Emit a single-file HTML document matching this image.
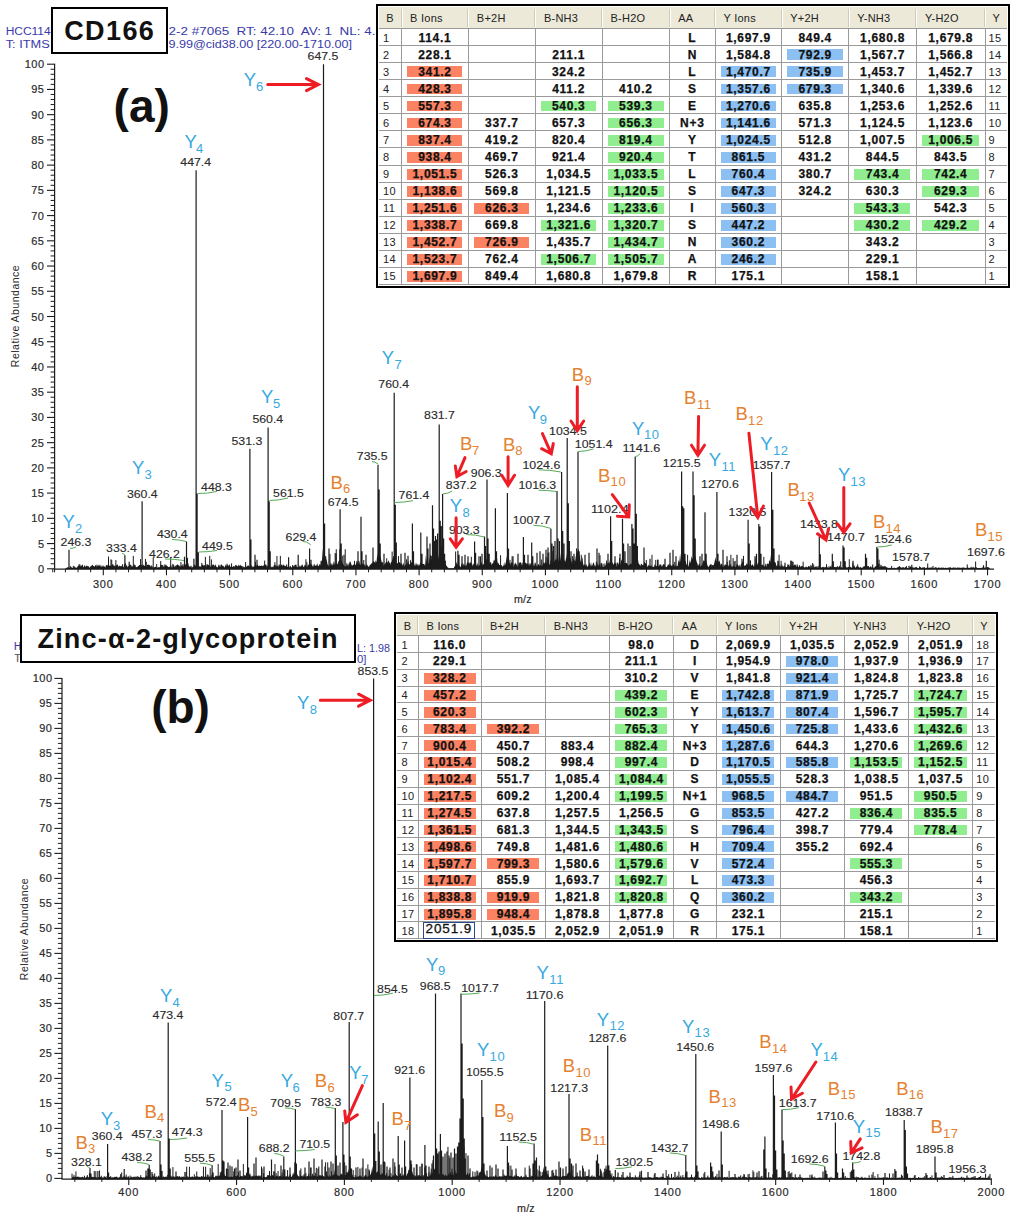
<!DOCTYPE html>
<html><head><meta charset="utf-8"><title>MS/MS spectra</title><style>
html,body{margin:0;padding:0;background:#fff}
body{width:1024px;height:1221px;position:relative;overflow:hidden;font-family:"Liberation Sans",sans-serif}
svg{position:absolute;left:0;top:0;opacity:0.999}
#w{position:absolute;left:0;top:0;width:1024px;height:1221px;opacity:0.999}
svg text{font-family:"Liberation Sans",sans-serif}
.box{position:absolute;box-sizing:border-box;border:2.6px solid #000;background:#fff;text-align:center;font-weight:bold;color:#111;white-space:nowrap;letter-spacing:0.2px}
.big{position:absolute;text-align:center;font-weight:bold;font-size:46px;line-height:56px;color:#111;white-space:nowrap}
.tbl{position:absolute;box-sizing:border-box;border:2.8px solid #000;background:#fff}
.hdr{position:absolute;background:#ece9d8;border-bottom:1px solid #c9c5b2;box-sizing:border-box}
.hc{position:absolute;font-size:11px;color:#222;line-height:22.5px;white-space:nowrap;letter-spacing:0.25px}
.hs{position:absolute;width:1px;background:#cfcbb8;border-right:1px solid #fff}
.gl{position:absolute;background:#9a9a9a}
.hl{position:absolute}
.dc{position:absolute;text-align:center;font-weight:bold;font-size:12px;color:#111;white-space:nowrap;letter-spacing:0.7px;-webkit-text-stroke:0.25px #111}
.ic{position:absolute;font-size:11px;color:#222;white-space:nowrap;letter-spacing:0.4px}
.eb{position:absolute;box-sizing:border-box;border:1.5px solid #2b4a8c;background:#fff;font-size:13.5px;line-height:12.5px;color:#111;text-align:left;padding-left:2px;white-space:nowrap;letter-spacing:0.9px;overflow:hidden;-webkit-text-stroke:0.3px #111}
</style></head>
<body>
<svg width="1024" height="1221" viewBox="0 0 1024 1221">
<line x1="54.60" y1="63.70" x2="54.60" y2="569.30" stroke="#1c1c1c" stroke-width="1.2" />
<line x1="54.10" y1="569.10" x2="994.00" y2="569.10" stroke="#1c1c1c" stroke-width="1.4" />
<line x1="47.00" y1="568.80" x2="54.60" y2="568.80" stroke="#1c1c1c" stroke-width="1.1" />
<text xml:space="preserve" x="44.50" y="572.80" font-size="11" fill="#2a2a2a" stroke="#2a2a2a" stroke-width="0.18" text-anchor="end" letter-spacing="0.5" font-weight="normal" >0</text>
<line x1="50.60" y1="563.75" x2="54.60" y2="563.75" stroke="#1c1c1c" stroke-width="1.0" />
<line x1="50.60" y1="558.71" x2="54.60" y2="558.71" stroke="#1c1c1c" stroke-width="1.0" />
<line x1="50.60" y1="553.66" x2="54.60" y2="553.66" stroke="#1c1c1c" stroke-width="1.0" />
<line x1="50.60" y1="548.62" x2="54.60" y2="548.62" stroke="#1c1c1c" stroke-width="1.0" />
<line x1="47.00" y1="543.57" x2="54.60" y2="543.57" stroke="#1c1c1c" stroke-width="1.1" />
<text xml:space="preserve" x="44.50" y="547.57" font-size="11" fill="#2a2a2a" stroke="#2a2a2a" stroke-width="0.18" text-anchor="end" letter-spacing="0.5" font-weight="normal" >5</text>
<line x1="50.60" y1="538.52" x2="54.60" y2="538.52" stroke="#1c1c1c" stroke-width="1.0" />
<line x1="50.60" y1="533.48" x2="54.60" y2="533.48" stroke="#1c1c1c" stroke-width="1.0" />
<line x1="50.60" y1="528.43" x2="54.60" y2="528.43" stroke="#1c1c1c" stroke-width="1.0" />
<line x1="50.60" y1="523.39" x2="54.60" y2="523.39" stroke="#1c1c1c" stroke-width="1.0" />
<line x1="47.00" y1="518.34" x2="54.60" y2="518.34" stroke="#1c1c1c" stroke-width="1.1" />
<text xml:space="preserve" x="44.50" y="522.34" font-size="11" fill="#2a2a2a" stroke="#2a2a2a" stroke-width="0.18" text-anchor="end" letter-spacing="0.5" font-weight="normal" >10</text>
<line x1="50.60" y1="513.29" x2="54.60" y2="513.29" stroke="#1c1c1c" stroke-width="1.0" />
<line x1="50.60" y1="508.25" x2="54.60" y2="508.25" stroke="#1c1c1c" stroke-width="1.0" />
<line x1="50.60" y1="503.20" x2="54.60" y2="503.20" stroke="#1c1c1c" stroke-width="1.0" />
<line x1="50.60" y1="498.16" x2="54.60" y2="498.16" stroke="#1c1c1c" stroke-width="1.0" />
<line x1="47.00" y1="493.11" x2="54.60" y2="493.11" stroke="#1c1c1c" stroke-width="1.1" />
<text xml:space="preserve" x="44.50" y="497.11" font-size="11" fill="#2a2a2a" stroke="#2a2a2a" stroke-width="0.18" text-anchor="end" letter-spacing="0.5" font-weight="normal" >15</text>
<line x1="50.60" y1="488.06" x2="54.60" y2="488.06" stroke="#1c1c1c" stroke-width="1.0" />
<line x1="50.60" y1="483.02" x2="54.60" y2="483.02" stroke="#1c1c1c" stroke-width="1.0" />
<line x1="50.60" y1="477.97" x2="54.60" y2="477.97" stroke="#1c1c1c" stroke-width="1.0" />
<line x1="50.60" y1="472.93" x2="54.60" y2="472.93" stroke="#1c1c1c" stroke-width="1.0" />
<line x1="47.00" y1="467.88" x2="54.60" y2="467.88" stroke="#1c1c1c" stroke-width="1.1" />
<text xml:space="preserve" x="44.50" y="471.88" font-size="11" fill="#2a2a2a" stroke="#2a2a2a" stroke-width="0.18" text-anchor="end" letter-spacing="0.5" font-weight="normal" >20</text>
<line x1="50.60" y1="462.83" x2="54.60" y2="462.83" stroke="#1c1c1c" stroke-width="1.0" />
<line x1="50.60" y1="457.79" x2="54.60" y2="457.79" stroke="#1c1c1c" stroke-width="1.0" />
<line x1="50.60" y1="452.74" x2="54.60" y2="452.74" stroke="#1c1c1c" stroke-width="1.0" />
<line x1="50.60" y1="447.70" x2="54.60" y2="447.70" stroke="#1c1c1c" stroke-width="1.0" />
<line x1="47.00" y1="442.65" x2="54.60" y2="442.65" stroke="#1c1c1c" stroke-width="1.1" />
<text xml:space="preserve" x="44.50" y="446.65" font-size="11" fill="#2a2a2a" stroke="#2a2a2a" stroke-width="0.18" text-anchor="end" letter-spacing="0.5" font-weight="normal" >25</text>
<line x1="50.60" y1="437.60" x2="54.60" y2="437.60" stroke="#1c1c1c" stroke-width="1.0" />
<line x1="50.60" y1="432.56" x2="54.60" y2="432.56" stroke="#1c1c1c" stroke-width="1.0" />
<line x1="50.60" y1="427.51" x2="54.60" y2="427.51" stroke="#1c1c1c" stroke-width="1.0" />
<line x1="50.60" y1="422.47" x2="54.60" y2="422.47" stroke="#1c1c1c" stroke-width="1.0" />
<line x1="47.00" y1="417.42" x2="54.60" y2="417.42" stroke="#1c1c1c" stroke-width="1.1" />
<text xml:space="preserve" x="44.50" y="421.42" font-size="11" fill="#2a2a2a" stroke="#2a2a2a" stroke-width="0.18" text-anchor="end" letter-spacing="0.5" font-weight="normal" >30</text>
<line x1="50.60" y1="412.37" x2="54.60" y2="412.37" stroke="#1c1c1c" stroke-width="1.0" />
<line x1="50.60" y1="407.33" x2="54.60" y2="407.33" stroke="#1c1c1c" stroke-width="1.0" />
<line x1="50.60" y1="402.28" x2="54.60" y2="402.28" stroke="#1c1c1c" stroke-width="1.0" />
<line x1="50.60" y1="397.24" x2="54.60" y2="397.24" stroke="#1c1c1c" stroke-width="1.0" />
<line x1="47.00" y1="392.19" x2="54.60" y2="392.19" stroke="#1c1c1c" stroke-width="1.1" />
<text xml:space="preserve" x="44.50" y="396.19" font-size="11" fill="#2a2a2a" stroke="#2a2a2a" stroke-width="0.18" text-anchor="end" letter-spacing="0.5" font-weight="normal" >35</text>
<line x1="50.60" y1="387.14" x2="54.60" y2="387.14" stroke="#1c1c1c" stroke-width="1.0" />
<line x1="50.60" y1="382.10" x2="54.60" y2="382.10" stroke="#1c1c1c" stroke-width="1.0" />
<line x1="50.60" y1="377.05" x2="54.60" y2="377.05" stroke="#1c1c1c" stroke-width="1.0" />
<line x1="50.60" y1="372.01" x2="54.60" y2="372.01" stroke="#1c1c1c" stroke-width="1.0" />
<line x1="47.00" y1="366.96" x2="54.60" y2="366.96" stroke="#1c1c1c" stroke-width="1.1" />
<text xml:space="preserve" x="44.50" y="370.96" font-size="11" fill="#2a2a2a" stroke="#2a2a2a" stroke-width="0.18" text-anchor="end" letter-spacing="0.5" font-weight="normal" >40</text>
<line x1="50.60" y1="361.91" x2="54.60" y2="361.91" stroke="#1c1c1c" stroke-width="1.0" />
<line x1="50.60" y1="356.87" x2="54.60" y2="356.87" stroke="#1c1c1c" stroke-width="1.0" />
<line x1="50.60" y1="351.82" x2="54.60" y2="351.82" stroke="#1c1c1c" stroke-width="1.0" />
<line x1="50.60" y1="346.78" x2="54.60" y2="346.78" stroke="#1c1c1c" stroke-width="1.0" />
<line x1="47.00" y1="341.73" x2="54.60" y2="341.73" stroke="#1c1c1c" stroke-width="1.1" />
<text xml:space="preserve" x="44.50" y="345.73" font-size="11" fill="#2a2a2a" stroke="#2a2a2a" stroke-width="0.18" text-anchor="end" letter-spacing="0.5" font-weight="normal" >45</text>
<line x1="50.60" y1="336.68" x2="54.60" y2="336.68" stroke="#1c1c1c" stroke-width="1.0" />
<line x1="50.60" y1="331.64" x2="54.60" y2="331.64" stroke="#1c1c1c" stroke-width="1.0" />
<line x1="50.60" y1="326.59" x2="54.60" y2="326.59" stroke="#1c1c1c" stroke-width="1.0" />
<line x1="50.60" y1="321.55" x2="54.60" y2="321.55" stroke="#1c1c1c" stroke-width="1.0" />
<line x1="47.00" y1="316.50" x2="54.60" y2="316.50" stroke="#1c1c1c" stroke-width="1.1" />
<text xml:space="preserve" x="44.50" y="320.50" font-size="11" fill="#2a2a2a" stroke="#2a2a2a" stroke-width="0.18" text-anchor="end" letter-spacing="0.5" font-weight="normal" >50</text>
<line x1="50.60" y1="311.45" x2="54.60" y2="311.45" stroke="#1c1c1c" stroke-width="1.0" />
<line x1="50.60" y1="306.41" x2="54.60" y2="306.41" stroke="#1c1c1c" stroke-width="1.0" />
<line x1="50.60" y1="301.36" x2="54.60" y2="301.36" stroke="#1c1c1c" stroke-width="1.0" />
<line x1="50.60" y1="296.32" x2="54.60" y2="296.32" stroke="#1c1c1c" stroke-width="1.0" />
<line x1="47.00" y1="291.27" x2="54.60" y2="291.27" stroke="#1c1c1c" stroke-width="1.1" />
<text xml:space="preserve" x="44.50" y="295.27" font-size="11" fill="#2a2a2a" stroke="#2a2a2a" stroke-width="0.18" text-anchor="end" letter-spacing="0.5" font-weight="normal" >55</text>
<line x1="50.60" y1="286.22" x2="54.60" y2="286.22" stroke="#1c1c1c" stroke-width="1.0" />
<line x1="50.60" y1="281.18" x2="54.60" y2="281.18" stroke="#1c1c1c" stroke-width="1.0" />
<line x1="50.60" y1="276.13" x2="54.60" y2="276.13" stroke="#1c1c1c" stroke-width="1.0" />
<line x1="50.60" y1="271.09" x2="54.60" y2="271.09" stroke="#1c1c1c" stroke-width="1.0" />
<line x1="47.00" y1="266.04" x2="54.60" y2="266.04" stroke="#1c1c1c" stroke-width="1.1" />
<text xml:space="preserve" x="44.50" y="270.04" font-size="11" fill="#2a2a2a" stroke="#2a2a2a" stroke-width="0.18" text-anchor="end" letter-spacing="0.5" font-weight="normal" >60</text>
<line x1="50.60" y1="260.99" x2="54.60" y2="260.99" stroke="#1c1c1c" stroke-width="1.0" />
<line x1="50.60" y1="255.95" x2="54.60" y2="255.95" stroke="#1c1c1c" stroke-width="1.0" />
<line x1="50.60" y1="250.90" x2="54.60" y2="250.90" stroke="#1c1c1c" stroke-width="1.0" />
<line x1="50.60" y1="245.86" x2="54.60" y2="245.86" stroke="#1c1c1c" stroke-width="1.0" />
<line x1="47.00" y1="240.81" x2="54.60" y2="240.81" stroke="#1c1c1c" stroke-width="1.1" />
<text xml:space="preserve" x="44.50" y="244.81" font-size="11" fill="#2a2a2a" stroke="#2a2a2a" stroke-width="0.18" text-anchor="end" letter-spacing="0.5" font-weight="normal" >65</text>
<line x1="50.60" y1="235.76" x2="54.60" y2="235.76" stroke="#1c1c1c" stroke-width="1.0" />
<line x1="50.60" y1="230.72" x2="54.60" y2="230.72" stroke="#1c1c1c" stroke-width="1.0" />
<line x1="50.60" y1="225.67" x2="54.60" y2="225.67" stroke="#1c1c1c" stroke-width="1.0" />
<line x1="50.60" y1="220.63" x2="54.60" y2="220.63" stroke="#1c1c1c" stroke-width="1.0" />
<line x1="47.00" y1="215.58" x2="54.60" y2="215.58" stroke="#1c1c1c" stroke-width="1.1" />
<text xml:space="preserve" x="44.50" y="219.58" font-size="11" fill="#2a2a2a" stroke="#2a2a2a" stroke-width="0.18" text-anchor="end" letter-spacing="0.5" font-weight="normal" >70</text>
<line x1="50.60" y1="210.53" x2="54.60" y2="210.53" stroke="#1c1c1c" stroke-width="1.0" />
<line x1="50.60" y1="205.49" x2="54.60" y2="205.49" stroke="#1c1c1c" stroke-width="1.0" />
<line x1="50.60" y1="200.44" x2="54.60" y2="200.44" stroke="#1c1c1c" stroke-width="1.0" />
<line x1="50.60" y1="195.40" x2="54.60" y2="195.40" stroke="#1c1c1c" stroke-width="1.0" />
<line x1="47.00" y1="190.35" x2="54.60" y2="190.35" stroke="#1c1c1c" stroke-width="1.1" />
<text xml:space="preserve" x="44.50" y="194.35" font-size="11" fill="#2a2a2a" stroke="#2a2a2a" stroke-width="0.18" text-anchor="end" letter-spacing="0.5" font-weight="normal" >75</text>
<line x1="50.60" y1="185.30" x2="54.60" y2="185.30" stroke="#1c1c1c" stroke-width="1.0" />
<line x1="50.60" y1="180.26" x2="54.60" y2="180.26" stroke="#1c1c1c" stroke-width="1.0" />
<line x1="50.60" y1="175.21" x2="54.60" y2="175.21" stroke="#1c1c1c" stroke-width="1.0" />
<line x1="50.60" y1="170.17" x2="54.60" y2="170.17" stroke="#1c1c1c" stroke-width="1.0" />
<line x1="47.00" y1="165.12" x2="54.60" y2="165.12" stroke="#1c1c1c" stroke-width="1.1" />
<text xml:space="preserve" x="44.50" y="169.12" font-size="11" fill="#2a2a2a" stroke="#2a2a2a" stroke-width="0.18" text-anchor="end" letter-spacing="0.5" font-weight="normal" >80</text>
<line x1="50.60" y1="160.07" x2="54.60" y2="160.07" stroke="#1c1c1c" stroke-width="1.0" />
<line x1="50.60" y1="155.03" x2="54.60" y2="155.03" stroke="#1c1c1c" stroke-width="1.0" />
<line x1="50.60" y1="149.98" x2="54.60" y2="149.98" stroke="#1c1c1c" stroke-width="1.0" />
<line x1="50.60" y1="144.94" x2="54.60" y2="144.94" stroke="#1c1c1c" stroke-width="1.0" />
<line x1="47.00" y1="139.89" x2="54.60" y2="139.89" stroke="#1c1c1c" stroke-width="1.1" />
<text xml:space="preserve" x="44.50" y="143.89" font-size="11" fill="#2a2a2a" stroke="#2a2a2a" stroke-width="0.18" text-anchor="end" letter-spacing="0.5" font-weight="normal" >85</text>
<line x1="50.60" y1="134.84" x2="54.60" y2="134.84" stroke="#1c1c1c" stroke-width="1.0" />
<line x1="50.60" y1="129.80" x2="54.60" y2="129.80" stroke="#1c1c1c" stroke-width="1.0" />
<line x1="50.60" y1="124.75" x2="54.60" y2="124.75" stroke="#1c1c1c" stroke-width="1.0" />
<line x1="50.60" y1="119.71" x2="54.60" y2="119.71" stroke="#1c1c1c" stroke-width="1.0" />
<line x1="47.00" y1="114.66" x2="54.60" y2="114.66" stroke="#1c1c1c" stroke-width="1.1" />
<text xml:space="preserve" x="44.50" y="118.66" font-size="11" fill="#2a2a2a" stroke="#2a2a2a" stroke-width="0.18" text-anchor="end" letter-spacing="0.5" font-weight="normal" >90</text>
<line x1="50.60" y1="109.61" x2="54.60" y2="109.61" stroke="#1c1c1c" stroke-width="1.0" />
<line x1="50.60" y1="104.57" x2="54.60" y2="104.57" stroke="#1c1c1c" stroke-width="1.0" />
<line x1="50.60" y1="99.52" x2="54.60" y2="99.52" stroke="#1c1c1c" stroke-width="1.0" />
<line x1="50.60" y1="94.48" x2="54.60" y2="94.48" stroke="#1c1c1c" stroke-width="1.0" />
<line x1="47.00" y1="89.43" x2="54.60" y2="89.43" stroke="#1c1c1c" stroke-width="1.1" />
<text xml:space="preserve" x="44.50" y="93.43" font-size="11" fill="#2a2a2a" stroke="#2a2a2a" stroke-width="0.18" text-anchor="end" letter-spacing="0.5" font-weight="normal" >95</text>
<line x1="50.60" y1="84.38" x2="54.60" y2="84.38" stroke="#1c1c1c" stroke-width="1.0" />
<line x1="50.60" y1="79.34" x2="54.60" y2="79.34" stroke="#1c1c1c" stroke-width="1.0" />
<line x1="50.60" y1="74.29" x2="54.60" y2="74.29" stroke="#1c1c1c" stroke-width="1.0" />
<line x1="50.60" y1="69.25" x2="54.60" y2="69.25" stroke="#1c1c1c" stroke-width="1.0" />
<line x1="47.00" y1="64.20" x2="54.60" y2="64.20" stroke="#1c1c1c" stroke-width="1.1" />
<text xml:space="preserve" x="44.50" y="68.20" font-size="11" fill="#2a2a2a" stroke="#2a2a2a" stroke-width="0.18" text-anchor="end" letter-spacing="0.5" font-weight="normal" >100</text>
<line x1="52.77" y1="568.80" x2="52.77" y2="572.30" stroke="#1c1c1c" stroke-width="1.0" />
<line x1="65.40" y1="568.80" x2="65.40" y2="572.30" stroke="#1c1c1c" stroke-width="1.0" />
<line x1="78.04" y1="568.80" x2="78.04" y2="572.30" stroke="#1c1c1c" stroke-width="1.0" />
<line x1="90.67" y1="568.80" x2="90.67" y2="572.30" stroke="#1c1c1c" stroke-width="1.0" />
<line x1="103.30" y1="568.80" x2="103.30" y2="575.30" stroke="#1c1c1c" stroke-width="1.1" />
<text xml:space="preserve" x="103.30" y="588.00" font-size="11" fill="#2a2a2a" stroke="#2a2a2a" stroke-width="0.18" text-anchor="middle" letter-spacing="0.8" font-weight="normal" >300</text>
<line x1="115.93" y1="568.80" x2="115.93" y2="572.30" stroke="#1c1c1c" stroke-width="1.0" />
<line x1="128.56" y1="568.80" x2="128.56" y2="572.30" stroke="#1c1c1c" stroke-width="1.0" />
<line x1="141.20" y1="568.80" x2="141.20" y2="572.30" stroke="#1c1c1c" stroke-width="1.0" />
<line x1="153.83" y1="568.80" x2="153.83" y2="572.30" stroke="#1c1c1c" stroke-width="1.0" />
<line x1="166.46" y1="568.80" x2="166.46" y2="575.30" stroke="#1c1c1c" stroke-width="1.1" />
<text xml:space="preserve" x="166.46" y="588.00" font-size="11" fill="#2a2a2a" stroke="#2a2a2a" stroke-width="0.18" text-anchor="middle" letter-spacing="0.8" font-weight="normal" >400</text>
<line x1="179.09" y1="568.80" x2="179.09" y2="572.30" stroke="#1c1c1c" stroke-width="1.0" />
<line x1="191.72" y1="568.80" x2="191.72" y2="572.30" stroke="#1c1c1c" stroke-width="1.0" />
<line x1="204.36" y1="568.80" x2="204.36" y2="572.30" stroke="#1c1c1c" stroke-width="1.0" />
<line x1="216.99" y1="568.80" x2="216.99" y2="572.30" stroke="#1c1c1c" stroke-width="1.0" />
<line x1="229.62" y1="568.80" x2="229.62" y2="575.30" stroke="#1c1c1c" stroke-width="1.1" />
<text xml:space="preserve" x="229.62" y="588.00" font-size="11" fill="#2a2a2a" stroke="#2a2a2a" stroke-width="0.18" text-anchor="middle" letter-spacing="0.8" font-weight="normal" >500</text>
<line x1="242.25" y1="568.80" x2="242.25" y2="572.30" stroke="#1c1c1c" stroke-width="1.0" />
<line x1="254.88" y1="568.80" x2="254.88" y2="572.30" stroke="#1c1c1c" stroke-width="1.0" />
<line x1="267.52" y1="568.80" x2="267.52" y2="572.30" stroke="#1c1c1c" stroke-width="1.0" />
<line x1="280.15" y1="568.80" x2="280.15" y2="572.30" stroke="#1c1c1c" stroke-width="1.0" />
<line x1="292.78" y1="568.80" x2="292.78" y2="575.30" stroke="#1c1c1c" stroke-width="1.1" />
<text xml:space="preserve" x="292.78" y="588.00" font-size="11" fill="#2a2a2a" stroke="#2a2a2a" stroke-width="0.18" text-anchor="middle" letter-spacing="0.8" font-weight="normal" >600</text>
<line x1="305.41" y1="568.80" x2="305.41" y2="572.30" stroke="#1c1c1c" stroke-width="1.0" />
<line x1="318.04" y1="568.80" x2="318.04" y2="572.30" stroke="#1c1c1c" stroke-width="1.0" />
<line x1="330.68" y1="568.80" x2="330.68" y2="572.30" stroke="#1c1c1c" stroke-width="1.0" />
<line x1="343.31" y1="568.80" x2="343.31" y2="572.30" stroke="#1c1c1c" stroke-width="1.0" />
<line x1="355.94" y1="568.80" x2="355.94" y2="575.30" stroke="#1c1c1c" stroke-width="1.1" />
<text xml:space="preserve" x="355.94" y="588.00" font-size="11" fill="#2a2a2a" stroke="#2a2a2a" stroke-width="0.18" text-anchor="middle" letter-spacing="0.8" font-weight="normal" >700</text>
<line x1="368.57" y1="568.80" x2="368.57" y2="572.30" stroke="#1c1c1c" stroke-width="1.0" />
<line x1="381.20" y1="568.80" x2="381.20" y2="572.30" stroke="#1c1c1c" stroke-width="1.0" />
<line x1="393.84" y1="568.80" x2="393.84" y2="572.30" stroke="#1c1c1c" stroke-width="1.0" />
<line x1="406.47" y1="568.80" x2="406.47" y2="572.30" stroke="#1c1c1c" stroke-width="1.0" />
<line x1="419.10" y1="568.80" x2="419.10" y2="575.30" stroke="#1c1c1c" stroke-width="1.1" />
<text xml:space="preserve" x="419.10" y="588.00" font-size="11" fill="#2a2a2a" stroke="#2a2a2a" stroke-width="0.18" text-anchor="middle" letter-spacing="0.8" font-weight="normal" >800</text>
<line x1="431.73" y1="568.80" x2="431.73" y2="572.30" stroke="#1c1c1c" stroke-width="1.0" />
<line x1="444.36" y1="568.80" x2="444.36" y2="572.30" stroke="#1c1c1c" stroke-width="1.0" />
<line x1="457.00" y1="568.80" x2="457.00" y2="572.30" stroke="#1c1c1c" stroke-width="1.0" />
<line x1="469.63" y1="568.80" x2="469.63" y2="572.30" stroke="#1c1c1c" stroke-width="1.0" />
<line x1="482.26" y1="568.80" x2="482.26" y2="575.30" stroke="#1c1c1c" stroke-width="1.1" />
<text xml:space="preserve" x="482.26" y="588.00" font-size="11" fill="#2a2a2a" stroke="#2a2a2a" stroke-width="0.18" text-anchor="middle" letter-spacing="0.8" font-weight="normal" >900</text>
<line x1="494.89" y1="568.80" x2="494.89" y2="572.30" stroke="#1c1c1c" stroke-width="1.0" />
<line x1="507.52" y1="568.80" x2="507.52" y2="572.30" stroke="#1c1c1c" stroke-width="1.0" />
<line x1="520.16" y1="568.80" x2="520.16" y2="572.30" stroke="#1c1c1c" stroke-width="1.0" />
<line x1="532.79" y1="568.80" x2="532.79" y2="572.30" stroke="#1c1c1c" stroke-width="1.0" />
<line x1="545.42" y1="568.80" x2="545.42" y2="575.30" stroke="#1c1c1c" stroke-width="1.1" />
<text xml:space="preserve" x="545.42" y="588.00" font-size="11" fill="#2a2a2a" stroke="#2a2a2a" stroke-width="0.18" text-anchor="middle" letter-spacing="0.8" font-weight="normal" >1000</text>
<line x1="558.05" y1="568.80" x2="558.05" y2="572.30" stroke="#1c1c1c" stroke-width="1.0" />
<line x1="570.68" y1="568.80" x2="570.68" y2="572.30" stroke="#1c1c1c" stroke-width="1.0" />
<line x1="583.32" y1="568.80" x2="583.32" y2="572.30" stroke="#1c1c1c" stroke-width="1.0" />
<line x1="595.95" y1="568.80" x2="595.95" y2="572.30" stroke="#1c1c1c" stroke-width="1.0" />
<line x1="608.58" y1="568.80" x2="608.58" y2="575.30" stroke="#1c1c1c" stroke-width="1.1" />
<text xml:space="preserve" x="608.58" y="588.00" font-size="11" fill="#2a2a2a" stroke="#2a2a2a" stroke-width="0.18" text-anchor="middle" letter-spacing="0.8" font-weight="normal" >1100</text>
<line x1="621.21" y1="568.80" x2="621.21" y2="572.30" stroke="#1c1c1c" stroke-width="1.0" />
<line x1="633.84" y1="568.80" x2="633.84" y2="572.30" stroke="#1c1c1c" stroke-width="1.0" />
<line x1="646.48" y1="568.80" x2="646.48" y2="572.30" stroke="#1c1c1c" stroke-width="1.0" />
<line x1="659.11" y1="568.80" x2="659.11" y2="572.30" stroke="#1c1c1c" stroke-width="1.0" />
<line x1="671.74" y1="568.80" x2="671.74" y2="575.30" stroke="#1c1c1c" stroke-width="1.1" />
<text xml:space="preserve" x="671.74" y="588.00" font-size="11" fill="#2a2a2a" stroke="#2a2a2a" stroke-width="0.18" text-anchor="middle" letter-spacing="0.8" font-weight="normal" >1200</text>
<line x1="684.37" y1="568.80" x2="684.37" y2="572.30" stroke="#1c1c1c" stroke-width="1.0" />
<line x1="697.00" y1="568.80" x2="697.00" y2="572.30" stroke="#1c1c1c" stroke-width="1.0" />
<line x1="709.64" y1="568.80" x2="709.64" y2="572.30" stroke="#1c1c1c" stroke-width="1.0" />
<line x1="722.27" y1="568.80" x2="722.27" y2="572.30" stroke="#1c1c1c" stroke-width="1.0" />
<line x1="734.90" y1="568.80" x2="734.90" y2="575.30" stroke="#1c1c1c" stroke-width="1.1" />
<text xml:space="preserve" x="734.90" y="588.00" font-size="11" fill="#2a2a2a" stroke="#2a2a2a" stroke-width="0.18" text-anchor="middle" letter-spacing="0.8" font-weight="normal" >1300</text>
<line x1="747.53" y1="568.80" x2="747.53" y2="572.30" stroke="#1c1c1c" stroke-width="1.0" />
<line x1="760.16" y1="568.80" x2="760.16" y2="572.30" stroke="#1c1c1c" stroke-width="1.0" />
<line x1="772.80" y1="568.80" x2="772.80" y2="572.30" stroke="#1c1c1c" stroke-width="1.0" />
<line x1="785.43" y1="568.80" x2="785.43" y2="572.30" stroke="#1c1c1c" stroke-width="1.0" />
<line x1="798.06" y1="568.80" x2="798.06" y2="575.30" stroke="#1c1c1c" stroke-width="1.1" />
<text xml:space="preserve" x="798.06" y="588.00" font-size="11" fill="#2a2a2a" stroke="#2a2a2a" stroke-width="0.18" text-anchor="middle" letter-spacing="0.8" font-weight="normal" >1400</text>
<line x1="810.69" y1="568.80" x2="810.69" y2="572.30" stroke="#1c1c1c" stroke-width="1.0" />
<line x1="823.32" y1="568.80" x2="823.32" y2="572.30" stroke="#1c1c1c" stroke-width="1.0" />
<line x1="835.96" y1="568.80" x2="835.96" y2="572.30" stroke="#1c1c1c" stroke-width="1.0" />
<line x1="848.59" y1="568.80" x2="848.59" y2="572.30" stroke="#1c1c1c" stroke-width="1.0" />
<line x1="861.22" y1="568.80" x2="861.22" y2="575.30" stroke="#1c1c1c" stroke-width="1.1" />
<text xml:space="preserve" x="861.22" y="588.00" font-size="11" fill="#2a2a2a" stroke="#2a2a2a" stroke-width="0.18" text-anchor="middle" letter-spacing="0.8" font-weight="normal" >1500</text>
<line x1="873.85" y1="568.80" x2="873.85" y2="572.30" stroke="#1c1c1c" stroke-width="1.0" />
<line x1="886.48" y1="568.80" x2="886.48" y2="572.30" stroke="#1c1c1c" stroke-width="1.0" />
<line x1="899.12" y1="568.80" x2="899.12" y2="572.30" stroke="#1c1c1c" stroke-width="1.0" />
<line x1="911.75" y1="568.80" x2="911.75" y2="572.30" stroke="#1c1c1c" stroke-width="1.0" />
<line x1="924.38" y1="568.80" x2="924.38" y2="575.30" stroke="#1c1c1c" stroke-width="1.1" />
<text xml:space="preserve" x="924.38" y="588.00" font-size="11" fill="#2a2a2a" stroke="#2a2a2a" stroke-width="0.18" text-anchor="middle" letter-spacing="0.8" font-weight="normal" >1600</text>
<line x1="937.01" y1="568.80" x2="937.01" y2="572.30" stroke="#1c1c1c" stroke-width="1.0" />
<line x1="949.64" y1="568.80" x2="949.64" y2="572.30" stroke="#1c1c1c" stroke-width="1.0" />
<line x1="962.28" y1="568.80" x2="962.28" y2="572.30" stroke="#1c1c1c" stroke-width="1.0" />
<line x1="974.91" y1="568.80" x2="974.91" y2="572.30" stroke="#1c1c1c" stroke-width="1.0" />
<line x1="987.54" y1="568.80" x2="987.54" y2="575.30" stroke="#1c1c1c" stroke-width="1.1" />
<text xml:space="preserve" x="987.54" y="588.00" font-size="11" fill="#2a2a2a" stroke="#2a2a2a" stroke-width="0.18" text-anchor="middle" letter-spacing="0.8" font-weight="normal" >1700</text>
<line x1="54.60" y1="568.80" x2="54.60" y2="572.30" stroke="#1c1c1c" stroke-width="1.0" />
<text xml:space="preserve" x="522.80" y="603.30" font-size="10.7" fill="#2a2a2a" stroke="#2a2a2a" stroke-width="0.18" text-anchor="middle" letter-spacing="0.2" font-weight="normal" >m/z</text>
<text transform="translate(19,316) rotate(-90)" font-size="10.5" fill="#2a2a2a" text-anchor="middle" letter-spacing="0.5">Relative Abundance</text>
<path d="M66.0,569.10L66.00,567.71L66.70,568.02L67.40,567.11L68.10,568.16L68.80,567.32L69.50,567.63L70.20,568.19L70.90,567.37L71.60,568.23L72.30,567.51L73.00,568.17L73.70,568.13L74.40,567.52L75.10,566.79L75.80,568.07L76.50,567.89L77.20,567.16L77.90,566.57L78.60,565.69L79.30,566.35L80.00,564.24L80.70,567.62L81.40,564.67L82.10,566.74L82.80,567.27L83.50,567.36L84.20,566.67L84.90,564.83L85.60,567.13L86.30,565.68L87.00,565.47L87.70,566.44L88.40,565.80L89.10,567.56L89.80,567.57L90.50,567.04L91.20,565.32L91.90,566.24L92.60,566.65L93.30,565.66L94.00,566.14L94.70,566.70L95.40,564.90L96.10,565.25L96.80,566.90L97.50,565.70L98.20,565.88L98.90,564.61L99.60,565.14L100.30,566.74L101.00,564.23L101.70,567.36L102.40,566.27L103.10,565.04L103.80,567.24L104.50,566.01L105.20,567.65L105.90,565.36L106.60,565.01L107.30,565.71L108.00,564.61L108.70,566.65L109.40,565.26L110.10,565.63L110.80,565.68L111.50,566.13L112.20,564.74L112.90,564.36L113.60,566.07L114.30,565.38L115.00,567.57L115.70,565.24L116.40,565.44L117.10,564.18L117.80,564.80L118.50,566.76L119.20,566.39L119.90,565.36L120.60,567.71L121.30,566.11L122.00,567.18L122.70,567.37L123.40,567.58L124.10,565.00L124.80,567.32L125.50,566.89L126.20,566.37L126.90,564.62L127.60,567.50L128.30,566.16L129.00,565.79L129.70,564.58L130.40,564.81L131.10,564.65L131.80,566.78L132.50,566.28L133.20,566.49L133.90,564.58L134.60,564.31L135.30,567.24L136.00,567.15L136.70,566.95L137.40,566.94L138.10,566.03L138.80,565.65L139.50,566.84L140.20,567.78L140.90,566.27L141.60,566.45L142.30,565.73L143.00,564.33L143.70,565.28L144.40,565.92L145.10,565.55L145.80,565.33L146.50,567.59L147.20,564.52L147.90,564.96L148.60,564.61L149.30,564.89L150.00,566.37L150.70,566.34L151.40,567.41L152.10,565.49L152.80,567.56L153.50,567.55L154.20,567.03L154.90,567.20L155.60,566.56L156.30,567.60L157.00,567.79L157.70,567.24L158.40,567.42L159.10,566.47L159.80,567.70L160.50,564.61L161.20,565.56L161.90,567.25L162.60,566.87L163.30,566.53L164.00,566.47L164.70,567.34L165.40,564.71L166.10,564.18L166.80,566.10L167.50,566.03L168.20,567.48L168.90,567.42L169.60,566.55L170.30,566.83L171.00,564.78L171.70,567.20L172.40,567.71L173.10,564.34L173.80,565.87L174.50,567.26L175.20,565.82L175.90,567.69L176.60,565.87L177.30,564.24L178.00,564.65L178.70,565.26L179.40,566.84L180.10,566.46L180.80,567.18L181.50,564.99L182.20,565.86L182.90,564.96L183.60,566.59L184.30,566.98L185.00,564.84L185.70,564.21L186.40,564.69L187.10,564.86L187.80,564.82L188.50,565.10L189.20,566.97L189.90,565.91L190.60,566.50L191.30,567.69L192.00,567.69L192.70,566.78L193.40,566.85L194.10,565.27L194.80,564.32L195.50,566.17L196.20,564.39L196.90,564.20L197.60,564.32L198.30,566.47L199.00,566.99L199.70,566.97L200.40,567.08L201.10,567.05L201.80,565.52L202.50,564.52L203.20,564.74L203.90,566.05L204.60,565.42L205.30,564.89L206.00,567.48L206.70,565.39L207.40,564.49L208.10,564.95L208.80,565.07L209.50,566.05L210.20,567.14L210.90,564.92L211.60,566.58L212.30,564.88L213.00,564.26L213.70,566.35L214.40,566.33L215.10,564.35L215.80,565.16L216.50,567.17L217.20,567.33L217.90,567.24L218.60,564.50L219.30,564.86L220.00,567.26L220.70,564.79L221.40,564.23L222.10,565.40L222.80,566.52L223.50,565.80L224.20,567.31L224.90,567.74L225.60,564.26L226.30,565.43L227.00,565.88L227.70,564.40L228.40,566.21L229.10,564.62L229.80,564.79L230.50,567.02L231.20,566.88L231.90,566.73L232.60,566.92L233.30,565.66L234.00,566.85L234.70,566.27L235.40,567.31L236.10,564.48L236.80,566.51L237.50,566.13L238.20,565.67L238.90,564.51L239.60,566.26L240.30,564.46L241.00,565.97L241.70,565.86L242.40,565.89L243.10,567.72L243.80,566.19L244.50,567.13L245.20,567.78L245.90,564.89L246.60,567.16L247.30,566.07L248.00,565.16L248.70,565.77L249.40,566.61L250.10,565.91L250.80,565.77L251.50,564.94L252.20,567.41L252.90,565.76L253.60,566.89L254.30,566.78L255.00,564.99L255.70,565.95L256.40,565.75L257.10,565.03L257.80,564.48L258.50,566.18L259.20,565.57L259.90,565.95L260.60,565.93L261.30,565.27L262.00,566.15L262.70,565.85L263.40,566.05L264.10,564.37L264.80,565.25L265.50,564.61L266.20,564.37L266.90,566.85L267.60,565.76L268.30,564.36L269.00,564.74L269.70,567.29L270.40,567.35L271.10,566.18L271.80,567.53L272.50,566.92L273.20,567.53L273.90,565.36L274.60,564.94L275.30,564.53L276.00,567.23L276.70,565.19L277.40,565.39L278.10,567.27L278.80,564.58L279.50,564.28L280.20,566.99L280.90,564.33L281.60,566.34L282.30,566.02L283.00,564.19L283.70,564.77L284.40,567.20L285.10,566.22L285.80,565.92L286.50,566.56L287.20,567.08L287.90,566.63L288.60,565.17L289.30,567.72L290.00,565.78L290.70,566.19L291.40,567.73L292.10,566.59L292.80,565.52L293.50,565.93L294.20,567.56L294.90,564.21L295.60,564.93L296.30,564.26L297.00,567.41L297.70,566.83L298.40,567.65L299.10,564.96L299.80,566.81L300.50,567.32L301.20,566.26L301.90,564.48L302.60,564.82L303.30,566.85L304.00,567.25L304.70,564.45L305.40,565.72L306.10,564.36L306.80,567.13L307.50,567.28L308.20,564.41L308.90,565.61L309.60,567.21L310.30,563.28L311.00,564.66L311.70,563.90L312.40,567.16L313.10,563.65L313.80,567.24L314.50,563.62L315.20,565.48L315.90,566.00L316.60,565.03L317.30,563.33L318.00,566.32L318.70,566.21L319.40,563.68L320.10,565.52L320.80,566.34L321.50,566.01L322.20,566.71L322.90,565.75L323.60,565.05L324.30,565.09L325.00,562.21L325.70,565.19L326.40,563.85L327.10,565.90L327.80,564.83L328.50,566.92L329.20,565.44L329.90,566.94L330.60,562.37L331.30,563.53L332.00,565.83L332.70,564.02L333.40,561.09L334.10,566.36L334.80,561.83L335.50,564.29L336.20,563.89L336.90,561.73L337.60,564.53L338.30,563.81L339.00,562.66L339.70,560.79L340.40,564.85L341.10,561.74L341.80,562.54L342.50,562.99L343.20,564.46L343.90,564.82L344.60,566.69L345.30,566.21L346.00,566.58L346.70,562.32L347.40,565.41L348.10,566.00L348.80,566.50L349.50,561.69L350.20,561.50L350.90,562.77L351.60,565.24L352.30,565.49L353.00,565.17L353.70,564.11L354.40,566.03L355.10,564.20L355.80,565.36L356.50,560.92L357.20,560.85L357.90,563.56L358.60,565.48L359.30,560.89L360.00,565.07L360.70,564.77L361.40,567.03L362.10,564.61L362.80,564.02L363.50,563.84L364.20,565.76L364.90,563.82L365.60,567.00L366.30,565.35L367.00,566.46L367.70,564.49L368.40,566.77L369.10,566.89L369.80,565.10L370.50,565.55L371.20,563.31L371.90,563.67L372.60,562.26L373.30,562.85L374.00,562.48L374.70,561.44L375.40,564.56L376.10,564.96L376.80,560.77L377.50,566.08L378.20,562.43L378.90,562.94L379.60,566.76L380.30,561.72L381.00,561.36L381.70,563.05L382.40,562.37L383.10,561.87L383.80,566.15L384.50,563.70L385.20,563.83L385.90,561.73L386.60,561.92L387.30,561.78L388.00,563.32L388.70,561.36L389.40,562.69L390.10,562.63L390.80,565.57L391.50,566.84L392.20,566.19L392.90,564.74L393.60,566.37L394.30,561.72L395.00,563.48L395.70,563.04L396.40,563.05L397.10,562.71L397.80,563.92L398.50,567.01L399.20,561.96L399.90,562.28L400.60,563.84L401.30,563.63L402.00,562.84L402.70,566.61L403.40,562.35L404.10,565.43L404.80,566.56L405.50,565.35L406.20,562.40L406.90,565.73L407.60,562.33L408.30,560.83L409.00,563.89L409.70,564.60L410.40,563.99L411.10,562.69L411.80,562.16L412.50,563.11L413.20,562.95L413.90,566.54L414.60,566.10L415.30,565.42L416.00,562.31L416.70,565.10L417.40,563.42L418.10,566.95L418.80,566.65L419.50,565.33L420.20,562.76L420.90,562.63L421.60,562.74L422.30,565.18L423.00,563.75L423.70,564.08L424.40,564.07L425.10,566.28L425.80,554.97L426.50,563.17L427.20,553.97L427.90,554.47L428.60,565.31L429.30,560.10L430.00,555.84L430.70,554.09L431.40,560.21L432.10,562.35L432.80,563.04L433.50,554.35L434.20,563.03L434.90,558.65L435.60,563.85L436.30,559.33L437.00,554.27L437.70,563.95L438.40,555.84L439.10,559.51L439.80,555.05L440.50,557.22L441.20,562.79L441.90,554.92L442.60,559.78L443.30,565.23L444.00,565.48L444.70,559.71L445.40,560.20L446.10,568.48L446.80,568.57L447.50,568.46L448.20,568.48L448.90,568.19L449.60,568.65L450.30,568.24L451.00,568.19L451.70,568.58L452.40,568.14L453.10,568.26L453.80,568.16L454.50,568.49L455.20,565.26L455.90,565.15L456.60,561.84L457.30,564.08L458.00,565.32L458.70,564.95L459.40,565.79L460.10,567.02L460.80,566.73L461.50,562.74L462.20,565.73L462.90,562.19L463.60,565.93L464.30,565.84L465.00,564.50L465.70,566.25L466.40,565.25L467.10,562.08L467.80,562.47L468.50,562.86L469.20,563.85L469.90,562.31L470.60,562.16L471.30,564.29L472.00,563.36L472.70,567.02L473.40,563.30L474.10,564.83L474.80,563.18L475.50,563.77L476.20,565.73L476.90,567.02L477.60,562.24L478.30,566.59L479.00,564.71L479.70,565.41L480.40,565.66L481.10,563.26L481.80,561.97L482.50,565.87L483.20,563.71L483.90,565.65L484.60,564.25L485.30,565.14L486.00,566.37L486.70,566.41L487.40,566.15L488.10,562.35L488.80,564.58L489.50,566.09L490.20,562.35L490.90,561.86L491.60,564.83L492.30,566.53L493.00,566.24L493.70,566.79L494.40,565.42L495.10,566.79L495.80,565.98L496.50,565.88L497.20,564.18L497.90,562.45L498.60,563.20L499.30,565.04L500.00,565.03L500.70,564.43L501.40,565.23L502.10,565.44L502.80,566.95L503.50,565.77L504.20,562.01L504.90,566.60L505.60,564.54L506.30,563.85L507.00,562.58L507.70,566.11L508.40,565.81L509.10,565.93L509.80,565.11L510.50,564.86L511.20,562.09L511.90,562.66L512.60,562.53L513.30,567.17L514.00,567.11L514.70,563.42L515.40,562.40L516.10,564.71L516.80,564.09L517.50,567.29L518.20,565.15L518.90,562.24L519.60,562.79L520.30,562.62L521.00,561.99L521.70,565.93L522.40,566.69L523.10,566.44L523.80,564.44L524.50,563.57L525.20,562.16L525.90,563.35L526.60,563.76L527.30,563.12L528.00,564.79L528.70,564.28L529.40,567.07L530.10,563.02L530.80,566.02L531.50,562.27L532.20,563.77L532.90,565.63L533.60,566.59L534.30,565.91L535.00,563.82L535.70,563.48L536.40,566.68L537.10,566.90L537.80,564.43L538.50,564.11L539.20,565.17L539.90,566.07L540.60,564.01L541.30,567.23L542.00,565.64L542.70,564.78L543.40,562.06L544.10,563.77L544.80,562.47L545.50,561.28L546.20,563.68L546.90,563.56L547.60,556.43L548.30,558.98L549.00,562.95L549.70,565.81L550.40,561.05L551.10,559.29L551.80,561.83L552.50,563.45L553.20,559.36L553.90,556.78L554.60,563.76L555.30,565.68L556.00,562.65L556.70,561.82L557.40,559.21L558.10,564.05L558.80,558.06L559.50,558.64L560.20,560.98L560.90,563.97L561.60,556.33L562.30,562.91L563.00,557.83L563.70,563.72L564.40,563.81L565.10,558.43L565.80,563.08L566.50,556.51L567.20,561.07L567.90,564.15L568.60,563.79L569.30,561.86L570.00,559.38L570.70,556.55L571.40,564.56L572.10,562.09L572.80,563.90L573.50,556.29L574.20,564.61L574.90,565.51L575.60,565.42L576.30,562.09L577.00,557.05L577.70,557.20L578.40,558.70L579.10,556.06L579.80,556.72L580.50,562.74L581.20,564.17L581.90,556.67L582.60,558.57L583.30,565.71L584.00,563.67L584.70,565.22L585.40,565.25L586.10,565.48L586.80,566.36L587.50,567.27L588.20,565.76L588.90,565.37L589.60,562.08L590.30,566.61L591.00,562.03L591.70,566.16L592.40,565.34L593.10,562.81L593.80,562.81L594.50,564.93L595.20,567.02L595.90,564.71L596.60,565.26L597.30,562.28L598.00,566.23L598.70,565.30L599.40,562.40L600.10,567.12L600.80,565.05L601.50,562.86L602.20,563.11L602.90,567.06L603.60,567.10L604.30,566.95L605.00,562.27L605.70,565.89L606.40,563.21L607.10,562.39L607.80,565.44L608.50,565.80L609.20,562.07L609.90,563.92L610.60,565.86L611.30,563.38L612.00,565.56L612.70,565.78L613.40,567.27L614.10,563.17L614.80,562.29L615.50,563.83L616.20,562.15L616.90,567.15L617.60,566.01L618.30,564.70L619.00,562.07L619.70,562.09L620.40,565.18L621.10,565.92L621.80,564.94L622.50,564.60L623.20,562.23L623.90,566.29L624.60,562.91L625.30,563.26L626.00,562.80L626.70,563.07L627.40,563.98L628.10,565.50L628.80,565.54L629.50,565.31L630.20,563.02L630.90,566.86L631.60,566.21L632.30,563.18L633.00,565.94L633.70,566.93L634.40,567.10L635.10,564.27L635.80,565.51L636.50,561.94L637.20,562.47L637.90,561.90L638.60,565.84L639.30,566.83L640.00,566.76L640.70,564.57L641.40,563.42L642.10,564.85L642.80,566.01L643.50,565.01L644.20,563.91L644.90,563.61L645.60,563.21L646.30,562.67L647.00,564.95L647.70,567.17L648.40,564.23L649.10,566.46L649.80,565.35L650.50,566.14L651.20,564.65L651.90,566.85L652.60,566.65L653.30,566.66L654.00,567.04L654.70,564.05L655.40,565.30L656.10,566.33L656.80,566.05L657.50,563.61L658.20,565.59L658.90,566.72L659.60,564.36L660.30,564.99L661.00,563.61L661.70,567.25L662.40,565.72L663.10,564.32L663.80,564.23L664.50,563.93L665.20,567.50L665.90,566.46L666.60,567.18L667.30,566.89L668.00,563.69L668.70,565.28L669.40,563.86L670.10,566.14L670.80,564.12L671.50,565.83L672.20,566.60L672.90,564.49L673.60,563.80L674.30,567.23L675.00,565.23L675.70,565.13L676.40,566.78L677.10,566.16L677.80,567.09L678.50,566.83L679.20,566.62L679.90,565.21L680.60,565.00L681.30,566.83L682.00,567.62L682.70,566.33L683.40,564.89L684.10,566.91L684.80,566.39L685.50,566.83L686.20,564.41L686.90,565.42L687.60,567.41L688.30,567.25L689.00,566.05L689.70,565.42L690.40,565.05L691.10,567.29L691.80,567.00L692.50,564.82L693.20,565.99L693.90,566.51L694.60,566.41L695.30,563.77L696.00,566.39L696.70,565.35L697.40,566.20L698.10,565.96L698.80,564.13L699.50,563.59L700.20,566.18L700.90,566.86L701.60,564.69L702.30,566.83L703.00,567.64L703.70,563.98L704.40,565.93L705.10,564.31L705.80,566.00L706.50,564.06L707.20,565.78L707.90,567.00L708.60,567.60L709.30,565.41L710.00,565.05L710.70,563.95L711.40,567.30L712.10,565.12L712.80,566.15L713.50,565.60L714.20,567.07L714.90,566.51L715.60,565.53L716.30,563.88L717.00,567.22L717.70,565.66L718.40,564.38L719.10,563.71L719.80,566.86L720.50,567.15L721.20,563.81L721.90,563.68L722.60,565.69L723.30,567.45L724.00,563.88L724.70,566.08L725.40,563.97L726.10,565.13L726.80,564.29L727.50,567.01L728.20,564.45L728.90,566.76L729.60,566.01L730.30,564.21L731.00,564.28L731.70,566.92L732.40,566.77L733.10,566.03L733.80,565.55L734.50,566.10L735.20,567.16L735.90,566.65L736.60,564.70L737.30,564.00L738.00,567.50L738.70,565.37L739.40,564.57L740.10,567.51L740.80,564.24L741.50,567.18L742.20,565.21L742.90,565.42L743.60,565.10L744.30,566.41L745.00,565.95L745.70,565.28L746.40,565.92L747.10,564.97L747.80,565.84L748.50,565.87L749.20,567.57L749.90,565.14L750.60,565.66L751.30,566.70L752.00,564.54L752.70,564.48L753.40,565.79L754.10,566.93L754.80,565.73L755.50,567.23L756.20,567.14L756.90,565.90L757.60,567.29L758.30,565.86L759.00,565.58L759.70,567.50L760.40,565.06L761.10,567.33L761.80,564.67L762.50,564.49L763.20,565.57L763.90,567.44L764.60,565.60L765.30,566.12L766.00,563.78L766.70,567.11L767.40,564.16L768.10,563.59L768.80,564.67L769.50,564.33L770.20,566.87L770.90,563.65L771.60,565.65L772.30,563.75L773.00,563.92L773.70,566.99L774.40,564.44L775.10,563.86L775.80,567.40L776.50,566.23L777.20,564.57L777.90,567.02L778.60,564.00L779.30,566.54L780.00,564.33L780.70,567.08L781.40,565.61L782.10,563.90L782.80,566.81L783.50,566.59L784.20,565.60L784.90,566.36L785.60,567.51L786.30,566.92L787.00,567.01L787.70,563.84L788.40,564.89L789.10,564.00L789.80,566.97L790.50,564.46L791.20,567.19L791.90,565.50L792.60,565.06L793.30,566.19L794.00,564.10L794.70,565.40L795.40,565.29L796.10,564.06L796.80,567.24L797.50,563.61L798.20,566.74L798.90,567.27L799.60,566.36L800.30,567.57L801.00,565.92L801.70,566.86L802.40,567.35L803.10,566.43L803.80,567.16L804.50,567.77L805.20,566.48L805.90,568.06L806.60,566.31L807.30,567.59L808.00,566.72L808.70,565.93L809.40,566.84L810.10,566.66L810.80,567.46L811.50,568.17L812.20,568.09L812.90,567.83L813.60,566.77L814.30,567.19L815.00,567.01L815.70,566.14L816.40,567.87L817.10,567.65L817.80,566.69L818.50,568.12L819.20,568.16L819.90,567.36L820.60,567.93L821.30,567.36L822.00,567.66L822.70,566.84L823.40,566.83L824.10,567.71L824.80,566.75L825.50,567.09L826.20,567.86L826.90,566.04L827.60,567.62L828.30,567.83L829.00,567.95L829.70,566.72L830.40,566.19L831.10,566.39L831.80,567.26L832.50,567.57L833.20,568.14L833.90,566.70L834.60,566.89L835.30,567.37L836.00,566.70L836.70,567.16L837.40,566.04L838.10,566.50L838.80,567.60L839.50,566.12L840.20,568.07L840.90,566.96L841.60,567.25L842.30,567.63L843.00,568.04L843.70,566.40L844.40,568.14L845.10,566.92L845.80,566.03L846.50,567.85L847.20,567.72L847.90,566.79L848.60,567.02L849.30,566.71L850.00,566.32L850.70,567.77L851.40,567.47L852.10,567.49L852.80,568.06L853.50,566.15L854.20,566.39L854.90,566.54L855.60,568.15L856.30,566.25L857.00,566.48L857.70,567.11L858.40,566.48L859.10,567.14L859.80,567.66L860.50,567.93L861.20,567.64L861.90,568.08L862.60,567.41L863.30,566.47L864.00,566.59L864.70,566.25L865.40,566.55L866.10,567.57L866.80,566.91L867.50,567.18L868.20,566.38L868.90,566.98L869.60,567.57L870.30,566.71L871.00,565.98L871.70,567.68L872.40,566.17L873.10,568.13L873.80,567.58L874.50,567.63L875.20,566.48L875.90,566.02L876.60,566.47L877.30,567.43L878.00,566.17L878.70,567.42L879.40,567.63L880.10,566.11L880.80,566.74L881.50,566.60L882.20,566.66L882.90,565.95L883.60,567.10L884.30,566.26L885.00,566.59L885.70,566.22L886.40,567.18L887.10,567.43L887.80,567.64L888.50,568.00L889.20,568.13L889.90,567.57L890.60,568.32L891.30,567.18L892.00,568.22L892.70,568.38L893.40,568.28L894.10,567.16L894.80,567.95L895.50,568.23L896.20,568.38L896.90,568.36L897.60,567.48L898.30,567.56L899.00,567.47L899.70,567.42L900.40,568.33L901.10,567.62L901.80,567.93L902.50,567.31L903.20,567.30L903.90,567.21L904.60,568.33L905.30,567.24L906.00,567.18L906.70,567.13L907.40,568.28L908.10,568.14L908.80,568.27L909.50,568.37L910.20,567.27L910.90,567.32L911.60,567.56L912.30,567.30L913.00,567.56L913.70,568.03L914.40,568.29L915.10,568.29L915.80,567.39L916.50,568.14L917.20,567.99L917.90,567.84L918.60,568.39L919.30,568.07L920.00,568.04L920.70,567.45L921.40,567.92L922.10,567.98L922.80,567.11L923.50,567.74L924.20,567.26L924.90,567.58L925.60,568.38L926.30,567.86L927.00,567.83L927.70,567.37L928.40,567.95L929.10,567.46L929.80,567.69L930.50,568.13L931.20,567.25L931.90,568.30L932.60,567.30L933.30,568.19L934.00,568.42L934.70,568.15L935.40,567.38L936.10,567.09L936.80,568.42L937.50,567.75L938.20,567.75L938.90,567.34L939.60,568.17L940.30,567.75L941.00,567.95L941.70,567.29L942.40,568.07L943.10,567.14L943.80,568.03L944.50,568.13L945.20,567.47L945.90,567.74L946.60,568.27L947.30,567.55L948.00,568.31L948.70,567.35L949.40,567.47L950.10,567.35L950.80,567.57L951.50,567.94L952.20,567.87L952.90,567.88L953.60,567.21L954.30,568.30L955.00,567.21L955.70,568.39L956.40,568.14L957.10,568.06L957.80,567.19L958.50,567.74L959.20,567.90L959.90,567.22L960.60,568.10L961.30,567.79L962.00,567.70L962.70,567.39L963.40,567.40L964.10,567.54L964.80,567.95L965.50,567.98L966.20,568.21L966.90,567.27L967.60,567.52L968.30,567.41L969.00,568.19L969.70,567.82L970.40,567.37L971.10,567.63L971.80,568.25L972.50,567.79L973.20,567.22L973.90,568.10L974.60,568.16L975.30,568.01L976.00,567.46L976.70,567.27L977.40,568.21L978.10,568.21L978.80,568.08L979.50,567.98L980.20,567.71L980.90,568.20L981.60,567.97L982.30,568.16L983.00,567.09L983.70,567.43L984.40,568.28L985.10,567.11L985.80,568.28L986.50,567.90L987.20,567.08L987.90,567.34L988.60,567.42L989.30,567.83L990.0,569.10Z" fill="#1c1c1c" stroke="none"/>
<path d="M66.00,569.10V568.36M66.76,569.10V568.64M67.49,569.10V567.77M68.53,569.10V567.40M69.47,569.10V568.49M70.37,569.10V566.07M71.29,569.10V567.08M72.20,569.10V568.28M73.33,569.10V565.80M74.45,569.10V566.50M75.38,569.10V568.04M76.14,569.10V567.70M77.19,569.10V568.10M78.10,569.10V566.35M79.01,569.10V564.26M79.81,569.10V564.51M80.70,569.10V566.08M81.43,569.10V567.69M82.52,569.10V564.81M83.28,569.10V567.59M84.33,569.10V565.90M85.44,569.10V567.76M86.60,569.10V567.85M87.50,569.10V566.77M88.68,569.10V568.18M89.52,569.10V568.08M90.43,569.10V566.60M91.31,569.10V568.36M92.38,569.10V564.83M93.20,569.10V566.52M94.01,569.10V568.24M95.11,569.10V567.38M96.09,569.10V567.77M96.97,569.10V564.69M98.07,569.10V567.91M99.04,569.10V568.26M99.92,569.10V566.11M100.81,569.10V568.39M101.61,569.10V568.79M102.46,569.10V568.40M103.40,569.10V566.54M104.42,569.10V566.98M105.54,569.10V568.56M106.68,569.10V566.63M107.79,569.10V567.38M108.51,569.10V556.56M109.34,569.10V568.65M110.16,569.10V566.68M110.95,569.10V559.34M111.74,569.10V559.85M112.83,569.10V564.34M113.91,569.10V566.22M114.95,569.10V565.75M115.87,569.10V560.15M116.71,569.10V568.42M117.66,569.10V568.71M118.44,569.10V567.84M119.41,569.10V565.99M120.52,569.10V566.25M121.55,569.10V566.21M122.46,569.10V564.23M123.48,569.10V567.37M124.48,569.10V564.17M125.35,569.10V563.15M126.29,569.10V565.58M127.34,569.10V567.41M128.47,569.10V568.16M129.43,569.10V566.72M130.35,569.10V566.58M131.45,569.10V567.40M132.36,569.10V567.81M133.31,569.10V555.88M134.40,569.10V568.23M135.25,569.10V565.24M136.34,569.10V568.63M137.47,569.10V567.69M138.33,569.10V568.79M139.48,569.10V565.01M140.56,569.10V559.09M141.57,569.10V564.82M142.57,569.10V567.19M143.59,569.10V566.33M144.36,569.10V568.52M145.44,569.10V558.89M146.32,569.10V561.82M147.30,569.10V568.38M148.22,569.10V568.26M149.23,569.10V564.96M150.22,569.10V568.74M151.31,569.10V565.34M152.24,569.10V568.78M153.23,569.10V557.59M154.17,569.10V568.05M155.19,569.10V568.46M155.91,569.10V568.78M156.68,569.10V564.01M157.80,569.10V568.60M158.86,569.10V567.68M159.66,569.10V568.59M160.71,569.10V560.99M161.46,569.10V564.80M162.39,569.10V564.99M163.56,569.10V567.02M164.28,569.10V564.55M165.03,569.10V567.30M165.83,569.10V566.01M166.57,569.10V566.95M167.49,569.10V567.20M168.58,569.10V566.98M169.59,569.10V568.04M170.68,569.10V557.10M171.66,569.10V568.31M172.83,569.10V563.90M173.70,569.10V565.04M174.81,569.10V567.50M175.73,569.10V565.71M176.77,569.10V565.08M177.86,569.10V568.33M178.70,569.10V566.58M179.80,569.10V565.71M180.91,569.10V562.06M181.89,569.10V567.51M182.99,569.10V564.14M183.86,569.10V568.44M184.96,569.10V567.90M186.11,569.10V567.72M187.14,569.10V567.92M187.98,569.10V563.19M188.91,569.10V568.43M189.99,569.10V567.73M191.13,569.10V565.74M192.07,569.10V567.54M192.87,569.10V568.00M193.75,569.10V567.63M194.71,569.10V568.57M195.90,569.10V568.14M196.91,569.10V566.61M197.91,569.10V568.20M198.63,569.10V568.66M199.75,569.10V566.11M200.59,569.10V566.67M201.75,569.10V562.92M202.92,569.10V568.39M203.73,569.10V568.52M204.47,569.10V565.51M205.40,569.10V556.93M206.14,569.10V567.51M206.91,569.10V564.28M207.89,569.10V564.67M208.92,569.10V568.09M209.71,569.10V555.88M210.53,569.10V568.74M211.41,569.10V559.39M212.52,569.10V568.61M213.57,569.10V564.60M214.31,569.10V568.17M215.47,569.10V567.20M216.46,569.10V566.80M217.33,569.10V568.38M218.27,569.10V568.54M219.05,569.10V567.20M220.10,569.10V568.49M221.25,569.10V567.79M222.38,569.10V565.70M223.30,569.10V568.39M224.41,569.10V567.40M225.29,569.10V566.35M226.30,569.10V568.58M227.04,569.10V563.75M227.82,569.10V565.91M228.73,569.10V568.56M229.84,569.10V568.22M230.79,569.10V567.25M231.55,569.10V563.37M232.69,569.10V567.24M233.63,569.10V568.32M234.44,569.10V566.97M235.62,569.10V565.14M236.47,569.10V565.60M237.53,569.10V567.40M238.25,569.10V566.48M239.03,569.10V568.79M239.99,569.10V568.51M241.14,569.10V567.81M241.92,569.10V568.00M242.97,569.10V568.49M243.72,569.10V567.47M244.56,569.10V567.87M245.61,569.10V562.06M246.42,569.10V568.53M247.33,569.10V566.99M248.43,569.10V567.15M249.55,569.10V567.84M250.69,569.10V566.19M251.53,569.10V567.97M252.42,569.10V568.55M253.41,569.10V568.79M254.34,569.10V567.78M255.39,569.10V561.95M256.26,569.10V567.05M257.32,569.10V568.55M258.49,569.10V567.84M259.45,569.10V567.71M260.63,569.10V568.44M261.39,569.10V567.64M262.11,569.10V568.39M262.92,569.10V568.73M263.91,569.10V565.81M264.67,569.10V560.58M265.40,569.10V568.61M266.35,569.10V568.34M267.26,569.10V568.21M268.38,569.10V568.16M269.45,569.10V568.08M270.60,569.10V568.10M271.72,569.10V567.75M272.87,569.10V566.68M273.70,569.10V568.22M274.88,569.10V562.21M275.98,569.10V566.14M276.94,569.10V556.02M277.77,569.10V566.59M278.65,569.10V567.73M279.57,569.10V567.81M280.35,569.10V555.88M281.51,569.10V564.75M282.64,569.10V565.75M283.66,569.10V567.55M284.50,569.10V565.65M285.51,569.10V568.39M286.43,569.10V564.54M287.28,569.10V567.33M288.28,569.10V564.38M289.12,569.10V567.91M289.90,569.10V568.61M290.75,569.10V568.06M291.58,569.10V568.67M292.69,569.10V565.00M293.72,569.10V567.89M294.65,569.10V565.59M295.58,569.10V568.27M296.40,569.10V567.79M297.39,569.10V568.78M298.51,569.10V567.70M299.46,569.10V567.45M300.31,569.10V566.71M301.06,569.10V565.90M301.80,569.10V568.11M302.86,569.10V568.64M304.03,569.10V566.90M304.90,569.10V567.05M305.91,569.10V559.23M306.86,569.10V562.03M307.94,569.10V565.55M308.99,569.10V564.45M310.11,569.10V568.78M311.10,569.10V565.32M312.09,569.10V566.07M313.21,569.10V567.15M314.14,569.10V565.71M314.99,569.10V566.30M315.89,569.10V566.84M317.00,569.10V567.58M317.80,569.10V568.16M318.79,569.10V566.65M319.94,569.10V566.04M321.05,569.10V560.92M321.97,569.10V562.83M322.70,569.10V566.74M323.85,569.10V565.13M325.04,569.10V567.00M326.07,569.10V567.58M327.07,569.10V565.74M328.10,569.10V566.96M328.99,569.10V565.18M329.98,569.10V553.83M330.92,569.10V564.70M332.11,569.10V567.76M333.21,569.10V568.34M334.39,569.10V564.48M335.15,569.10V552.91M336.25,569.10V549.22M337.17,569.10V568.38M338.12,569.10V567.06M338.92,569.10V561.77M339.80,569.10V549.22M340.53,569.10V565.06M341.39,569.10V565.90M342.25,569.10V555.76M343.28,569.10V568.26M344.25,569.10V566.62M345.22,569.10V549.22M346.13,569.10V568.48M347.20,569.10V568.52M347.99,569.10V563.58M349.00,569.10V564.74M349.72,569.10V565.16M350.77,569.10V567.72M351.61,569.10V568.06M352.60,569.10V567.74M353.49,569.10V568.40M354.48,569.10V560.87M355.49,569.10V568.09M356.64,569.10V564.03M357.78,569.10V564.62M358.78,569.10V560.84M359.94,569.10V568.11M361.00,569.10V568.18M362.13,569.10V564.12M362.95,569.10V568.33M363.76,569.10V560.00M364.73,569.10V568.50M365.63,569.10V567.52M366.40,569.10V564.48M367.23,569.10V568.28M368.06,569.10V568.55M368.93,569.10V567.60M369.69,569.10V566.58M370.46,569.10V564.66M371.55,569.10V568.37M372.61,569.10V565.46M373.42,569.10V561.35M374.24,569.10V567.31M375.29,569.10V566.67M376.28,569.10V567.67M377.28,569.10V567.11M378.05,569.10V567.02M378.89,569.10V565.15M379.92,569.10V566.73M380.82,569.10V568.58M381.93,569.10V566.06M382.70,569.10V566.76M383.65,569.10V567.93M384.51,569.10V568.17M385.56,569.10V567.98M386.71,569.10V558.26M387.83,569.10V568.45M388.55,569.10V560.76M389.43,569.10V565.04M390.48,569.10V566.78M391.36,569.10V566.35M392.13,569.10V551.58M393.18,569.10V568.70M393.97,569.10V568.25M394.86,569.10V568.70M395.87,569.10V567.40M396.86,569.10V565.68M397.78,569.10V565.95M398.49,569.10V556.10M399.34,569.10V568.49M400.34,569.10V568.68M401.11,569.10V564.92M402.25,569.10V565.38M403.29,569.10V565.27M404.40,569.10V567.98M405.56,569.10V564.90M406.60,569.10V559.32M407.61,569.10V567.31M408.66,569.10V567.42M409.81,569.10V567.84M410.55,569.10V560.23M411.38,569.10V563.22M412.40,569.10V566.86M413.14,569.10V567.70M413.95,569.10V567.88M414.99,569.10V566.06M415.82,569.10V567.01M416.98,569.10V567.73M418.11,569.10V567.72M418.98,569.10V564.62M420.06,569.10V567.49M421.05,569.10V564.43M422.16,569.10V568.50M423.04,569.10V568.23M423.89,569.10V567.25M424.82,569.10V568.50M425.75,569.10V566.73M426.50,569.10V568.66M427.57,569.10V567.65M428.74,569.10V564.99M429.69,569.10V566.18M430.66,569.10V568.69M431.68,569.10V555.84M432.70,569.10V567.47M433.48,569.10V568.43M434.59,569.10V567.19M435.61,569.10V544.28M436.40,569.10V548.66M437.46,569.10V566.98M438.57,569.10V567.03M439.54,569.10V562.75M440.37,569.10V568.25M441.38,569.10V546.32M442.52,569.10V555.49M443.47,569.10V568.01M444.46,569.10V567.70M445.25,569.10V561.12M446.01,569.10V568.79M446.81,569.10V568.53M447.92,569.10V567.63M448.83,569.10V568.60M449.79,569.10V568.68M450.71,569.10V568.14M451.85,569.10V568.76M452.78,569.10V568.62M453.58,569.10V568.78M454.51,569.10V566.65M455.64,569.10V551.44M456.64,569.10V565.27M457.68,569.10V566.81M458.66,569.10V562.33M459.68,569.10V568.05M460.82,569.10V568.74M461.85,569.10V567.54M462.88,569.10V565.98M463.79,569.10V564.23M464.69,569.10V568.54M465.82,569.10V567.12M466.94,569.10V568.18M467.91,569.10V568.19M468.88,569.10V567.24M469.65,569.10V564.44M470.40,569.10V567.69M471.32,569.10V556.74M472.37,569.10V565.80M473.56,569.10V566.09M474.66,569.10V567.75M475.83,569.10V563.79M476.61,569.10V565.63M477.44,569.10V567.81M478.43,569.10V568.29M479.48,569.10V565.44M480.49,569.10V556.35M481.63,569.10V564.46M482.70,569.10V566.27M483.74,569.10V565.10M484.63,569.10V560.71M485.68,569.10V568.53M486.44,569.10V563.98M487.21,569.10V553.09M488.04,569.10V568.35M489.15,569.10V566.95M489.87,569.10V568.09M490.68,569.10V567.09M491.71,569.10V567.78M492.84,569.10V564.12M493.94,569.10V562.50M494.81,569.10V568.45M495.94,569.10V565.38M496.74,569.10V558.47M497.64,569.10V567.43M498.75,569.10V565.77M499.76,569.10V568.63M500.57,569.10V555.21M501.30,569.10V568.41M502.24,569.10V566.98M503.12,569.10V568.76M503.99,569.10V568.76M505.17,569.10V568.70M506.20,569.10V568.13M507.15,569.10V566.96M508.12,569.10V551.44M508.84,569.10V563.82M509.97,569.10V559.79M510.99,569.10V567.84M512.08,569.10V556.31M513.11,569.10V566.61M514.18,569.10V564.49M515.05,569.10V567.10M515.80,569.10V567.93M516.98,569.10V567.41M517.81,569.10V568.23M518.58,569.10V568.76M519.51,569.10V565.23M520.37,569.10V568.41M521.22,569.10V566.57M522.20,569.10V562.93M523.35,569.10V566.94M524.14,569.10V563.54M525.03,569.10V565.64M526.15,569.10V568.65M527.29,569.10V568.12M528.01,569.10V568.42M529.06,569.10V568.28M529.87,569.10V563.21M530.89,569.10V567.47M532.06,569.10V566.85M533.16,569.10V564.38M533.93,569.10V568.36M535.06,569.10V562.62M535.88,569.10V566.40M536.90,569.10V565.65M537.77,569.10V568.67M538.50,569.10V566.71M539.45,569.10V566.87M540.38,569.10V568.72M541.36,569.10V559.51M542.37,569.10V566.07M543.12,569.10V568.44M544.20,569.10V568.23M545.12,569.10V564.12M546.09,569.10V556.91M546.96,569.10V563.55M548.01,569.10V552.80M548.87,569.10V552.36M549.80,569.10V567.53M550.96,569.10V568.25M551.90,569.10V556.97M552.78,569.10V551.09M553.85,569.10V568.43M554.63,569.10V568.56M555.61,569.10V566.57M556.49,569.10V568.17M557.55,569.10V558.92M558.28,569.10V562.95M559.46,569.10V561.13M560.34,569.10V562.54M561.20,569.10V559.72M562.26,569.10V568.05M563.17,569.10V561.05M564.15,569.10V562.94M565.31,569.10V564.97M566.14,569.10V567.62M566.96,569.10V566.28M567.98,569.10V564.86M568.80,569.10V565.53M569.92,569.10V560.89M570.99,569.10V562.08M571.86,569.10V561.42M572.65,569.10V556.05M573.58,569.10V559.19M574.39,569.10V560.44M575.47,569.10V561.07M576.59,569.10V548.35M577.32,569.10V567.49M578.03,569.10V559.37M579.10,569.10V568.40M580.13,569.10V568.43M581.28,569.10V554.81M582.46,569.10V568.67M583.55,569.10V566.32M584.50,569.10V568.24M585.26,569.10V568.68M586.13,569.10V564.33M587.07,569.10V568.49M587.87,569.10V566.35M588.93,569.10V567.33M589.81,569.10V564.65M590.69,569.10V567.33M591.82,569.10V566.01M592.62,569.10V568.15M593.35,569.10V567.29M594.33,569.10V567.85M595.37,569.10V566.56M596.34,569.10V561.70M597.47,569.10V566.12M598.33,569.10V565.51M599.23,569.10V567.77M600.01,569.10V555.22M601.01,569.10V563.27M602.01,569.10V567.80M602.82,569.10V568.05M603.90,569.10V563.73M604.95,569.10V566.43M605.92,569.10V566.50M606.63,569.10V560.50M607.59,569.10V563.37M608.41,569.10V562.79M609.30,569.10V566.16M610.27,569.10V563.05M611.13,569.10V566.70M611.95,569.10V566.79M613.09,569.10V564.92M614.06,569.10V567.43M614.84,569.10V563.24M615.80,569.10V564.26M616.62,569.10V567.65M617.55,569.10V562.60M618.69,569.10V564.51M619.58,569.10V557.99M620.36,569.10V568.45M621.12,569.10V566.13M622.08,569.10V567.52M622.98,569.10V551.44M623.90,569.10V564.86M624.98,569.10V567.82M625.86,569.10V567.24M626.75,569.10V567.92M627.47,569.10V567.44M628.21,569.10V567.61M629.06,569.10V567.97M630.16,569.10V568.22M631.28,569.10V568.32M632.37,569.10V566.76M633.11,569.10V567.56M634.16,569.10V568.06M635.18,569.10V565.27M636.07,569.10V563.57M636.88,569.10V551.44M637.77,569.10V566.48M638.51,569.10V565.81M639.47,569.10V564.64M640.55,569.10V568.64M641.48,569.10V565.04M642.39,569.10V564.91M643.31,569.10V567.37M644.41,569.10V562.08M645.32,569.10V568.55M646.29,569.10V559.92M647.06,569.10V568.40M648.16,569.10V568.63M649.23,569.10V567.48M650.27,569.10V566.83M651.01,569.10V566.93M652.00,569.10V554.77M653.12,569.10V568.55M654.08,569.10V568.77M654.93,569.10V568.32M655.76,569.10V559.91M656.71,569.10V567.93M657.57,569.10V559.65M658.69,569.10V568.33M659.43,569.10V567.58M660.36,569.10V565.75M661.25,569.10V566.23M662.40,569.10V567.51M663.26,569.10V567.59M664.24,569.10V568.18M665.33,569.10V567.23M666.42,569.10V567.37M667.58,569.10V566.13M668.32,569.10V566.22M669.06,569.10V565.64M670.05,569.10V567.90M671.03,569.10V566.24M672.06,569.10V567.01M672.88,569.10V565.90M674.02,569.10V568.43M674.78,569.10V561.84M675.69,569.10V567.09M676.83,569.10V566.96M677.57,569.10V566.91M678.68,569.10V568.25M679.67,569.10V567.06M680.46,569.10V564.94M681.57,569.10V568.05M682.75,569.10V568.01M683.64,569.10V567.17M684.61,569.10V568.64M685.67,569.10V566.25M686.44,569.10V566.00M687.59,569.10V554.77M688.55,569.10V568.25M689.62,569.10V565.68M690.38,569.10V565.79M691.37,569.10V567.56M692.15,569.10V567.36M693.27,569.10V567.63M693.99,569.10V564.65M694.87,569.10V555.68M695.61,569.10V568.16M696.44,569.10V566.64M697.52,569.10V568.24M698.50,569.10V568.34M699.59,569.10V567.36M700.32,569.10V567.66M701.34,569.10V568.16M702.22,569.10V566.67M703.01,569.10V567.96M703.88,569.10V560.41M704.82,569.10V568.54M705.95,569.10V568.60M706.91,569.10V568.60M707.71,569.10V567.58M708.59,569.10V568.45M709.40,569.10V568.58M710.53,569.10V565.64M711.25,569.10V564.24M712.34,569.10V564.96M713.16,569.10V566.60M713.99,569.10V568.75M714.95,569.10V567.23M715.71,569.10V567.43M716.70,569.10V561.84M717.44,569.10V567.52M718.62,569.10V568.61M719.66,569.10V566.12M720.76,569.10V565.99M721.48,569.10V564.32M722.38,569.10V568.65M723.45,569.10V566.99M724.32,569.10V568.56M725.14,569.10V566.97M726.33,569.10V566.31M727.27,569.10V561.94M728.34,569.10V567.19M729.35,569.10V560.31M730.11,569.10V566.79M730.90,569.10V554.77M731.97,569.10V568.14M733.12,569.10V558.12M734.23,569.10V561.44M735.15,569.10V560.88M736.28,569.10V567.19M737.24,569.10V564.16M738.41,569.10V566.34M739.52,569.10V568.38M740.45,569.10V568.37M741.60,569.10V563.55M742.50,569.10V561.84M743.53,569.10V555.89M744.44,569.10V568.39M745.55,569.10V566.92M746.66,569.10V566.30M747.60,569.10V568.77M748.70,569.10V566.34M749.63,569.10V568.15M750.51,569.10V560.35M751.36,569.10V568.65M752.41,569.10V566.15M753.51,569.10V568.22M754.24,569.10V566.05M755.08,569.10V563.77M755.90,569.10V558.78M757.03,569.10V568.00M758.20,569.10V565.59M759.00,569.10V565.98M759.97,569.10V568.80M761.13,569.10V566.05M761.96,569.10V568.11M762.93,569.10V565.65M763.83,569.10V556.81M764.86,569.10V568.44M765.78,569.10V563.77M766.81,569.10V567.21M767.77,569.10V563.67M768.71,569.10V566.75M769.45,569.10V560.62M770.43,569.10V566.10M771.57,569.10V562.87M772.30,569.10V568.17M773.46,569.10V565.27M774.45,569.10V567.43M775.35,569.10V562.55M776.20,569.10V566.52M777.17,569.10V566.32M778.19,569.10V561.38M779.08,569.10V554.77M780.12,569.10V568.28M781.11,569.10V560.86M781.99,569.10V568.56M783.12,569.10V568.00M783.91,569.10V568.21M784.76,569.10V566.61M785.93,569.10V568.47M787.09,569.10V568.45M788.01,569.10V568.62M788.91,569.10V566.59M789.75,569.10V567.76M790.68,569.10V560.56M791.76,569.10V568.20M792.83,569.10V565.91M793.87,569.10V566.58M794.75,569.10V564.83M795.60,569.10V567.22M796.68,569.10V568.61M797.66,569.10V566.82M798.50,569.10V568.55M799.47,569.10V565.26M800.38,569.10V567.34M801.24,569.10V566.19M802.25,569.10V565.83M803.15,569.10V561.69M804.03,569.10V567.54M804.91,569.10V568.28M805.87,569.10V566.94M807.01,569.10V568.67M807.76,569.10V568.33M808.87,569.10V566.02M809.78,569.10V568.05M810.89,569.10V564.88M811.67,569.10V565.99M812.62,569.10V563.03M813.69,569.10V564.46M814.82,569.10V568.44M815.87,569.10V567.96M816.61,569.10V566.47M817.45,569.10V568.59M818.21,569.10V565.96M819.30,569.10V567.68M820.05,569.10V567.19M820.77,569.10V567.92M821.61,569.10V568.75M822.58,569.10V567.35M823.69,569.10V568.70M824.70,569.10V568.43M825.68,569.10V568.18M826.50,569.10V564.19M827.46,569.10V568.72M828.19,569.10V568.18M828.93,569.10V566.29M829.92,569.10V568.35M830.91,569.10V568.15M832.10,569.10V564.69M832.97,569.10V565.01M833.91,569.10V568.67M834.94,569.10V567.71M835.82,569.10V568.61M836.67,569.10V568.26M837.62,569.10V568.29M838.67,569.10V568.61M839.65,569.10V565.75M840.72,569.10V561.33M841.77,569.10V567.68M842.58,569.10V568.77M843.64,569.10V567.92M844.52,569.10V568.35M845.70,569.10V568.48M846.50,569.10V567.69M847.59,569.10V568.26M848.36,569.10V568.38M849.29,569.10V559.21M850.38,569.10V567.17M851.16,569.10V568.51M852.11,569.10V568.59M852.83,569.10V562.76M853.99,569.10V565.32M855.05,569.10V567.58M856.17,569.10V568.67M856.98,569.10V568.02M857.70,569.10V564.32M858.63,569.10V568.69M859.60,569.10V568.73M860.61,569.10V566.89M861.62,569.10V568.60M862.77,569.10V568.37M863.76,569.10V568.68M864.69,569.10V566.58M865.74,569.10V568.29M866.79,569.10V568.75M867.70,569.10V565.98M868.52,569.10V566.15M869.46,569.10V568.41M870.46,569.10V568.74M871.64,569.10V568.57M872.72,569.10V564.42M873.79,569.10V568.77M874.96,569.10V567.37M875.70,569.10V568.11M876.52,569.10V565.99M877.53,569.10V566.58M878.32,569.10V568.75M879.08,569.10V559.67M879.88,569.10V567.35M880.84,569.10V568.52M881.97,569.10V566.61M883.09,569.10V566.75M884.04,569.10V566.36M885.13,569.10V568.73M886.10,569.10V568.50M886.82,569.10V568.08M887.93,569.10V567.92M888.70,569.10V568.24M889.61,569.10V568.62M890.59,569.10V568.57M891.64,569.10V565.93M892.41,569.10V568.56M893.48,569.10V568.56M894.66,569.10V568.02M895.41,569.10V568.62M896.40,569.10V568.41M897.31,569.10V567.37M898.46,569.10V566.80M899.60,569.10V566.05M900.33,569.10V567.07M901.25,569.10V567.68M902.41,569.10V567.92M903.24,569.10V568.61M904.11,569.10V568.75M905.28,569.10V567.19M906.36,569.10V566.06M907.43,569.10V568.63M908.34,569.10V568.79M909.47,569.10V567.46M910.55,569.10V566.54M911.64,569.10V568.40M912.74,569.10V568.23M913.63,569.10V567.63M914.42,569.10V567.65M915.39,569.10V567.33M916.53,569.10V567.03M917.29,569.10V568.67M918.43,569.10V568.79M919.49,569.10V566.38M920.41,569.10V567.04M921.47,569.10V568.06M922.31,569.10V568.76M923.12,569.10V568.35M924.14,569.10V567.45M925.13,569.10V568.17M925.88,569.10V568.76M926.76,569.10V568.72M927.71,569.10V563.51M928.55,569.10V568.02M929.31,569.10V568.61M930.35,569.10V567.91M931.11,569.10V567.37M932.22,569.10V568.75M933.04,569.10V565.88M934.07,569.10V568.63M934.87,569.10V567.55M935.90,569.10V567.46M936.69,569.10V568.72M937.87,569.10V568.07M938.86,569.10V568.67M939.58,569.10V567.79M940.75,569.10V568.12M941.52,569.10V567.98M942.41,569.10V568.41M943.24,569.10V567.96M944.13,569.10V568.03M944.94,569.10V568.67M945.82,569.10V568.26M946.95,569.10V568.72M948.06,569.10V568.66M948.98,569.10V568.73M950.03,569.10V568.75M950.97,569.10V568.70M951.89,569.10V568.73M952.78,569.10V567.84M953.75,569.10V568.76M954.82,569.10V567.55M955.99,569.10V567.77M957.15,569.10V568.41M957.94,569.10V567.74M958.69,569.10V568.33M959.63,569.10V568.10M960.55,569.10V568.60M961.58,569.10V568.56M962.76,569.10V568.45M963.48,569.10V568.24M964.20,569.10V567.84M965.17,569.10V568.66M966.17,569.10V568.24M967.26,569.10V564.39M968.38,569.10V568.11M969.18,569.10V568.41M970.32,569.10V568.75M971.05,569.10V568.49M971.86,569.10V566.71M973.02,569.10V568.02M973.73,569.10V567.23M974.67,569.10V567.72M975.62,569.10V561.52M976.44,569.10V567.85M977.62,569.10V568.48M978.79,569.10V568.59M979.67,569.10V568.21M980.56,569.10V568.53M981.27,569.10V568.30M982.20,569.10V567.55M982.98,569.10V568.65M984.14,569.10V568.71M985.10,569.10V567.48M985.84,569.10V568.66M986.84,569.10V568.48M987.97,569.10V567.16M989.14,569.10V568.33" stroke="#1c1c1c" stroke-width="1.0" fill="none"/>
<path d="M318.00,569.10L318.00,568.80L318.80,565.68L319.60,566.04L320.40,565.22L321.20,561.69L322.00,559.92L322.80,549.41L323.60,548.38L324.40,556.97L325.20,557.91L326.00,557.63L326.80,560.86L327.60,564.32L328.40,567.11L329.00,569.10ZM319.10,569.10L319.10,568.80L319.90,568.06L320.70,566.54L321.50,565.61L322.30,563.74L323.10,562.01L323.90,560.29L324.70,564.14L325.50,565.46L326.30,562.36L327.10,564.87L327.90,566.93L328.70,566.77L329.50,568.24L330.10,569.10ZM334.60,569.10L334.60,568.80L335.40,567.68L336.20,566.17L337.00,564.28L337.80,565.77L338.60,560.88L339.40,560.16L340.20,560.36L341.00,560.18L341.80,560.93L342.60,566.25L343.40,565.35L344.20,566.16L345.00,567.64L345.60,569.10ZM335.70,569.10L335.70,568.80L336.50,568.42L337.30,567.23L338.10,566.72L338.90,567.18L339.70,566.26L340.50,564.09L341.30,566.16L342.10,565.94L342.90,565.06L343.70,565.97L344.50,567.69L345.30,567.63L346.10,568.45L346.70,569.10ZM355.50,569.10L355.50,568.80L356.30,567.39L357.10,567.36L357.90,566.33L358.70,565.54L359.50,564.45L360.30,565.08L361.10,563.88L361.90,562.93L362.70,563.87L363.50,566.30L364.30,565.47L365.10,566.00L365.90,567.90L366.50,569.10ZM372.50,569.10L372.50,568.80L373.30,566.13L374.10,564.61L374.90,564.20L375.70,560.04L376.50,562.83L377.30,553.16L378.10,558.66L378.90,557.59L379.70,553.49L380.50,558.29L381.30,560.69L382.10,564.36L382.90,566.91L383.50,569.10ZM373.60,569.10L373.60,568.80L374.40,566.32L375.20,566.38L376.00,562.35L376.80,563.27L377.60,562.26L378.40,555.35L379.20,556.12L380.00,555.65L380.80,557.74L381.60,561.83L382.40,565.46L383.20,567.20L384.00,567.47L384.60,569.10ZM374.70,569.10L374.70,568.80L375.50,568.37L376.30,568.16L377.10,567.94L377.90,567.31L378.70,565.56L379.50,567.09L380.30,566.08L381.10,566.38L381.90,565.69L382.70,565.80L383.50,568.00L384.30,568.20L385.10,568.22L385.70,569.10ZM388.70,569.10L388.70,568.80L389.50,567.32L390.30,565.05L391.10,561.97L391.90,561.43L392.70,558.54L393.50,555.70L394.30,557.25L395.10,561.47L395.90,562.45L396.70,563.16L397.50,565.08L398.30,564.43L399.10,566.81L399.70,569.10ZM389.80,569.10L389.80,568.80L390.60,567.03L391.40,565.42L392.20,565.28L393.00,563.31L393.80,563.96L394.60,557.06L395.40,558.91L396.20,564.28L397.00,564.42L397.80,562.65L398.60,565.41L399.40,565.87L400.20,568.03L400.80,569.10ZM390.80,569.10L390.80,568.80L391.60,568.07L392.40,568.11L393.20,566.96L394.00,567.21L394.80,565.40L395.60,564.40L396.40,563.90L397.20,566.38L398.00,567.16L398.80,566.34L399.60,567.14L400.40,568.15L401.20,568.50L401.80,569.10ZM406.90,569.10L406.90,568.80L407.70,568.19L408.50,566.59L409.30,566.59L410.10,565.79L410.90,564.26L411.70,562.73L412.50,560.75L413.30,565.71L414.10,563.13L414.90,566.11L415.70,566.65L416.50,566.85L417.30,567.93L417.90,569.10ZM415.30,569.10L415.30,568.80L416.10,567.71L416.90,567.68L417.70,566.87L418.50,565.17L419.30,565.78L420.10,565.65L420.90,564.90L421.70,563.11L422.50,563.90L423.30,565.24L424.10,565.69L424.90,567.04L425.70,568.32L426.30,569.10ZM421.50,569.10L421.50,568.80L422.30,567.95L423.10,568.00L423.90,566.49L424.70,567.11L425.50,566.83L426.30,564.56L427.10,565.67L427.90,563.12L428.70,564.28L429.50,566.28L430.30,567.44L431.10,568.03L431.90,568.27L432.50,569.10ZM424.50,569.10L424.50,568.80L425.30,568.33L426.10,567.48L426.90,567.12L427.70,566.04L428.50,567.11L429.30,566.88L430.10,565.52L430.90,565.72L431.70,566.83L432.50,566.42L433.30,567.70L434.10,568.01L434.90,568.40L435.50,569.10ZM427.00,569.10L427.00,568.80L427.80,567.07L428.60,566.39L429.40,564.89L430.20,561.04L431.00,559.06L431.80,559.62L432.60,563.06L433.40,561.24L434.20,561.42L435.00,564.75L435.80,566.71L436.60,565.28L437.40,567.36L438.00,569.10ZM428.00,569.10L428.00,568.80L428.80,567.96L429.60,566.86L430.40,566.69L431.20,566.76L432.00,563.39L432.80,562.20L433.60,563.27L434.40,565.79L435.20,565.08L436.00,566.81L436.80,565.33L437.60,567.93L438.40,568.28L439.00,569.10ZM429.00,569.10L429.00,568.80L429.80,568.41L430.60,568.06L431.40,567.75L432.20,567.18L433.00,565.71L433.80,564.05L434.60,566.04L435.40,566.44L436.20,565.23L437.00,566.71L437.80,567.41L438.60,568.13L439.40,568.46L440.00,569.10ZM430.00,569.10L430.00,568.80L430.80,568.35L431.60,567.71L432.40,566.18L433.20,564.90L434.00,563.88L434.80,564.66L435.60,561.92L436.40,564.32L437.20,566.12L438.00,566.23L438.80,566.45L439.60,567.28L440.40,568.46L441.00,569.10ZM431.00,569.10L431.00,568.80L431.80,567.89L432.60,568.01L433.40,566.33L434.20,566.66L435.00,566.41L435.80,565.90L436.60,564.66L437.40,563.45L438.20,566.81L439.00,565.62L439.80,567.36L440.60,568.04L441.40,568.21L442.00,569.10ZM432.10,569.10L432.10,568.80L432.90,568.27L433.70,567.39L434.50,565.80L435.30,564.68L436.10,564.71L436.90,566.38L437.70,562.34L438.50,563.96L439.30,563.78L440.10,564.69L440.90,567.05L441.70,567.02L442.50,568.05L443.10,569.10ZM433.70,569.10L433.70,568.80L434.50,566.86L435.30,564.88L436.10,563.06L436.90,560.93L437.70,561.84L438.50,558.94L439.30,547.82L440.10,557.08L440.90,556.83L441.70,557.32L442.50,561.16L443.30,565.86L444.10,566.45L444.70,569.10ZM434.70,569.10L434.70,568.80L435.50,567.28L436.30,566.27L437.10,564.93L437.90,563.41L438.70,564.85L439.50,561.65L440.30,562.61L441.10,560.90L441.90,565.62L442.70,564.77L443.50,566.40L444.30,566.43L445.10,568.14L445.70,569.10ZM435.80,569.10L435.80,568.80L436.60,567.56L437.40,566.27L438.20,566.99L439.00,563.53L439.80,563.08L440.60,562.29L441.40,561.63L442.20,565.79L443.00,562.83L443.80,565.17L444.60,566.36L445.40,567.43L446.20,567.92L446.80,569.10ZM437.10,569.10L437.10,568.80L437.90,566.61L438.70,566.46L439.50,564.70L440.30,563.91L441.10,563.84L441.90,560.73L442.70,562.88L443.50,556.88L444.30,563.15L445.10,565.25L445.90,566.21L446.70,565.32L447.50,567.94L448.10,569.10ZM438.10,569.10L438.10,568.80L438.90,568.21L439.70,567.11L440.50,565.98L441.30,566.66L442.10,565.11L442.90,563.38L443.70,564.51L444.50,563.59L445.30,564.99L446.10,566.79L446.90,566.35L447.70,567.57L448.50,568.50L449.10,569.10ZM469.10,569.10L469.10,568.80L469.90,568.02L470.70,567.60L471.50,567.06L472.30,566.64L473.10,564.78L473.90,564.71L474.70,565.94L475.50,565.86L476.30,566.37L477.10,565.62L477.90,566.88L478.70,568.14L479.50,568.18L480.10,569.10ZM479.00,569.10L479.00,568.80L479.80,568.04L480.60,567.50L481.40,566.27L482.20,566.20L483.00,566.68L483.80,564.52L484.60,562.64L485.40,563.67L486.20,565.94L487.00,566.88L487.80,566.43L488.60,567.22L489.40,568.42L490.00,569.10ZM481.50,569.10L481.50,568.80L482.30,565.96L483.10,565.19L483.90,563.68L484.70,559.52L485.50,555.16L486.30,560.55L487.10,558.26L487.90,559.53L488.70,557.59L489.50,563.75L490.30,563.26L491.10,565.42L491.90,567.12L492.50,569.10ZM482.50,569.10L482.50,568.80L483.30,567.86L484.10,566.86L484.90,566.72L485.70,565.44L486.50,566.53L487.30,563.33L488.10,564.17L488.90,564.10L489.70,564.59L490.50,566.67L491.30,566.27L492.10,567.98L492.90,568.53L493.50,569.10ZM489.90,569.10L489.90,568.80L490.70,566.99L491.50,565.18L492.30,563.16L493.10,563.51L493.90,559.54L494.70,560.50L495.50,563.00L496.30,560.33L497.10,560.77L497.90,564.25L498.70,564.85L499.50,567.04L500.30,568.03L500.90,569.10ZM501.90,569.10L501.90,568.80L502.70,567.14L503.50,565.63L504.30,565.82L505.10,565.37L505.90,561.88L506.70,556.94L507.50,555.13L508.30,561.78L509.10,562.86L509.90,562.57L510.70,565.71L511.50,565.66L512.30,567.10L512.90,569.10ZM517.90,569.10L517.90,568.80L518.70,568.06L519.50,567.13L520.30,566.25L521.10,565.49L521.90,564.67L522.70,565.58L523.50,562.65L524.30,563.24L525.10,566.94L525.90,565.12L526.70,567.02L527.50,568.08L528.30,568.50L528.90,569.10ZM526.20,569.10L526.20,568.80L527.00,568.14L527.80,568.06L528.60,567.17L529.40,566.23L530.20,564.61L531.00,565.94L531.80,563.99L532.60,566.34L533.40,566.89L534.20,567.37L535.00,567.38L535.80,567.70L536.60,568.46L537.20,569.10ZM545.40,569.10L545.40,568.80L546.20,568.17L547.00,567.77L547.80,566.98L548.60,565.97L549.40,564.48L550.20,565.21L551.00,563.10L551.80,564.14L552.60,562.85L553.40,565.61L554.20,565.42L555.00,567.33L555.80,568.34L556.40,569.10ZM546.50,569.10L546.50,568.80L547.30,568.44L548.10,568.06L548.90,567.84L549.70,566.20L550.50,564.85L551.30,565.83L552.10,565.64L552.90,565.89L553.70,566.58L554.50,566.38L555.30,567.46L556.10,568.17L556.90,568.25L557.50,569.10ZM549.50,569.10L549.50,568.80L550.30,568.49L551.10,567.20L551.90,566.61L552.70,566.74L553.50,565.43L554.30,563.75L555.10,565.14L555.90,565.58L556.70,566.51L557.50,566.43L558.30,566.89L559.10,567.51L559.90,568.16L560.50,569.10ZM551.50,569.10L551.50,568.80L552.30,567.34L553.10,564.31L553.90,562.35L554.70,561.50L555.50,558.98L556.30,560.28L557.10,552.62L557.90,558.69L558.70,561.58L559.50,564.43L560.30,565.89L561.10,564.74L561.90,567.18L562.50,569.10ZM552.50,569.10L552.50,568.80L553.30,568.26L554.10,567.52L554.90,566.85L555.70,566.53L556.50,564.29L557.30,565.44L558.10,564.25L558.90,563.48L559.70,565.28L560.50,566.40L561.30,567.29L562.10,567.78L562.90,568.26L563.50,569.10ZM554.00,569.10L554.00,568.80L554.80,568.34L555.60,567.75L556.40,567.20L557.20,566.72L558.00,564.61L558.80,565.07L559.60,565.63L560.40,565.91L561.20,565.07L562.00,567.29L562.80,566.85L563.60,568.23L564.40,568.48L565.00,569.10ZM556.10,569.10L556.10,568.80L556.90,566.09L557.70,566.04L558.50,564.17L559.30,564.00L560.10,560.72L560.90,553.42L561.70,551.68L562.50,552.01L563.30,554.58L564.10,560.57L564.90,560.71L565.70,566.59L566.50,566.59L567.10,569.10ZM557.20,569.10L557.20,568.80L558.00,568.22L558.80,566.77L559.60,565.50L560.40,565.89L561.20,566.31L562.00,562.13L562.80,561.94L563.60,563.66L564.40,563.13L565.20,567.10L566.00,567.51L566.80,567.89L567.60,568.47L568.20,569.10ZM558.50,569.10L558.50,568.80L559.30,568.19L560.10,568.12L560.90,567.70L561.70,567.29L562.50,565.79L563.30,564.99L564.10,563.46L564.90,566.09L565.70,565.02L566.50,566.89L567.30,567.46L568.10,568.07L568.90,568.50L569.50,569.10ZM561.70,569.10L561.70,568.80L562.50,565.51L563.30,563.46L564.10,564.20L564.90,562.63L565.70,561.39L566.50,557.34L567.30,550.31L568.10,561.43L568.90,557.90L569.70,558.98L570.50,565.42L571.30,565.13L572.10,566.66L572.70,569.10ZM562.80,569.10L562.80,568.80L563.60,567.45L564.40,564.93L565.20,564.14L566.00,564.02L566.80,562.43L567.60,556.67L568.40,555.93L569.20,557.40L570.00,561.68L570.80,565.32L571.60,566.12L572.40,566.60L573.20,567.54L573.80,569.10ZM563.90,569.10L563.90,568.80L564.70,568.03L565.50,567.27L566.30,566.98L567.10,567.54L567.90,564.94L568.70,565.50L569.50,564.09L570.30,565.12L571.10,565.33L571.90,566.75L572.70,566.42L573.50,567.29L574.30,568.16L574.90,569.10ZM572.50,569.10L572.50,568.80L573.30,566.96L574.10,564.87L574.90,563.60L575.70,556.41L576.50,554.52L577.30,551.71L578.10,549.10L578.90,549.92L579.70,556.29L580.50,561.90L581.30,561.15L582.10,565.79L582.90,566.95L583.50,569.10ZM605.10,569.10L605.10,568.80L605.90,567.28L606.70,566.56L607.50,566.14L608.30,562.42L609.10,565.41L609.90,559.18L610.70,559.26L611.50,564.48L612.30,562.06L613.10,564.25L613.90,564.46L614.70,566.65L615.50,568.01L616.10,569.10ZM606.20,569.10L606.20,568.80L607.00,568.44L607.80,567.28L608.60,567.69L609.40,566.92L610.20,566.92L611.00,563.92L611.80,564.98L612.60,564.60L613.40,566.62L614.20,566.05L615.00,566.92L615.80,568.16L616.60,568.35L617.20,569.10ZM617.00,569.10L617.00,568.80L617.80,568.02L618.60,566.32L619.40,566.26L620.20,565.02L621.00,561.22L621.80,559.56L622.60,558.02L623.40,563.03L624.20,563.32L625.00,563.55L625.80,565.09L626.60,566.99L627.40,567.71L628.00,569.10ZM618.10,569.10L618.10,568.80L618.90,568.02L619.70,567.74L620.50,567.77L621.30,566.10L622.10,567.01L622.90,564.96L623.70,566.70L624.50,564.19L625.30,566.11L626.10,566.28L626.90,567.83L627.70,567.72L628.50,568.44L629.10,569.10ZM622.50,569.10L622.50,568.80L623.30,568.09L624.10,568.20L624.90,567.20L625.70,567.49L626.50,565.15L627.30,564.29L628.10,566.77L628.90,565.77L629.70,566.29L630.50,566.33L631.30,566.97L632.10,567.99L632.90,568.22L633.50,569.10ZM626.40,569.10L626.40,568.80L627.20,568.17L628.00,566.27L628.80,566.95L629.60,566.09L630.40,563.95L631.20,563.90L632.00,564.37L632.80,560.91L633.60,564.31L634.40,564.16L635.20,566.77L636.00,566.43L636.80,568.27L637.40,569.10ZM627.50,569.10L627.50,568.80L628.30,567.83L629.10,566.27L629.90,565.50L630.70,564.87L631.50,564.30L632.30,561.78L633.10,563.23L633.90,565.73L634.70,563.01L635.50,564.57L636.30,565.98L637.10,566.91L637.90,568.31L638.50,569.10ZM628.50,569.10L628.50,568.80L629.30,568.09L630.10,567.23L630.90,566.50L631.70,567.33L632.50,565.59L633.30,565.36L634.10,565.46L634.90,566.67L635.70,567.12L636.50,566.81L637.30,567.31L638.10,568.06L638.90,568.44L639.50,569.10ZM629.70,569.10L629.70,568.80L630.50,566.01L631.30,563.96L632.10,564.29L632.90,556.57L633.70,559.07L634.50,549.50L635.30,546.77L636.10,560.42L636.90,557.37L637.70,556.68L638.50,563.35L639.30,564.72L640.10,567.43L640.70,569.10ZM630.80,569.10L630.80,568.80L631.60,567.95L632.40,567.28L633.20,565.98L634.00,563.46L634.80,562.50L635.60,558.60L636.40,559.35L637.20,562.87L638.00,560.71L638.80,563.77L639.60,565.40L640.40,566.00L641.20,567.76L641.80,569.10ZM676.10,569.10L676.10,568.80L676.90,566.48L677.70,565.40L678.50,559.64L679.30,562.46L680.10,553.49L680.90,561.47L681.70,561.30L682.50,556.09L683.30,561.64L684.10,560.85L684.90,565.14L685.70,563.92L686.50,566.97L687.10,569.10ZM677.20,569.10L677.20,568.80L678.00,566.89L678.80,564.82L679.60,564.05L680.40,562.28L681.20,565.28L682.00,564.21L682.80,560.32L683.60,557.52L684.40,563.54L685.20,563.40L686.00,566.84L686.80,566.63L687.60,567.39L688.20,569.10ZM678.30,569.10L678.30,568.80L679.10,567.08L679.90,567.41L680.70,566.00L681.50,565.18L682.30,560.17L683.10,563.96L683.90,556.30L684.70,562.96L685.50,560.31L686.30,563.82L687.10,565.81L687.90,565.48L688.70,567.91L689.30,569.10ZM687.50,569.10L687.50,568.80L688.30,567.57L689.10,563.25L689.90,559.56L690.70,563.54L691.50,555.79L692.30,558.97L693.10,559.41L693.90,558.29L694.70,557.25L695.50,557.47L696.30,560.26L697.10,563.37L697.90,567.04L698.50,569.10ZM688.60,569.10L688.60,568.80L689.40,567.73L690.20,564.92L691.00,563.79L691.80,563.30L692.60,557.78L693.40,561.50L694.20,561.77L695.00,562.66L695.80,563.79L696.60,562.32L697.40,563.16L698.20,566.93L699.00,567.60L699.60,569.10ZM689.70,569.10L689.70,568.80L690.50,568.11L691.30,567.60L692.10,566.76L692.90,567.41L693.70,566.92L694.50,565.17L695.30,565.50L696.10,564.11L696.90,566.47L697.70,565.58L698.50,567.45L699.30,568.10L700.10,568.32L700.70,569.10ZM699.50,569.10L699.50,568.80L700.30,567.77L701.10,565.74L701.90,566.12L702.70,563.12L703.50,560.73L704.30,561.81L705.10,560.54L705.90,558.92L706.70,562.42L707.50,565.63L708.30,566.83L709.10,567.52L709.90,568.03L710.50,569.10ZM711.40,569.10L711.40,568.80L712.20,566.91L713.00,565.73L713.80,564.75L714.60,562.10L715.40,557.03L716.20,561.31L717.00,561.34L717.80,561.06L718.60,562.26L719.40,560.14L720.20,563.34L721.00,566.10L721.80,567.96L722.40,569.10ZM742.60,569.10L742.60,568.80L743.40,568.13L744.20,565.98L745.00,565.18L745.80,565.97L746.60,562.88L747.40,565.15L748.20,561.62L749.00,563.68L749.80,565.70L750.60,563.91L751.40,565.29L752.20,566.93L753.00,568.26L753.60,569.10ZM743.70,569.10L743.70,568.80L744.50,568.29L745.30,567.54L746.10,567.81L746.90,565.78L747.70,567.38L748.50,566.40L749.30,565.48L750.10,566.58L750.90,567.24L751.70,566.39L752.50,566.59L753.30,568.00L754.10,568.48L754.70,569.10ZM753.30,569.10L753.30,568.80L754.10,568.09L754.90,567.05L755.70,565.36L756.50,565.18L757.30,565.56L758.10,565.39L758.90,561.98L759.70,560.59L760.50,562.33L761.30,566.56L762.10,566.13L762.90,567.12L763.70,568.29L764.30,569.10ZM754.40,569.10L754.40,568.80L755.20,567.89L756.00,566.42L756.80,566.60L757.60,563.61L758.40,562.84L759.20,563.45L760.00,564.75L760.80,563.62L761.60,566.01L762.40,564.75L763.20,565.80L764.00,567.08L764.80,567.80L765.40,569.10ZM766.10,569.10L766.10,568.80L766.90,566.27L767.70,563.40L768.50,564.86L769.30,561.86L770.10,562.83L770.90,555.24L771.70,551.64L772.50,558.53L773.30,556.99L774.10,561.96L774.90,561.87L775.70,565.92L776.50,566.51L777.10,569.10ZM767.30,569.10L767.30,568.80L768.10,568.13L768.90,567.25L769.70,564.14L770.50,561.91L771.30,561.58L772.10,563.69L772.90,557.11L773.70,559.94L774.50,564.99L775.30,564.57L776.10,564.71L776.90,567.64L777.70,568.27L778.30,569.10Z" fill="#1c1c1c" stroke="none"/>
<path d="M69.00,569.10V549.63M124.90,569.10V555.18M129.20,569.10V561.74M142.10,569.10V501.18M184.50,569.10V556.69M186.50,569.10V541.55M187.40,569.10V557.70M193.90,569.10V558.71M196.10,569.10V170.17M197.10,569.10V493.61M198.30,569.10V552.15M249.90,569.10V448.71M250.90,569.10V539.53M255.00,569.10V554.67M257.00,569.10V559.72M268.10,569.10V427.51M269.20,569.10V501.18M270.20,569.10V551.14M288.60,569.10V557.19M298.20,569.10V554.67M309.60,569.10V548.62M311.00,569.10V559.72M323.50,569.10V64.20M324.60,569.10V523.39M325.60,569.10V556.18M329.00,569.10V548.62M340.10,569.10V509.26M341.20,569.10V543.57M336.00,569.10V553.66M344.00,569.10V554.67M361.00,569.10V516.83M362.00,569.10V551.14M358.00,569.10V551.14M366.00,569.10V554.67M373.00,569.10V547.61M378.00,569.10V464.85M379.10,569.10V489.58M380.20,569.10V543.57M384.00,569.10V553.66M394.20,569.10V392.69M395.30,569.10V504.72M396.30,569.10V542.56M401.00,569.10V553.66M405.00,569.10V552.65M408.00,569.10V555.68M412.40,569.10V523.39M413.50,569.10V551.14M420.80,569.10V532.47M422.00,569.10V553.66M427.00,569.10V536.51M428.00,569.10V548.62M430.00,569.10V543.57M432.50,569.10V505.22M433.50,569.10V528.43M434.50,569.10V541.05M435.50,569.10V536.00M436.50,569.10V539.53M437.60,569.10V533.48M439.20,569.10V424.48M440.20,569.10V520.86M441.30,569.10V525.91M442.60,569.10V494.12M443.60,569.10V538.52M444.60,569.10V553.66M457.90,569.10V550.63M459.00,569.10V554.67M462.00,569.10V556.18M465.00,569.10V554.67M468.00,569.10V556.18M474.60,569.10V541.55M475.60,569.10V552.65M479.00,569.10V556.18M482.00,569.10V553.66M484.50,569.10V536.51M485.50,569.10V546.09M487.00,569.10V479.49M488.00,569.10V538.52M489.20,569.10V553.66M495.40,569.10V508.25M496.50,569.10V551.14M507.40,569.10V493.11M508.50,569.10V548.62M513.00,569.10V556.18M518.00,569.10V553.66M523.40,569.10V537.01M524.50,569.10V554.67M528.00,569.10V554.67M531.70,569.10V542.56M532.80,569.10V556.18M537.00,569.10V552.65M540.00,569.10V551.14M543.00,569.10V553.66M546.00,569.10V549.63M548.00,569.10V547.61M550.90,569.10V528.94M552.00,569.10V543.57M553.50,569.10V546.09M555.00,569.10V541.05M557.00,569.10V491.09M558.00,569.10V538.52M559.50,569.10V541.05M561.60,569.10V471.92M562.70,569.10V530.95M564.00,569.10V543.57M567.20,569.10V438.11M568.30,569.10V503.20M569.40,569.10V541.05M571.00,569.10V551.14M574.00,569.10V553.66M578.00,569.10V451.73M579.10,569.10V551.14M585.00,569.10V554.67M589.00,569.10V552.65M597.00,569.10V548.62M599.00,569.10V552.65M610.60,569.10V516.32M611.70,569.10V541.05M608.00,569.10V553.66M615.00,569.10V556.18M620.00,569.10V553.66M622.50,569.10V518.84M623.60,569.10V543.57M625.00,569.10V551.14M628.00,569.10V543.57M630.00,569.10V546.09M631.90,569.10V523.89M633.00,569.10V528.43M634.00,569.10V543.57M635.20,569.10V456.78M636.30,569.10V513.80M637.40,569.10V546.09M644.00,569.10V547.61M650.00,569.10V558.71M658.00,569.10V559.72M665.00,569.10V558.71M670.00,569.10V552.65M673.00,569.10V549.63M676.00,569.10V556.18M681.60,569.10V471.41M682.70,569.10V506.23M683.80,569.10V508.25M685.00,569.10V553.66M693.00,569.10V471.41M694.10,569.10V495.13M695.20,569.10V538.52M700.00,569.10V556.18M705.00,569.10V512.28M706.10,569.10V553.66M702.00,569.10V553.66M716.90,569.10V492.10M718.00,569.10V553.66M723.00,569.10V549.63M727.00,569.10V556.18M737.00,569.10V554.67M742.00,569.10V558.71M748.10,569.10V519.85M749.20,569.10V543.57M755.00,569.10V556.18M756.50,569.10V553.66M758.80,569.10V523.89M759.90,569.10V526.41M761.00,569.10V553.66M771.60,569.10V471.92M772.80,569.10V509.76M774.00,569.10V548.62M778.00,569.10V560.73M785.00,569.10V562.74M791.70,569.10V560.73M793.00,569.10V561.74M819.30,569.10V536.51M820.30,569.10V554.17M832.30,569.10V553.66M833.30,569.10V561.23M843.00,569.10V545.59M844.10,569.10V547.61M845.20,569.10V561.23M853.00,569.10V560.73M865.50,569.10V553.66M866.60,569.10V557.70M876.80,569.10V547.10M877.90,569.10V548.62M879.00,569.10V563.75M881.00,569.10V564.76M911.80,569.10V564.76M909.00,569.10V565.77M986.30,569.10V560.73M983.50,569.10V565.27" stroke="#1c1c1c" stroke-width="1.2" fill="none"/>
<text xml:space="preserve" x="5.70" y="34.50" font-size="10" fill="#3a3aa8" stroke="#3a3aa8" stroke-width="0" text-anchor="start" letter-spacing="0" font-weight="normal"  textLength="45" lengthAdjust="spacingAndGlyphs">HCC114</text>
<text xml:space="preserve" x="168.50" y="34.50" font-size="10" fill="#3a3aa8" stroke="#3a3aa8" stroke-width="0" text-anchor="start" letter-spacing="0" font-weight="normal"  textLength="207" lengthAdjust="spacingAndGlyphs">2-2 #7065  RT: 42.10  AV: 1  NL: 4.</text>
<text xml:space="preserve" x="5.70" y="47.50" font-size="10" fill="#3a3aa8" stroke="#3a3aa8" stroke-width="0" text-anchor="start" letter-spacing="0" font-weight="normal"  textLength="44" lengthAdjust="spacingAndGlyphs">T: ITMS</text>
<text xml:space="preserve" x="168.50" y="47.50" font-size="10" fill="#3a3aa8" stroke="#3a3aa8" stroke-width="0" text-anchor="start" letter-spacing="0" font-weight="normal"  textLength="183.5" lengthAdjust="spacingAndGlyphs">9.99@cid38.00 [220.00-1710.00]</text>
<text xml:space="preserve" x="323.00" y="60.00" font-size="10.8" fill="#2a2a2a" stroke="#2a2a2a" stroke-width="0.12" text-anchor="middle" letter-spacing="0" font-weight="normal"  textLength="30.8" lengthAdjust="spacingAndGlyphs">647.5</text>
<text xml:space="preserve" x="195.70" y="166.00" font-size="10.8" fill="#2a2a2a" stroke="#2a2a2a" stroke-width="0.12" text-anchor="middle" letter-spacing="0" font-weight="normal"  textLength="30.8" lengthAdjust="spacingAndGlyphs">447.4</text>
<text xml:space="preserve" x="76.00" y="546.30" font-size="10.8" fill="#2a2a2a" stroke="#2a2a2a" stroke-width="0.12" text-anchor="middle" letter-spacing="0" font-weight="normal"  textLength="30.8" lengthAdjust="spacingAndGlyphs">246.3</text>
<text xml:space="preserve" x="121.50" y="552.00" font-size="10.8" fill="#2a2a2a" stroke="#2a2a2a" stroke-width="0.12" text-anchor="middle" letter-spacing="0" font-weight="normal"  textLength="30.8" lengthAdjust="spacingAndGlyphs">333.4</text>
<text xml:space="preserve" x="142.30" y="497.50" font-size="10.8" fill="#2a2a2a" stroke="#2a2a2a" stroke-width="0.12" text-anchor="middle" letter-spacing="0" font-weight="normal"  textLength="30.8" lengthAdjust="spacingAndGlyphs">360.4</text>
<text xml:space="preserve" x="172.30" y="538.00" font-size="10.8" fill="#2a2a2a" stroke="#2a2a2a" stroke-width="0.12" text-anchor="middle" letter-spacing="0" font-weight="normal"  textLength="30.8" lengthAdjust="spacingAndGlyphs">430.4</text>
<text xml:space="preserve" x="164.50" y="557.50" font-size="10.8" fill="#2a2a2a" stroke="#2a2a2a" stroke-width="0.12" text-anchor="middle" letter-spacing="0" font-weight="normal"  textLength="30.8" lengthAdjust="spacingAndGlyphs">426.2</text>
<text xml:space="preserve" x="216.50" y="490.50" font-size="10.8" fill="#2a2a2a" stroke="#2a2a2a" stroke-width="0.12" text-anchor="middle" letter-spacing="0" font-weight="normal"  textLength="30.8" lengthAdjust="spacingAndGlyphs">448.3</text>
<text xml:space="preserve" x="217.50" y="549.50" font-size="10.8" fill="#2a2a2a" stroke="#2a2a2a" stroke-width="0.12" text-anchor="middle" letter-spacing="0" font-weight="normal"  textLength="30.8" lengthAdjust="spacingAndGlyphs">449.5</text>
<text xml:space="preserve" x="246.90" y="445.00" font-size="10.8" fill="#2a2a2a" stroke="#2a2a2a" stroke-width="0.12" text-anchor="middle" letter-spacing="0" font-weight="normal"  textLength="30.8" lengthAdjust="spacingAndGlyphs">531.3</text>
<text xml:space="preserve" x="267.80" y="423.00" font-size="10.8" fill="#2a2a2a" stroke="#2a2a2a" stroke-width="0.12" text-anchor="middle" letter-spacing="0" font-weight="normal"  textLength="30.8" lengthAdjust="spacingAndGlyphs">560.4</text>
<text xml:space="preserve" x="288.50" y="496.50" font-size="10.8" fill="#2a2a2a" stroke="#2a2a2a" stroke-width="0.12" text-anchor="middle" letter-spacing="0" font-weight="normal"  textLength="30.8" lengthAdjust="spacingAndGlyphs">561.5</text>
<text xml:space="preserve" x="301.00" y="540.60" font-size="10.8" fill="#2a2a2a" stroke="#2a2a2a" stroke-width="0.12" text-anchor="middle" letter-spacing="0" font-weight="normal"  textLength="30.8" lengthAdjust="spacingAndGlyphs">629.4</text>
<text xml:space="preserve" x="343.10" y="505.80" font-size="10.8" fill="#2a2a2a" stroke="#2a2a2a" stroke-width="0.12" text-anchor="middle" letter-spacing="0" font-weight="normal"  textLength="30.8" lengthAdjust="spacingAndGlyphs">674.5</text>
<text xml:space="preserve" x="372.20" y="460.10" font-size="10.8" fill="#2a2a2a" stroke="#2a2a2a" stroke-width="0.12" text-anchor="middle" letter-spacing="0" font-weight="normal"  textLength="30.8" lengthAdjust="spacingAndGlyphs">735.5</text>
<text xml:space="preserve" x="393.70" y="387.60" font-size="10.8" fill="#2a2a2a" stroke="#2a2a2a" stroke-width="0.12" text-anchor="middle" letter-spacing="0" font-weight="normal"  textLength="30.8" lengthAdjust="spacingAndGlyphs">760.4</text>
<text xml:space="preserve" x="414.00" y="499.40" font-size="10.8" fill="#2a2a2a" stroke="#2a2a2a" stroke-width="0.12" text-anchor="middle" letter-spacing="0" font-weight="normal"  textLength="30.8" lengthAdjust="spacingAndGlyphs">761.4</text>
<text xml:space="preserve" x="439.50" y="419.40" font-size="10.8" fill="#2a2a2a" stroke="#2a2a2a" stroke-width="0.12" text-anchor="middle" letter-spacing="0" font-weight="normal"  textLength="30.8" lengthAdjust="spacingAndGlyphs">831.7</text>
<text xml:space="preserve" x="461.20" y="489.30" font-size="10.8" fill="#2a2a2a" stroke="#2a2a2a" stroke-width="0.12" text-anchor="middle" letter-spacing="0" font-weight="normal"  textLength="30.8" lengthAdjust="spacingAndGlyphs">837.2</text>
<text xml:space="preserve" x="486.20" y="476.60" font-size="10.8" fill="#2a2a2a" stroke="#2a2a2a" stroke-width="0.12" text-anchor="middle" letter-spacing="0" font-weight="normal"  textLength="30.8" lengthAdjust="spacingAndGlyphs">906.3</text>
<text xml:space="preserve" x="464.30" y="533.70" font-size="10.8" fill="#2a2a2a" stroke="#2a2a2a" stroke-width="0.12" text-anchor="middle" letter-spacing="0" font-weight="normal"  textLength="30.8" lengthAdjust="spacingAndGlyphs">903.3</text>
<text xml:space="preserve" x="541.40" y="469.00" font-size="10.8" fill="#2a2a2a" stroke="#2a2a2a" stroke-width="0.12" text-anchor="middle" letter-spacing="0" font-weight="normal"  textLength="37.8" lengthAdjust="spacingAndGlyphs">1024.6</text>
<text xml:space="preserve" x="537.30" y="488.80" font-size="10.8" fill="#2a2a2a" stroke="#2a2a2a" stroke-width="0.12" text-anchor="middle" letter-spacing="0" font-weight="normal"  textLength="37.8" lengthAdjust="spacingAndGlyphs">1016.3</text>
<text xml:space="preserve" x="531.60" y="524.00" font-size="10.8" fill="#2a2a2a" stroke="#2a2a2a" stroke-width="0.12" text-anchor="middle" letter-spacing="0" font-weight="normal"  textLength="37.8" lengthAdjust="spacingAndGlyphs">1007.7</text>
<text xml:space="preserve" x="568.00" y="435.00" font-size="10.8" fill="#2a2a2a" stroke="#2a2a2a" stroke-width="0.12" text-anchor="middle" letter-spacing="0" font-weight="normal"  textLength="37.8" lengthAdjust="spacingAndGlyphs">1034.5</text>
<text xml:space="preserve" x="593.70" y="447.70" font-size="10.8" fill="#2a2a2a" stroke="#2a2a2a" stroke-width="0.12" text-anchor="middle" letter-spacing="0" font-weight="normal"  textLength="37.8" lengthAdjust="spacingAndGlyphs">1051.4</text>
<text xml:space="preserve" x="641.50" y="452.30" font-size="10.8" fill="#2a2a2a" stroke="#2a2a2a" stroke-width="0.12" text-anchor="middle" letter-spacing="0" font-weight="normal"  textLength="37.8" lengthAdjust="spacingAndGlyphs">1141.6</text>
<text xml:space="preserve" x="609.80" y="513.00" font-size="10.8" fill="#2a2a2a" stroke="#2a2a2a" stroke-width="0.12" text-anchor="middle" letter-spacing="0" font-weight="normal"  textLength="37.8" lengthAdjust="spacingAndGlyphs">1102.4</text>
<text xml:space="preserve" x="681.70" y="467.30" font-size="10.8" fill="#2a2a2a" stroke="#2a2a2a" stroke-width="0.12" text-anchor="middle" letter-spacing="0" font-weight="normal"  textLength="37.8" lengthAdjust="spacingAndGlyphs">1215.5</text>
<text xml:space="preserve" x="720.00" y="488.30" font-size="10.8" fill="#2a2a2a" stroke="#2a2a2a" stroke-width="0.12" text-anchor="middle" letter-spacing="0" font-weight="normal"  textLength="37.8" lengthAdjust="spacingAndGlyphs">1270.6</text>
<text xml:space="preserve" x="771.60" y="468.80" font-size="10.8" fill="#2a2a2a" stroke="#2a2a2a" stroke-width="0.12" text-anchor="middle" letter-spacing="0" font-weight="normal"  textLength="37.8" lengthAdjust="spacingAndGlyphs">1357.7</text>
<text xml:space="preserve" x="747.50" y="516.20" font-size="10.8" fill="#2a2a2a" stroke="#2a2a2a" stroke-width="0.12" text-anchor="middle" letter-spacing="0" font-weight="normal"  textLength="37.8" lengthAdjust="spacingAndGlyphs">1320.5</text>
<text xml:space="preserve" x="819.00" y="527.50" font-size="10.8" fill="#2a2a2a" stroke="#2a2a2a" stroke-width="0.12" text-anchor="middle" letter-spacing="0" font-weight="normal"  textLength="37.8" lengthAdjust="spacingAndGlyphs">1433.8</text>
<text xml:space="preserve" x="846.00" y="541.25" font-size="10.8" fill="#2a2a2a" stroke="#2a2a2a" stroke-width="0.12" text-anchor="middle" letter-spacing="0" font-weight="normal"  textLength="37.8" lengthAdjust="spacingAndGlyphs">1470.7</text>
<text xml:space="preserve" x="893.00" y="543.00" font-size="10.8" fill="#2a2a2a" stroke="#2a2a2a" stroke-width="0.12" text-anchor="middle" letter-spacing="0" font-weight="normal"  textLength="37.8" lengthAdjust="spacingAndGlyphs">1524.6</text>
<text xml:space="preserve" x="911.00" y="560.50" font-size="10.8" fill="#2a2a2a" stroke="#2a2a2a" stroke-width="0.12" text-anchor="middle" letter-spacing="0" font-weight="normal"  textLength="37.8" lengthAdjust="spacingAndGlyphs">1578.7</text>
<text xml:space="preserve" x="986.00" y="555.75" font-size="10.8" fill="#2a2a2a" stroke="#2a2a2a" stroke-width="0.12" text-anchor="middle" letter-spacing="0" font-weight="normal"  textLength="37.8" lengthAdjust="spacingAndGlyphs">1697.6</text>
<path d="M70.0,548.5 Q73.0,548.5 76.0,547.0" stroke="#55aa55" stroke-width="1" fill="none"/>
<path d="M122.0,553.5 Q123.5,553.5 125.0,555.0" stroke="#55aa55" stroke-width="1" fill="none"/>
<path d="M172.0,539.5 Q179.0,539.5 186.0,541.5" stroke="#55aa55" stroke-width="1" fill="none"/>
<path d="M165.0,559.0 Q174.5,559.0 184.0,560.5" stroke="#55aa55" stroke-width="1" fill="none"/>
<path d="M198.0,493.5 Q207.5,493.5 217.0,491.5" stroke="#55aa55" stroke-width="1" fill="none"/>
<path d="M199.0,552.0 Q208.0,552.0 217.0,550.5" stroke="#55aa55" stroke-width="1" fill="none"/>
<path d="M302.5,541.3 Q306.6,541.3 310.7,544.6" stroke="#55aa55" stroke-width="1" fill="none"/>
<path d="M394.4,502.5 Q403.7,502.5 413.0,500.7" stroke="#55aa55" stroke-width="1" fill="none"/>
<path d="M372.0,461.5 Q375.0,461.5 378.0,464.0" stroke="#55aa55" stroke-width="1" fill="none"/>
<path d="M442.9,493.9 Q447.6,493.9 452.3,491.0" stroke="#55aa55" stroke-width="1" fill="none"/>
<path d="M466.2,534.5 Q475.4,534.5 484.5,537.0" stroke="#55aa55" stroke-width="1" fill="none"/>
<path d="M538.6,469.8 Q549.8,469.8 560.9,472.0" stroke="#55aa55" stroke-width="1" fill="none"/>
<path d="M538.6,490.2 Q547.5,490.2 556.3,491.5" stroke="#55aa55" stroke-width="1" fill="none"/>
<path d="M533.5,525.3 Q542.4,525.3 551.3,528.6" stroke="#55aa55" stroke-width="1" fill="none"/>
<path d="M578.0,451.5 Q585.6,451.5 593.3,449.0" stroke="#55aa55" stroke-width="1" fill="none"/>
<path d="M635.2,456.6 Q637.8,456.6 640.3,453.5" stroke="#55aa55" stroke-width="1" fill="none"/>
<path d="M877.2,547.0 Q884.5,547.0 891.8,545.0" stroke="#55aa55" stroke-width="1" fill="none"/>
<path d="M269.5,500.5 Q278.8,500.5 288.0,498.0" stroke="#55aa55" stroke-width="1" fill="none"/>
<text x="243.70" y="85.70" font-size="18.5" fill="#36a9e0" text-anchor="start">Y</text>
<text x="256.00" y="91.40" font-size="13" fill="#36a9e0" text-anchor="start" letter-spacing="0.6">6</text>
<text x="184.40" y="147.60" font-size="18.5" fill="#36a9e0" text-anchor="start">Y</text>
<text x="196.00" y="152.60" font-size="13" fill="#36a9e0" text-anchor="start" letter-spacing="0.6">4</text>
<text x="62.50" y="527.50" font-size="18.5" fill="#36a9e0" text-anchor="start">Y</text>
<text x="75.00" y="533.00" font-size="13" fill="#36a9e0" text-anchor="start" letter-spacing="0.6">2</text>
<text x="132.00" y="473.75" font-size="18.5" fill="#36a9e0" text-anchor="start">Y</text>
<text x="144.50" y="478.75" font-size="13" fill="#36a9e0" text-anchor="start" letter-spacing="0.6">3</text>
<text x="261.00" y="403.10" font-size="18.5" fill="#36a9e0" text-anchor="start">Y</text>
<text x="273.10" y="408.20" font-size="13" fill="#36a9e0" text-anchor="start" letter-spacing="0.6">5</text>
<text x="381.80" y="364.30" font-size="18.5" fill="#36a9e0" text-anchor="start">Y</text>
<text x="394.50" y="369.30" font-size="13" fill="#36a9e0" text-anchor="start" letter-spacing="0.6">7</text>
<text x="330.50" y="488.80" font-size="18.5" fill="#e5812f" text-anchor="start">B</text>
<text x="343.10" y="493.10" font-size="13" fill="#e5812f" text-anchor="start" letter-spacing="0.6">6</text>
<text x="459.90" y="450.00" font-size="18.5" fill="#e5812f" text-anchor="start">B</text>
<text x="472.00" y="455.00" font-size="13" fill="#e5812f" text-anchor="start" letter-spacing="0.6">7</text>
<text x="503.00" y="450.70" font-size="18.5" fill="#e5812f" text-anchor="start">B</text>
<text x="515.20" y="455.00" font-size="13" fill="#e5812f" text-anchor="start" letter-spacing="0.6">8</text>
<text x="449.70" y="511.60" font-size="18.5" fill="#36a9e0" text-anchor="start">Y</text>
<text x="462.40" y="516.70" font-size="13" fill="#36a9e0" text-anchor="start" letter-spacing="0.6">8</text>
<text x="527.90" y="419.00" font-size="18.5" fill="#36a9e0" text-anchor="start">Y</text>
<text x="539.80" y="424.00" font-size="13" fill="#36a9e0" text-anchor="start" letter-spacing="0.6">9</text>
<text x="571.70" y="381.00" font-size="18.5" fill="#e5812f" text-anchor="start">B</text>
<text x="584.40" y="385.00" font-size="13" fill="#e5812f" text-anchor="start" letter-spacing="0.6">9</text>
<text x="631.90" y="434.50" font-size="18.5" fill="#36a9e0" text-anchor="start">Y</text>
<text x="644.00" y="439.30" font-size="13" fill="#36a9e0" text-anchor="start" letter-spacing="0.6">10</text>
<text x="597.90" y="481.50" font-size="18.5" fill="#e5812f" text-anchor="start">B</text>
<text x="610.60" y="485.80" font-size="13" fill="#e5812f" text-anchor="start" letter-spacing="0.6">10</text>
<text x="683.90" y="404.00" font-size="18.5" fill="#e5812f" text-anchor="start">B</text>
<text x="696.90" y="408.90" font-size="13" fill="#e5812f" text-anchor="start" letter-spacing="0.6">11</text>
<text x="708.80" y="465.50" font-size="18.5" fill="#36a9e0" text-anchor="start">Y</text>
<text x="721.50" y="470.60" font-size="13" fill="#36a9e0" text-anchor="start" letter-spacing="0.6">11</text>
<text x="735.40" y="419.80" font-size="18.5" fill="#e5812f" text-anchor="start">B</text>
<text x="748.10" y="424.90" font-size="13" fill="#e5812f" text-anchor="start" letter-spacing="0.6">12</text>
<text x="760.30" y="449.70" font-size="18.5" fill="#36a9e0" text-anchor="start">Y</text>
<text x="773.00" y="455.00" font-size="13" fill="#36a9e0" text-anchor="start" letter-spacing="0.6">12</text>
<text x="787.50" y="496.25" font-size="18.5" fill="#e5812f" text-anchor="start">B</text>
<text x="799.25" y="501.25" font-size="13" fill="#e5812f" text-anchor="start" letter-spacing="0.6">13</text>
<text x="838.00" y="480.75" font-size="18.5" fill="#36a9e0" text-anchor="start">Y</text>
<text x="850.50" y="485.50" font-size="13" fill="#36a9e0" text-anchor="start" letter-spacing="0.6">13</text>
<text x="873.00" y="528.00" font-size="18.5" fill="#e5812f" text-anchor="start">B</text>
<text x="885.50" y="533.00" font-size="13" fill="#e5812f" text-anchor="start" letter-spacing="0.6">14</text>
<text x="975.00" y="535.75" font-size="18.5" fill="#e5812f" text-anchor="start">B</text>
<text x="987.50" y="540.50" font-size="13" fill="#e5812f" text-anchor="start" letter-spacing="0.6">15</text>
<path d="M267.7,84.6 L318.4,84.6 M306.5,78.6 L318.4,84.6 L306.5,90.6" stroke="#ee1c25" stroke-width="3.0" fill="none" stroke-linecap="round" stroke-linejoin="miter"/>
<path d="M465.0,457.6 L456.9,476.6 M455.3,465.9 L456.9,476.6 L466.2,471.5" stroke="#ee1c25" stroke-width="3.0" fill="none" stroke-linecap="round" stroke-linejoin="miter"/>
<path d="M508.1,456.8 L508.1,485.5 M501.8,475.3 L508.1,485.5 L514.5,475.3" stroke="#ee1c25" stroke-width="3.0" fill="none" stroke-linecap="round" stroke-linejoin="miter"/>
<path d="M456.1,517.7 L456.1,547.2 M450.3,538.8 L456.1,547.2 L462.4,538.8" stroke="#ee1c25" stroke-width="3.0" fill="none" stroke-linecap="round" stroke-linejoin="miter"/>
<path d="M542.4,433.5 L551.3,453.8 M541.6,448.7 L551.3,453.8 L553.3,443.6" stroke="#ee1c25" stroke-width="3.0" fill="none" stroke-linecap="round" stroke-linejoin="miter"/>
<path d="M577.3,386.8 L577.3,430.7 M571.0,421.0 L577.3,430.7 L583.7,421.0" stroke="#ee1c25" stroke-width="3.0" fill="none" stroke-linecap="round" stroke-linejoin="miter"/>
<path d="M612.3,494.7 L628.8,517.0 M617.4,516.2 L628.8,517.0 L629.3,504.8" stroke="#ee1c25" stroke-width="3.0" fill="none" stroke-linecap="round" stroke-linejoin="miter"/>
<path d="M698.6,416.5 L697.9,455.3 M691.5,445.2 L697.9,455.3 L704.5,445.2" stroke="#ee1c25" stroke-width="3.0" fill="none" stroke-linecap="round" stroke-linejoin="miter"/>
<path d="M748.9,433.2 L757.8,517.5 M750.7,507.4 L757.8,517.5 L763.4,506.1" stroke="#ee1c25" stroke-width="3.0" fill="none" stroke-linecap="round" stroke-linejoin="miter"/>
<path d="M809.2,503.0 L826.0,540.0 M817.5,533.8 L826.0,540.0 L828.5,528.8" stroke="#ee1c25" stroke-width="3.0" fill="none" stroke-linecap="round" stroke-linejoin="miter"/>
<path d="M843.8,487.5 L843.8,532.5 M837.5,523.8 L843.8,532.5 L850.0,523.8" stroke="#ee1c25" stroke-width="3.0" fill="none" stroke-linecap="round" stroke-linejoin="miter"/>
<line x1="62.00" y1="677.90" x2="62.00" y2="1178.90" stroke="#1c1c1c" stroke-width="1.2" />
<line x1="61.50" y1="1179.10" x2="991.80" y2="1179.10" stroke="#1c1c1c" stroke-width="1.4" />
<line x1="54.40" y1="1178.40" x2="62.00" y2="1178.40" stroke="#1c1c1c" stroke-width="1.1" />
<text xml:space="preserve" x="52.50" y="1182.40" font-size="11" fill="#2a2a2a" stroke="#2a2a2a" stroke-width="0.18" text-anchor="end" letter-spacing="0.5" font-weight="normal" >0</text>
<line x1="57.90" y1="1173.40" x2="62.00" y2="1173.40" stroke="#1c1c1c" stroke-width="1.0" />
<line x1="57.90" y1="1168.40" x2="62.00" y2="1168.40" stroke="#1c1c1c" stroke-width="1.0" />
<line x1="57.90" y1="1163.40" x2="62.00" y2="1163.40" stroke="#1c1c1c" stroke-width="1.0" />
<line x1="57.90" y1="1158.40" x2="62.00" y2="1158.40" stroke="#1c1c1c" stroke-width="1.0" />
<line x1="54.40" y1="1153.40" x2="62.00" y2="1153.40" stroke="#1c1c1c" stroke-width="1.1" />
<text xml:space="preserve" x="52.50" y="1157.40" font-size="11" fill="#2a2a2a" stroke="#2a2a2a" stroke-width="0.18" text-anchor="end" letter-spacing="0.5" font-weight="normal" >5</text>
<line x1="57.90" y1="1148.40" x2="62.00" y2="1148.40" stroke="#1c1c1c" stroke-width="1.0" />
<line x1="57.90" y1="1143.40" x2="62.00" y2="1143.40" stroke="#1c1c1c" stroke-width="1.0" />
<line x1="57.90" y1="1138.40" x2="62.00" y2="1138.40" stroke="#1c1c1c" stroke-width="1.0" />
<line x1="57.90" y1="1133.40" x2="62.00" y2="1133.40" stroke="#1c1c1c" stroke-width="1.0" />
<line x1="54.40" y1="1128.40" x2="62.00" y2="1128.40" stroke="#1c1c1c" stroke-width="1.1" />
<text xml:space="preserve" x="52.50" y="1132.40" font-size="11" fill="#2a2a2a" stroke="#2a2a2a" stroke-width="0.18" text-anchor="end" letter-spacing="0.5" font-weight="normal" >10</text>
<line x1="57.90" y1="1123.40" x2="62.00" y2="1123.40" stroke="#1c1c1c" stroke-width="1.0" />
<line x1="57.90" y1="1118.40" x2="62.00" y2="1118.40" stroke="#1c1c1c" stroke-width="1.0" />
<line x1="57.90" y1="1113.40" x2="62.00" y2="1113.40" stroke="#1c1c1c" stroke-width="1.0" />
<line x1="57.90" y1="1108.40" x2="62.00" y2="1108.40" stroke="#1c1c1c" stroke-width="1.0" />
<line x1="54.40" y1="1103.40" x2="62.00" y2="1103.40" stroke="#1c1c1c" stroke-width="1.1" />
<text xml:space="preserve" x="52.50" y="1107.40" font-size="11" fill="#2a2a2a" stroke="#2a2a2a" stroke-width="0.18" text-anchor="end" letter-spacing="0.5" font-weight="normal" >15</text>
<line x1="57.90" y1="1098.40" x2="62.00" y2="1098.40" stroke="#1c1c1c" stroke-width="1.0" />
<line x1="57.90" y1="1093.40" x2="62.00" y2="1093.40" stroke="#1c1c1c" stroke-width="1.0" />
<line x1="57.90" y1="1088.40" x2="62.00" y2="1088.40" stroke="#1c1c1c" stroke-width="1.0" />
<line x1="57.90" y1="1083.40" x2="62.00" y2="1083.40" stroke="#1c1c1c" stroke-width="1.0" />
<line x1="54.40" y1="1078.40" x2="62.00" y2="1078.40" stroke="#1c1c1c" stroke-width="1.1" />
<text xml:space="preserve" x="52.50" y="1082.40" font-size="11" fill="#2a2a2a" stroke="#2a2a2a" stroke-width="0.18" text-anchor="end" letter-spacing="0.5" font-weight="normal" >20</text>
<line x1="57.90" y1="1073.40" x2="62.00" y2="1073.40" stroke="#1c1c1c" stroke-width="1.0" />
<line x1="57.90" y1="1068.40" x2="62.00" y2="1068.40" stroke="#1c1c1c" stroke-width="1.0" />
<line x1="57.90" y1="1063.40" x2="62.00" y2="1063.40" stroke="#1c1c1c" stroke-width="1.0" />
<line x1="57.90" y1="1058.40" x2="62.00" y2="1058.40" stroke="#1c1c1c" stroke-width="1.0" />
<line x1="54.40" y1="1053.40" x2="62.00" y2="1053.40" stroke="#1c1c1c" stroke-width="1.1" />
<text xml:space="preserve" x="52.50" y="1057.40" font-size="11" fill="#2a2a2a" stroke="#2a2a2a" stroke-width="0.18" text-anchor="end" letter-spacing="0.5" font-weight="normal" >25</text>
<line x1="57.90" y1="1048.40" x2="62.00" y2="1048.40" stroke="#1c1c1c" stroke-width="1.0" />
<line x1="57.90" y1="1043.40" x2="62.00" y2="1043.40" stroke="#1c1c1c" stroke-width="1.0" />
<line x1="57.90" y1="1038.40" x2="62.00" y2="1038.40" stroke="#1c1c1c" stroke-width="1.0" />
<line x1="57.90" y1="1033.40" x2="62.00" y2="1033.40" stroke="#1c1c1c" stroke-width="1.0" />
<line x1="54.40" y1="1028.40" x2="62.00" y2="1028.40" stroke="#1c1c1c" stroke-width="1.1" />
<text xml:space="preserve" x="52.50" y="1032.40" font-size="11" fill="#2a2a2a" stroke="#2a2a2a" stroke-width="0.18" text-anchor="end" letter-spacing="0.5" font-weight="normal" >30</text>
<line x1="57.90" y1="1023.40" x2="62.00" y2="1023.40" stroke="#1c1c1c" stroke-width="1.0" />
<line x1="57.90" y1="1018.40" x2="62.00" y2="1018.40" stroke="#1c1c1c" stroke-width="1.0" />
<line x1="57.90" y1="1013.40" x2="62.00" y2="1013.40" stroke="#1c1c1c" stroke-width="1.0" />
<line x1="57.90" y1="1008.40" x2="62.00" y2="1008.40" stroke="#1c1c1c" stroke-width="1.0" />
<line x1="54.40" y1="1003.40" x2="62.00" y2="1003.40" stroke="#1c1c1c" stroke-width="1.1" />
<text xml:space="preserve" x="52.50" y="1007.40" font-size="11" fill="#2a2a2a" stroke="#2a2a2a" stroke-width="0.18" text-anchor="end" letter-spacing="0.5" font-weight="normal" >35</text>
<line x1="57.90" y1="998.40" x2="62.00" y2="998.40" stroke="#1c1c1c" stroke-width="1.0" />
<line x1="57.90" y1="993.40" x2="62.00" y2="993.40" stroke="#1c1c1c" stroke-width="1.0" />
<line x1="57.90" y1="988.40" x2="62.00" y2="988.40" stroke="#1c1c1c" stroke-width="1.0" />
<line x1="57.90" y1="983.40" x2="62.00" y2="983.40" stroke="#1c1c1c" stroke-width="1.0" />
<line x1="54.40" y1="978.40" x2="62.00" y2="978.40" stroke="#1c1c1c" stroke-width="1.1" />
<text xml:space="preserve" x="52.50" y="982.40" font-size="11" fill="#2a2a2a" stroke="#2a2a2a" stroke-width="0.18" text-anchor="end" letter-spacing="0.5" font-weight="normal" >40</text>
<line x1="57.90" y1="973.40" x2="62.00" y2="973.40" stroke="#1c1c1c" stroke-width="1.0" />
<line x1="57.90" y1="968.40" x2="62.00" y2="968.40" stroke="#1c1c1c" stroke-width="1.0" />
<line x1="57.90" y1="963.40" x2="62.00" y2="963.40" stroke="#1c1c1c" stroke-width="1.0" />
<line x1="57.90" y1="958.40" x2="62.00" y2="958.40" stroke="#1c1c1c" stroke-width="1.0" />
<line x1="54.40" y1="953.40" x2="62.00" y2="953.40" stroke="#1c1c1c" stroke-width="1.1" />
<text xml:space="preserve" x="52.50" y="957.40" font-size="11" fill="#2a2a2a" stroke="#2a2a2a" stroke-width="0.18" text-anchor="end" letter-spacing="0.5" font-weight="normal" >45</text>
<line x1="57.90" y1="948.40" x2="62.00" y2="948.40" stroke="#1c1c1c" stroke-width="1.0" />
<line x1="57.90" y1="943.40" x2="62.00" y2="943.40" stroke="#1c1c1c" stroke-width="1.0" />
<line x1="57.90" y1="938.40" x2="62.00" y2="938.40" stroke="#1c1c1c" stroke-width="1.0" />
<line x1="57.90" y1="933.40" x2="62.00" y2="933.40" stroke="#1c1c1c" stroke-width="1.0" />
<line x1="54.40" y1="928.40" x2="62.00" y2="928.40" stroke="#1c1c1c" stroke-width="1.1" />
<text xml:space="preserve" x="52.50" y="932.40" font-size="11" fill="#2a2a2a" stroke="#2a2a2a" stroke-width="0.18" text-anchor="end" letter-spacing="0.5" font-weight="normal" >50</text>
<line x1="57.90" y1="923.40" x2="62.00" y2="923.40" stroke="#1c1c1c" stroke-width="1.0" />
<line x1="57.90" y1="918.40" x2="62.00" y2="918.40" stroke="#1c1c1c" stroke-width="1.0" />
<line x1="57.90" y1="913.40" x2="62.00" y2="913.40" stroke="#1c1c1c" stroke-width="1.0" />
<line x1="57.90" y1="908.40" x2="62.00" y2="908.40" stroke="#1c1c1c" stroke-width="1.0" />
<line x1="54.40" y1="903.40" x2="62.00" y2="903.40" stroke="#1c1c1c" stroke-width="1.1" />
<text xml:space="preserve" x="52.50" y="907.40" font-size="11" fill="#2a2a2a" stroke="#2a2a2a" stroke-width="0.18" text-anchor="end" letter-spacing="0.5" font-weight="normal" >55</text>
<line x1="57.90" y1="898.40" x2="62.00" y2="898.40" stroke="#1c1c1c" stroke-width="1.0" />
<line x1="57.90" y1="893.40" x2="62.00" y2="893.40" stroke="#1c1c1c" stroke-width="1.0" />
<line x1="57.90" y1="888.40" x2="62.00" y2="888.40" stroke="#1c1c1c" stroke-width="1.0" />
<line x1="57.90" y1="883.40" x2="62.00" y2="883.40" stroke="#1c1c1c" stroke-width="1.0" />
<line x1="54.40" y1="878.40" x2="62.00" y2="878.40" stroke="#1c1c1c" stroke-width="1.1" />
<text xml:space="preserve" x="52.50" y="882.40" font-size="11" fill="#2a2a2a" stroke="#2a2a2a" stroke-width="0.18" text-anchor="end" letter-spacing="0.5" font-weight="normal" >60</text>
<line x1="57.90" y1="873.40" x2="62.00" y2="873.40" stroke="#1c1c1c" stroke-width="1.0" />
<line x1="57.90" y1="868.40" x2="62.00" y2="868.40" stroke="#1c1c1c" stroke-width="1.0" />
<line x1="57.90" y1="863.40" x2="62.00" y2="863.40" stroke="#1c1c1c" stroke-width="1.0" />
<line x1="57.90" y1="858.40" x2="62.00" y2="858.40" stroke="#1c1c1c" stroke-width="1.0" />
<line x1="54.40" y1="853.40" x2="62.00" y2="853.40" stroke="#1c1c1c" stroke-width="1.1" />
<text xml:space="preserve" x="52.50" y="857.40" font-size="11" fill="#2a2a2a" stroke="#2a2a2a" stroke-width="0.18" text-anchor="end" letter-spacing="0.5" font-weight="normal" >65</text>
<line x1="57.90" y1="848.40" x2="62.00" y2="848.40" stroke="#1c1c1c" stroke-width="1.0" />
<line x1="57.90" y1="843.40" x2="62.00" y2="843.40" stroke="#1c1c1c" stroke-width="1.0" />
<line x1="57.90" y1="838.40" x2="62.00" y2="838.40" stroke="#1c1c1c" stroke-width="1.0" />
<line x1="57.90" y1="833.40" x2="62.00" y2="833.40" stroke="#1c1c1c" stroke-width="1.0" />
<line x1="54.40" y1="828.40" x2="62.00" y2="828.40" stroke="#1c1c1c" stroke-width="1.1" />
<text xml:space="preserve" x="52.50" y="832.40" font-size="11" fill="#2a2a2a" stroke="#2a2a2a" stroke-width="0.18" text-anchor="end" letter-spacing="0.5" font-weight="normal" >70</text>
<line x1="57.90" y1="823.40" x2="62.00" y2="823.40" stroke="#1c1c1c" stroke-width="1.0" />
<line x1="57.90" y1="818.40" x2="62.00" y2="818.40" stroke="#1c1c1c" stroke-width="1.0" />
<line x1="57.90" y1="813.40" x2="62.00" y2="813.40" stroke="#1c1c1c" stroke-width="1.0" />
<line x1="57.90" y1="808.40" x2="62.00" y2="808.40" stroke="#1c1c1c" stroke-width="1.0" />
<line x1="54.40" y1="803.40" x2="62.00" y2="803.40" stroke="#1c1c1c" stroke-width="1.1" />
<text xml:space="preserve" x="52.50" y="807.40" font-size="11" fill="#2a2a2a" stroke="#2a2a2a" stroke-width="0.18" text-anchor="end" letter-spacing="0.5" font-weight="normal" >75</text>
<line x1="57.90" y1="798.40" x2="62.00" y2="798.40" stroke="#1c1c1c" stroke-width="1.0" />
<line x1="57.90" y1="793.40" x2="62.00" y2="793.40" stroke="#1c1c1c" stroke-width="1.0" />
<line x1="57.90" y1="788.40" x2="62.00" y2="788.40" stroke="#1c1c1c" stroke-width="1.0" />
<line x1="57.90" y1="783.40" x2="62.00" y2="783.40" stroke="#1c1c1c" stroke-width="1.0" />
<line x1="54.40" y1="778.40" x2="62.00" y2="778.40" stroke="#1c1c1c" stroke-width="1.1" />
<text xml:space="preserve" x="52.50" y="782.40" font-size="11" fill="#2a2a2a" stroke="#2a2a2a" stroke-width="0.18" text-anchor="end" letter-spacing="0.5" font-weight="normal" >80</text>
<line x1="57.90" y1="773.40" x2="62.00" y2="773.40" stroke="#1c1c1c" stroke-width="1.0" />
<line x1="57.90" y1="768.40" x2="62.00" y2="768.40" stroke="#1c1c1c" stroke-width="1.0" />
<line x1="57.90" y1="763.40" x2="62.00" y2="763.40" stroke="#1c1c1c" stroke-width="1.0" />
<line x1="57.90" y1="758.40" x2="62.00" y2="758.40" stroke="#1c1c1c" stroke-width="1.0" />
<line x1="54.40" y1="753.40" x2="62.00" y2="753.40" stroke="#1c1c1c" stroke-width="1.1" />
<text xml:space="preserve" x="52.50" y="757.40" font-size="11" fill="#2a2a2a" stroke="#2a2a2a" stroke-width="0.18" text-anchor="end" letter-spacing="0.5" font-weight="normal" >85</text>
<line x1="57.90" y1="748.40" x2="62.00" y2="748.40" stroke="#1c1c1c" stroke-width="1.0" />
<line x1="57.90" y1="743.40" x2="62.00" y2="743.40" stroke="#1c1c1c" stroke-width="1.0" />
<line x1="57.90" y1="738.40" x2="62.00" y2="738.40" stroke="#1c1c1c" stroke-width="1.0" />
<line x1="57.90" y1="733.40" x2="62.00" y2="733.40" stroke="#1c1c1c" stroke-width="1.0" />
<line x1="54.40" y1="728.40" x2="62.00" y2="728.40" stroke="#1c1c1c" stroke-width="1.1" />
<text xml:space="preserve" x="52.50" y="732.40" font-size="11" fill="#2a2a2a" stroke="#2a2a2a" stroke-width="0.18" text-anchor="end" letter-spacing="0.5" font-weight="normal" >90</text>
<line x1="57.90" y1="723.40" x2="62.00" y2="723.40" stroke="#1c1c1c" stroke-width="1.0" />
<line x1="57.90" y1="718.40" x2="62.00" y2="718.40" stroke="#1c1c1c" stroke-width="1.0" />
<line x1="57.90" y1="713.40" x2="62.00" y2="713.40" stroke="#1c1c1c" stroke-width="1.0" />
<line x1="57.90" y1="708.40" x2="62.00" y2="708.40" stroke="#1c1c1c" stroke-width="1.0" />
<line x1="54.40" y1="703.40" x2="62.00" y2="703.40" stroke="#1c1c1c" stroke-width="1.1" />
<text xml:space="preserve" x="52.50" y="707.40" font-size="11" fill="#2a2a2a" stroke="#2a2a2a" stroke-width="0.18" text-anchor="end" letter-spacing="0.5" font-weight="normal" >95</text>
<line x1="57.90" y1="698.40" x2="62.00" y2="698.40" stroke="#1c1c1c" stroke-width="1.0" />
<line x1="57.90" y1="693.40" x2="62.00" y2="693.40" stroke="#1c1c1c" stroke-width="1.0" />
<line x1="57.90" y1="688.40" x2="62.00" y2="688.40" stroke="#1c1c1c" stroke-width="1.0" />
<line x1="57.90" y1="683.40" x2="62.00" y2="683.40" stroke="#1c1c1c" stroke-width="1.0" />
<line x1="54.40" y1="678.40" x2="62.00" y2="678.40" stroke="#1c1c1c" stroke-width="1.1" />
<text xml:space="preserve" x="52.50" y="682.40" font-size="11" fill="#2a2a2a" stroke="#2a2a2a" stroke-width="0.18" text-anchor="end" letter-spacing="0.5" font-weight="normal" >100</text>
<line x1="74.84" y1="1178.40" x2="74.84" y2="1181.90" stroke="#1c1c1c" stroke-width="1.0" />
<line x1="101.80" y1="1178.40" x2="101.80" y2="1181.90" stroke="#1c1c1c" stroke-width="1.0" />
<line x1="128.75" y1="1178.40" x2="128.75" y2="1184.90" stroke="#1c1c1c" stroke-width="1.1" />
<text xml:space="preserve" x="128.75" y="1196.30" font-size="11" fill="#2a2a2a" stroke="#2a2a2a" stroke-width="0.18" text-anchor="middle" letter-spacing="0.8" font-weight="normal" >400</text>
<line x1="155.71" y1="1178.40" x2="155.71" y2="1181.90" stroke="#1c1c1c" stroke-width="1.0" />
<line x1="182.66" y1="1178.40" x2="182.66" y2="1181.90" stroke="#1c1c1c" stroke-width="1.0" />
<line x1="209.62" y1="1178.40" x2="209.62" y2="1181.90" stroke="#1c1c1c" stroke-width="1.0" />
<line x1="236.57" y1="1178.40" x2="236.57" y2="1184.90" stroke="#1c1c1c" stroke-width="1.1" />
<text xml:space="preserve" x="236.57" y="1196.30" font-size="11" fill="#2a2a2a" stroke="#2a2a2a" stroke-width="0.18" text-anchor="middle" letter-spacing="0.8" font-weight="normal" >600</text>
<line x1="263.52" y1="1178.40" x2="263.52" y2="1181.90" stroke="#1c1c1c" stroke-width="1.0" />
<line x1="290.48" y1="1178.40" x2="290.48" y2="1181.90" stroke="#1c1c1c" stroke-width="1.0" />
<line x1="317.44" y1="1178.40" x2="317.44" y2="1181.90" stroke="#1c1c1c" stroke-width="1.0" />
<line x1="344.39" y1="1178.40" x2="344.39" y2="1184.90" stroke="#1c1c1c" stroke-width="1.1" />
<text xml:space="preserve" x="344.39" y="1196.30" font-size="11" fill="#2a2a2a" stroke="#2a2a2a" stroke-width="0.18" text-anchor="middle" letter-spacing="0.8" font-weight="normal" >800</text>
<line x1="371.35" y1="1178.40" x2="371.35" y2="1181.90" stroke="#1c1c1c" stroke-width="1.0" />
<line x1="398.30" y1="1178.40" x2="398.30" y2="1181.90" stroke="#1c1c1c" stroke-width="1.0" />
<line x1="425.25" y1="1178.40" x2="425.25" y2="1181.90" stroke="#1c1c1c" stroke-width="1.0" />
<line x1="452.21" y1="1178.40" x2="452.21" y2="1184.90" stroke="#1c1c1c" stroke-width="1.1" />
<text xml:space="preserve" x="452.21" y="1196.30" font-size="11" fill="#2a2a2a" stroke="#2a2a2a" stroke-width="0.18" text-anchor="middle" letter-spacing="0.8" font-weight="normal" >1000</text>
<line x1="479.17" y1="1178.40" x2="479.17" y2="1181.90" stroke="#1c1c1c" stroke-width="1.0" />
<line x1="506.12" y1="1178.40" x2="506.12" y2="1181.90" stroke="#1c1c1c" stroke-width="1.0" />
<line x1="533.08" y1="1178.40" x2="533.08" y2="1181.90" stroke="#1c1c1c" stroke-width="1.0" />
<line x1="560.03" y1="1178.40" x2="560.03" y2="1184.90" stroke="#1c1c1c" stroke-width="1.1" />
<text xml:space="preserve" x="560.03" y="1196.30" font-size="11" fill="#2a2a2a" stroke="#2a2a2a" stroke-width="0.18" text-anchor="middle" letter-spacing="0.8" font-weight="normal" >1200</text>
<line x1="586.99" y1="1178.40" x2="586.99" y2="1181.90" stroke="#1c1c1c" stroke-width="1.0" />
<line x1="613.94" y1="1178.40" x2="613.94" y2="1181.90" stroke="#1c1c1c" stroke-width="1.0" />
<line x1="640.89" y1="1178.40" x2="640.89" y2="1181.90" stroke="#1c1c1c" stroke-width="1.0" />
<line x1="667.85" y1="1178.40" x2="667.85" y2="1184.90" stroke="#1c1c1c" stroke-width="1.1" />
<text xml:space="preserve" x="667.85" y="1196.30" font-size="11" fill="#2a2a2a" stroke="#2a2a2a" stroke-width="0.18" text-anchor="middle" letter-spacing="0.8" font-weight="normal" >1400</text>
<line x1="694.81" y1="1178.40" x2="694.81" y2="1181.90" stroke="#1c1c1c" stroke-width="1.0" />
<line x1="721.76" y1="1178.40" x2="721.76" y2="1181.90" stroke="#1c1c1c" stroke-width="1.0" />
<line x1="748.72" y1="1178.40" x2="748.72" y2="1181.90" stroke="#1c1c1c" stroke-width="1.0" />
<line x1="775.67" y1="1178.40" x2="775.67" y2="1184.90" stroke="#1c1c1c" stroke-width="1.1" />
<text xml:space="preserve" x="775.67" y="1196.30" font-size="11" fill="#2a2a2a" stroke="#2a2a2a" stroke-width="0.18" text-anchor="middle" letter-spacing="0.8" font-weight="normal" >1600</text>
<line x1="802.62" y1="1178.40" x2="802.62" y2="1181.90" stroke="#1c1c1c" stroke-width="1.0" />
<line x1="829.58" y1="1178.40" x2="829.58" y2="1181.90" stroke="#1c1c1c" stroke-width="1.0" />
<line x1="856.54" y1="1178.40" x2="856.54" y2="1181.90" stroke="#1c1c1c" stroke-width="1.0" />
<line x1="883.49" y1="1178.40" x2="883.49" y2="1184.90" stroke="#1c1c1c" stroke-width="1.1" />
<text xml:space="preserve" x="883.49" y="1196.30" font-size="11" fill="#2a2a2a" stroke="#2a2a2a" stroke-width="0.18" text-anchor="middle" letter-spacing="0.8" font-weight="normal" >1800</text>
<line x1="910.45" y1="1178.40" x2="910.45" y2="1181.90" stroke="#1c1c1c" stroke-width="1.0" />
<line x1="937.40" y1="1178.40" x2="937.40" y2="1181.90" stroke="#1c1c1c" stroke-width="1.0" />
<line x1="964.36" y1="1178.40" x2="964.36" y2="1181.90" stroke="#1c1c1c" stroke-width="1.0" />
<line x1="991.31" y1="1178.40" x2="991.31" y2="1184.90" stroke="#1c1c1c" stroke-width="1.1" />
<text xml:space="preserve" x="991.31" y="1196.30" font-size="11" fill="#2a2a2a" stroke="#2a2a2a" stroke-width="0.18" text-anchor="middle" letter-spacing="0.8" font-weight="normal" >2000</text>
<text xml:space="preserve" x="526.00" y="1212.30" font-size="10.7" fill="#2a2a2a" stroke="#2a2a2a" stroke-width="0.18" text-anchor="middle" letter-spacing="0.2" font-weight="normal" >m/z</text>
<text transform="translate(27.8,929) rotate(-90)" font-size="10.5" fill="#2a2a2a" text-anchor="middle" letter-spacing="0.5">Relative Abundance</text>
<path d="M72.0,1179.20L72.00,1177.49L72.70,1176.63L73.40,1176.43L74.10,1177.54L74.80,1176.57L75.50,1176.77L76.20,1176.64L76.90,1177.10L77.60,1176.47L78.30,1177.01L79.00,1176.51L79.70,1177.14L80.40,1177.75L81.10,1177.21L81.80,1177.27L82.50,1177.51L83.20,1177.45L83.90,1177.23L84.60,1177.10L85.30,1177.70L86.00,1177.61L86.70,1177.24L87.40,1177.24L88.10,1177.38L88.80,1176.97L89.50,1177.76L90.20,1177.19L90.90,1177.61L91.60,1176.80L92.30,1176.91L93.00,1176.78L93.70,1177.22L94.40,1177.66L95.10,1176.54L95.80,1177.23L96.50,1177.45L97.20,1177.59L97.90,1177.41L98.60,1176.90L99.30,1176.72L100.00,1177.27L100.70,1176.86L101.40,1177.72L102.10,1177.32L102.80,1177.48L103.50,1177.56L104.20,1177.48L104.90,1176.82L105.60,1176.86L106.30,1177.73L107.00,1177.68L107.70,1176.78L108.40,1176.99L109.10,1176.95L109.80,1177.02L110.50,1176.93L111.20,1177.62L111.90,1177.97L112.60,1177.47L113.30,1178.02L114.00,1176.48L114.70,1177.20L115.40,1176.96L116.10,1176.48L116.80,1176.74L117.50,1177.69L118.20,1177.51L118.90,1177.89L119.60,1176.76L120.30,1176.85L121.00,1177.27L121.70,1177.46L122.40,1177.62L123.10,1177.27L123.80,1176.90L124.50,1176.59L125.20,1176.67L125.90,1176.64L126.60,1177.35L127.30,1177.37L128.00,1177.55L128.70,1176.46L129.40,1177.77L130.10,1177.81L130.80,1177.61L131.50,1176.55L132.20,1176.66L132.90,1177.52L133.60,1176.66L134.30,1176.60L135.00,1177.37L135.70,1177.75L136.40,1176.79L137.10,1177.45L137.80,1177.87L138.50,1176.58L139.20,1177.34L139.90,1177.15L140.60,1176.73L141.30,1177.44L142.00,1177.94L142.70,1177.16L143.40,1177.18L144.10,1177.96L144.80,1177.20L145.50,1176.38L146.20,1177.28L146.90,1176.55L147.60,1176.67L148.30,1177.58L149.00,1177.94L149.70,1176.56L150.40,1176.70L151.10,1177.36L151.80,1177.56L152.50,1176.18L153.20,1176.07L153.90,1177.49L154.60,1176.75L155.30,1176.77L156.00,1177.30L156.70,1177.90L157.40,1177.30L158.10,1176.63L158.80,1176.72L159.50,1176.91L160.20,1177.72L160.90,1177.53L161.60,1177.33L162.30,1177.11L163.00,1177.22L163.70,1176.09L164.40,1177.74L165.10,1175.91L165.80,1177.48L166.50,1176.18L167.20,1177.47L167.90,1176.75L168.60,1177.19L169.30,1177.90L170.00,1176.31L170.70,1176.28L171.40,1177.41L172.10,1176.35L172.80,1176.97L173.50,1175.91L174.20,1177.87L174.90,1177.18L175.60,1177.50L176.30,1176.67L177.00,1176.35L177.70,1176.21L178.40,1176.83L179.10,1177.17L179.80,1176.30L180.50,1177.76L181.20,1177.43L181.90,1176.40L182.60,1177.06L183.30,1175.89L184.00,1177.79L184.70,1177.01L185.40,1177.53L186.10,1177.98L186.80,1177.78L187.50,1177.79L188.20,1177.21L188.90,1177.07L189.60,1176.91L190.30,1177.37L191.00,1176.51L191.70,1176.90L192.40,1175.92L193.10,1177.62L193.80,1176.91L194.50,1176.94L195.20,1177.20L195.90,1176.17L196.60,1177.54L197.30,1176.14L198.00,1177.23L198.70,1177.28L199.40,1176.69L200.10,1176.80L200.80,1177.38L201.50,1177.80L202.20,1175.97L202.90,1177.20L203.60,1177.74L204.30,1176.60L205.00,1176.86L205.70,1177.29L206.40,1177.29L207.10,1176.21L207.80,1177.27L208.50,1177.10L209.20,1175.97L209.90,1177.22L210.60,1177.14L211.30,1177.64L212.00,1176.59L212.70,1176.58L213.40,1177.04L214.10,1177.13L214.80,1177.49L215.50,1175.58L216.20,1176.53L216.90,1175.46L217.60,1176.76L218.30,1175.74L219.00,1177.75L219.70,1177.20L220.40,1175.09L221.10,1175.89L221.80,1175.90L222.50,1176.41L223.20,1176.48L223.90,1177.27L224.60,1177.34L225.30,1175.99L226.00,1175.85L226.70,1177.09L227.40,1175.99L228.10,1177.44L228.80,1176.08L229.50,1177.34L230.20,1176.38L230.90,1176.94L231.60,1176.26L232.30,1177.45L233.00,1176.45L233.70,1176.07L234.40,1177.45L235.10,1176.95L235.80,1175.90L236.50,1176.27L237.20,1176.07L237.90,1175.61L238.60,1176.20L239.30,1177.20L240.00,1176.57L240.70,1175.46L241.40,1176.21L242.10,1175.68L242.80,1176.79L243.50,1176.55L244.20,1175.07L244.90,1175.49L245.60,1175.97L246.30,1177.53L247.00,1176.09L247.70,1177.74L248.40,1175.17L249.10,1175.06L249.80,1175.75L250.50,1177.07L251.20,1175.42L251.90,1177.32L252.60,1175.47L253.30,1176.35L254.00,1177.79L254.70,1175.29L255.40,1176.58L256.10,1175.46L256.80,1175.87L257.50,1176.31L258.20,1175.37L258.90,1177.25L259.60,1175.27L260.30,1176.86L261.00,1177.76L261.70,1176.87L262.40,1177.64L263.10,1177.62L263.80,1176.05L264.50,1177.49L265.20,1177.37L265.90,1177.00L266.60,1177.04L267.30,1175.21L268.00,1175.25L268.70,1175.35L269.40,1175.01L270.10,1176.58L270.80,1175.56L271.50,1177.03L272.20,1175.19L272.90,1175.52L273.60,1175.74L274.30,1177.18L275.00,1177.57L275.70,1175.19L276.40,1176.26L277.10,1176.08L277.80,1175.37L278.50,1177.42L279.20,1175.84L279.90,1176.51L280.60,1175.59L281.30,1176.53L282.00,1177.27L282.70,1175.10L283.40,1177.03L284.10,1175.71L284.80,1175.46L285.50,1177.12L286.20,1175.85L286.90,1176.70L287.60,1177.19L288.30,1177.21L289.00,1175.11L289.70,1176.78L290.40,1176.38L291.10,1176.09L291.80,1177.65L292.50,1175.25L293.20,1175.28L293.90,1174.85L294.60,1176.56L295.30,1177.05L296.00,1176.59L296.70,1175.32L297.40,1175.57L298.10,1176.40L298.80,1176.01L299.50,1177.23L300.20,1174.71L300.90,1176.18L301.60,1176.07L302.30,1175.14L303.00,1177.09L303.70,1175.36L304.40,1176.57L305.10,1175.06L305.80,1177.43L306.50,1176.83L307.20,1175.64L307.90,1176.15L308.60,1176.50L309.30,1175.83L310.00,1177.02L310.70,1176.30L311.40,1177.73L312.10,1175.10L312.80,1176.90L313.50,1175.00L314.20,1175.92L314.90,1175.76L315.60,1175.67L316.30,1177.33L317.00,1175.18L317.70,1176.78L318.40,1174.89L319.10,1175.14L319.80,1175.50L320.50,1175.05L321.20,1176.30L321.90,1175.52L322.60,1174.60L323.30,1177.12L324.00,1177.41L324.70,1176.38L325.40,1176.06L326.10,1177.25L326.80,1177.01L327.50,1174.88L328.20,1176.46L328.90,1177.25L329.60,1177.14L330.30,1175.83L331.00,1177.11L331.70,1176.17L332.40,1175.97L333.10,1176.29L333.80,1176.08L334.50,1174.98L335.20,1177.68L335.90,1174.67L336.60,1177.08L337.30,1177.61L338.00,1175.21L338.70,1175.86L339.40,1175.96L340.10,1177.02L340.80,1175.16L341.50,1176.73L342.20,1175.34L342.90,1176.99L343.60,1175.85L344.30,1175.60L345.00,1176.51L345.70,1176.16L346.40,1177.52L347.10,1175.62L347.80,1175.46L348.50,1177.23L349.20,1175.92L349.90,1175.32L350.60,1177.41L351.30,1174.97L352.00,1174.87L352.70,1177.57L353.40,1176.92L354.10,1177.46L354.80,1176.91L355.50,1177.46L356.20,1176.13L356.90,1176.91L357.60,1176.75L358.30,1176.22L359.00,1176.51L359.70,1175.14L360.40,1175.36L361.10,1177.36L361.80,1177.00L362.50,1177.71L363.20,1176.65L363.90,1177.38L364.60,1175.44L365.30,1175.16L366.00,1174.45L366.70,1177.05L367.40,1177.62L368.10,1175.24L368.80,1176.38L369.50,1174.67L370.20,1176.44L370.90,1176.71L371.60,1177.50L372.30,1174.61L373.00,1176.05L373.70,1176.29L374.40,1176.30L375.10,1175.20L375.80,1175.00L376.50,1176.17L377.20,1177.15L377.90,1176.40L378.60,1174.80L379.30,1176.39L380.00,1175.56L380.70,1175.89L381.40,1176.22L382.10,1175.84L382.80,1176.93L383.50,1175.90L384.20,1174.89L384.90,1177.48L385.60,1176.52L386.30,1174.83L387.00,1174.51L387.70,1177.70L388.40,1175.67L389.10,1175.65L389.80,1174.96L390.50,1176.19L391.20,1177.31L391.90,1176.75L392.60,1175.39L393.30,1175.34L394.00,1177.06L394.70,1175.62L395.40,1175.57L396.10,1175.57L396.80,1177.67L397.50,1176.28L398.20,1176.67L398.90,1175.77L399.60,1176.63L400.30,1177.32L401.00,1175.53L401.70,1176.79L402.40,1175.13L403.10,1176.73L403.80,1175.94L404.50,1175.07L405.20,1177.36L405.90,1175.33L406.60,1177.52L407.30,1174.65L408.00,1177.66L408.70,1175.35L409.40,1176.52L410.10,1177.15L410.80,1176.44L411.50,1176.09L412.20,1176.37L412.90,1177.34L413.60,1176.01L414.30,1176.75L415.00,1174.55L415.70,1176.48L416.40,1176.30L417.10,1176.99L417.80,1174.54L418.50,1176.68L419.20,1175.61L419.90,1174.99L420.60,1176.44L421.30,1175.25L422.00,1176.82L422.70,1177.38L423.40,1177.60L424.10,1176.26L424.80,1174.86L425.50,1177.07L426.20,1176.29L426.90,1175.22L427.60,1176.83L428.30,1177.24L429.00,1176.03L429.70,1176.34L430.40,1174.64L431.10,1170.17L431.80,1175.11L432.50,1172.69L433.20,1173.78L433.90,1176.65L434.60,1173.57L435.30,1170.03L436.00,1174.63L436.70,1172.50L437.40,1171.57L438.10,1176.43L438.80,1169.97L439.50,1176.08L440.20,1174.64L440.90,1171.53L441.60,1176.76L442.30,1174.08L443.00,1175.95L443.70,1173.35L444.40,1176.78L445.10,1175.77L445.80,1175.23L446.50,1176.29L447.20,1176.22L447.90,1175.44L448.60,1173.02L449.30,1175.87L450.00,1170.74L450.70,1173.77L451.40,1175.01L452.10,1175.09L452.80,1170.60L453.50,1176.55L454.20,1171.33L454.90,1176.17L455.60,1169.82L456.30,1173.84L457.00,1172.42L457.70,1170.43L458.40,1176.15L459.10,1176.42L459.80,1171.70L460.50,1172.49L461.20,1171.49L461.90,1174.82L462.60,1173.17L463.30,1175.50L464.00,1173.62L464.70,1174.79L465.40,1172.51L466.10,1174.66L466.80,1174.84L467.50,1172.08L468.20,1176.26L468.90,1176.00L469.60,1176.73L470.30,1177.37L471.00,1177.64L471.70,1176.70L472.40,1176.71L473.10,1176.19L473.80,1177.02L474.50,1176.93L475.20,1175.78L475.90,1177.26L476.60,1175.57L477.30,1175.78L478.00,1175.54L478.70,1175.66L479.40,1177.30L480.10,1175.97L480.80,1176.45L481.50,1177.43L482.20,1175.53L482.90,1176.37L483.60,1175.98L484.30,1176.58L485.00,1177.73L485.70,1175.85L486.40,1177.50L487.10,1177.30L487.80,1176.44L488.50,1177.45L489.20,1176.81L489.90,1176.21L490.60,1177.69L491.30,1176.33L492.00,1177.67L492.70,1176.78L493.40,1176.36L494.10,1176.27L494.80,1177.82L495.50,1177.46L496.20,1175.62L496.90,1176.98L497.60,1176.90L498.30,1177.02L499.00,1176.25L499.70,1176.14L500.40,1176.36L501.10,1176.95L501.80,1176.55L502.50,1176.68L503.20,1177.47L503.90,1175.64L504.60,1175.60L505.30,1176.05L506.00,1175.54L506.70,1176.80L507.40,1175.91L508.10,1177.34L508.80,1176.14L509.50,1176.20L510.20,1175.67L510.90,1175.92L511.60,1175.81L512.30,1177.28L513.00,1176.03L513.70,1176.78L514.40,1177.17L515.10,1177.04L515.80,1176.00L516.50,1175.90L517.20,1175.89L517.90,1176.31L518.60,1177.51L519.30,1177.55L520.00,1176.56L520.70,1177.41L521.40,1177.11L522.10,1177.67L522.80,1177.55L523.50,1176.20L524.20,1177.38L524.90,1175.89L525.60,1177.13L526.30,1175.88L527.00,1177.19L527.70,1177.28L528.40,1176.97L529.10,1177.89L529.80,1176.87L530.50,1177.01L531.20,1177.89L531.90,1175.85L532.60,1177.02L533.30,1177.92L534.00,1175.62L534.70,1177.37L535.40,1177.31L536.10,1177.86L536.80,1177.68L537.50,1176.22L538.20,1176.52L538.90,1176.71L539.60,1177.33L540.30,1177.23L541.00,1175.59L541.70,1177.03L542.40,1175.55L543.10,1175.79L543.80,1177.62L544.50,1175.88L545.20,1177.87L545.90,1176.21L546.60,1175.98L547.30,1176.25L548.00,1176.60L548.70,1175.97L549.40,1177.55L550.10,1176.62L550.80,1177.28L551.50,1176.96L552.20,1177.46L552.90,1176.22L553.60,1176.54L554.30,1176.05L555.00,1176.41L555.70,1176.48L556.40,1175.71L557.10,1175.97L557.80,1176.56L558.50,1177.14L559.20,1175.69L559.90,1177.03L560.60,1177.67L561.30,1177.12L562.00,1176.22L562.70,1175.68L563.40,1176.37L564.10,1176.33L564.80,1175.67L565.50,1176.05L566.20,1176.85L566.90,1176.81L567.60,1176.10L568.30,1177.16L569.00,1177.66L569.70,1176.43L570.40,1175.98L571.10,1177.32L571.80,1176.28L572.50,1175.78L573.20,1177.61L573.90,1177.59L574.60,1176.74L575.30,1177.12L576.00,1175.64L576.70,1175.53L577.40,1176.85L578.10,1176.02L578.80,1176.40L579.50,1177.50L580.20,1175.59L580.90,1177.50L581.60,1177.74L582.30,1176.83L583.00,1177.88L583.70,1176.77L584.40,1176.93L585.10,1175.63L585.80,1176.93L586.50,1175.88L587.20,1176.05L587.90,1176.51L588.60,1177.35L589.30,1177.19L590.00,1176.74L590.70,1176.97L591.40,1176.37L592.10,1176.71L592.80,1177.14L593.50,1176.46L594.20,1175.53L594.90,1177.43L595.60,1177.11L596.30,1177.89L597.00,1177.69L597.70,1177.79L598.40,1176.91L599.10,1175.91L599.80,1176.25L600.50,1175.60L601.20,1175.91L601.90,1176.51L602.60,1176.53L603.30,1177.89L604.00,1177.00L604.70,1177.29L605.40,1176.43L606.10,1177.76L606.80,1176.62L607.50,1177.02L608.20,1176.74L608.90,1176.95L609.60,1177.67L610.30,1176.16L611.00,1176.00L611.70,1176.48L612.40,1177.64L613.10,1176.48L613.80,1175.83L614.50,1176.98L615.20,1177.25L615.90,1178.11L616.60,1177.11L617.30,1177.36L618.00,1177.83L618.70,1177.06L619.40,1177.17L620.10,1177.09L620.80,1177.86L621.50,1177.47L622.20,1177.71L622.90,1177.80L623.60,1177.25L624.30,1177.42L625.00,1177.76L625.70,1177.51L626.40,1177.05L627.10,1177.48L627.80,1177.06L628.50,1177.48L629.20,1176.97L629.90,1178.13L630.60,1177.61L631.30,1177.50L632.00,1177.29L632.70,1177.00L633.40,1177.41L634.10,1177.59L634.80,1177.40L635.50,1177.52L636.20,1177.31L636.90,1177.02L637.60,1178.14L638.30,1177.78L639.00,1177.11L639.70,1178.09L640.40,1177.21L641.10,1178.12L641.80,1177.38L642.50,1177.20L643.20,1177.87L643.90,1177.70L644.60,1177.89L645.30,1177.31L646.00,1177.53L646.70,1177.43L647.40,1177.77L648.10,1177.46L648.80,1177.01L649.50,1177.22L650.20,1177.02L650.90,1177.86L651.60,1177.54L652.30,1177.70L653.00,1177.74L653.70,1177.20L654.40,1177.95L655.10,1177.49L655.80,1177.23L656.50,1177.04L657.20,1178.14L657.90,1177.84L658.60,1177.57L659.30,1177.04L660.00,1177.96L660.70,1177.15L661.40,1177.68L662.10,1177.50L662.80,1177.05L663.50,1178.08L664.20,1177.76L664.90,1177.97L665.60,1178.00L666.30,1177.80L667.00,1177.32L667.70,1177.46L668.40,1178.01L669.10,1177.20L669.80,1177.55L670.50,1177.99L671.20,1177.18L671.90,1177.18L672.60,1177.90L673.30,1177.03L674.00,1177.19L674.70,1177.89L675.40,1178.16L676.10,1177.12L676.80,1177.17L677.50,1178.04L678.20,1177.24L678.90,1177.23L679.60,1177.40L680.30,1177.16L681.00,1176.98L681.70,1177.77L682.40,1177.16L683.10,1177.05L683.80,1177.78L684.50,1177.34L685.20,1177.34L685.90,1177.14L686.60,1177.48L687.30,1177.83L688.00,1177.86L688.70,1177.51L689.40,1178.00L690.10,1177.13L690.80,1177.09L691.50,1177.87L692.20,1177.32L692.90,1177.35L693.60,1178.01L694.30,1177.23L695.00,1177.24L695.70,1177.79L696.40,1178.04L697.10,1177.82L697.80,1177.23L698.50,1177.60L699.20,1177.18L699.90,1177.97L700.60,1178.03L701.30,1177.74L702.00,1177.10L702.70,1177.97L703.40,1178.07L704.10,1177.26L704.80,1178.05L705.50,1177.36L706.20,1178.06L706.90,1177.86L707.60,1177.36L708.30,1177.11L709.00,1177.67L709.70,1177.62L710.40,1178.12L711.10,1177.75L711.80,1177.87L712.50,1177.21L713.20,1177.30L713.90,1177.22L714.60,1177.52L715.30,1177.32L716.00,1178.01L716.70,1177.70L717.40,1177.81L718.10,1177.82L718.80,1177.27L719.50,1177.90L720.20,1177.77L720.90,1177.82L721.60,1177.12L722.30,1177.39L723.00,1177.58L723.70,1177.70L724.40,1177.05L725.10,1177.03L725.80,1177.62L726.50,1177.48L727.20,1177.12L727.90,1177.85L728.60,1177.85L729.30,1178.04L730.00,1177.56L730.70,1177.24L731.40,1177.97L732.10,1177.64L732.80,1176.97L733.50,1177.58L734.20,1177.70L734.90,1177.15L735.60,1177.09L736.30,1177.71L737.00,1178.01L737.70,1177.40L738.40,1177.27L739.10,1177.05L739.80,1177.37L740.50,1177.79L741.20,1177.54L741.90,1177.81L742.60,1177.62L743.30,1177.60L744.00,1177.07L744.70,1177.07L745.40,1177.05L746.10,1177.59L746.80,1177.00L747.50,1177.99L748.20,1177.05L748.90,1177.39L749.60,1177.11L750.30,1177.66L751.00,1176.97L751.70,1178.13L752.40,1177.14L753.10,1177.18L753.80,1177.71L754.50,1177.17L755.20,1177.90L755.90,1177.26L756.60,1177.60L757.30,1177.67L758.00,1177.92L758.70,1177.20L759.40,1177.28L760.10,1178.05L760.80,1176.99L761.50,1177.89L762.20,1177.71L762.90,1177.66L763.60,1177.47L764.30,1177.09L765.00,1177.03L765.70,1177.40L766.40,1177.72L767.10,1178.03L767.80,1178.08L768.50,1177.54L769.20,1177.46L769.90,1177.62L770.60,1176.98L771.30,1177.66L772.00,1177.74L772.70,1177.66L773.40,1177.95L774.10,1177.03L774.80,1177.45L775.50,1177.51L776.20,1177.65L776.90,1177.86L777.60,1177.78L778.30,1177.57L779.00,1177.62L779.70,1176.98L780.40,1177.48L781.10,1177.91L781.80,1178.10L782.50,1177.97L783.20,1177.75L783.90,1177.22L784.60,1177.09L785.30,1177.88L786.00,1177.22L786.70,1177.63L787.40,1177.51L788.10,1177.52L788.80,1178.11L789.50,1178.08L790.20,1177.36L790.90,1177.33L791.60,1177.70L792.30,1177.06L793.00,1177.18L793.70,1177.80L794.40,1178.08L795.10,1177.50L795.80,1177.37L796.50,1177.89L797.20,1178.11L797.90,1177.58L798.60,1178.12L799.30,1177.28L800.00,1177.41L800.70,1177.82L801.40,1177.63L802.10,1177.88L802.80,1178.15L803.50,1178.15L804.20,1177.73L804.90,1177.97L805.60,1177.80L806.30,1178.04L807.00,1177.74L807.70,1177.87L808.40,1177.84L809.10,1178.01L809.80,1177.90L810.50,1178.14L811.20,1177.63L811.90,1177.82L812.60,1177.92L813.30,1177.85L814.00,1178.20L814.70,1178.05L815.40,1178.12L816.10,1177.71L816.80,1178.26L817.50,1177.97L818.20,1177.69L818.90,1177.75L819.60,1177.79L820.30,1178.07L821.00,1178.11L821.70,1177.80L822.40,1178.07L823.10,1177.79L823.80,1178.04L824.50,1177.77L825.20,1177.89L825.90,1177.73L826.60,1177.62L827.30,1178.02L828.00,1177.62L828.70,1178.26L829.40,1177.69L830.10,1178.25L830.80,1177.91L831.50,1178.01L832.20,1177.76L832.90,1178.06L833.60,1178.13L834.30,1177.75L835.00,1177.90L835.70,1177.77L836.40,1177.95L837.10,1178.24L837.80,1177.76L838.50,1178.12L839.20,1177.96L839.90,1178.27L840.60,1178.10L841.30,1177.83L842.00,1177.76L842.70,1177.85L843.40,1177.98L844.10,1177.78L844.80,1177.83L845.50,1178.13L846.20,1177.91L846.90,1177.87L847.60,1177.79L848.30,1178.14L849.00,1178.06L849.70,1178.04L850.40,1178.20L851.10,1178.04L851.80,1177.79L852.50,1177.89L853.20,1178.15L853.90,1177.79L854.60,1178.19L855.30,1177.77L856.00,1178.17L856.70,1178.20L857.40,1178.10L858.10,1177.93L858.80,1178.09L859.50,1177.68L860.20,1177.65L860.90,1178.08L861.60,1177.77L862.30,1177.81L863.00,1177.90L863.70,1178.10L864.40,1177.64L865.10,1177.64L865.80,1178.26L866.50,1178.05L867.20,1178.06L867.90,1178.14L868.60,1177.98L869.30,1177.68L870.00,1178.25L870.70,1177.72L871.40,1178.06L872.10,1178.26L872.80,1177.67L873.50,1178.09L874.20,1178.13L874.90,1178.19L875.60,1178.03L876.30,1178.19L877.00,1178.15L877.70,1178.10L878.40,1177.89L879.10,1177.97L879.80,1178.07L880.50,1177.92L881.20,1177.76L881.90,1177.79L882.60,1178.04L883.30,1177.66L884.00,1177.75L884.70,1177.90L885.40,1177.95L886.10,1178.05L886.80,1178.18L887.50,1177.68L888.20,1177.87L888.90,1178.20L889.60,1177.66L890.30,1177.68L891.00,1178.25L891.70,1177.81L892.40,1178.11L893.10,1177.91L893.80,1177.72L894.50,1178.04L895.20,1177.94L895.90,1177.83L896.60,1178.14L897.30,1177.85L898.00,1177.99L898.70,1177.62L899.40,1178.14L900.10,1177.80L900.80,1178.24L901.50,1178.09L902.20,1178.19L902.90,1178.17L903.60,1177.92L904.30,1178.15L905.00,1177.74L905.70,1178.20L906.40,1177.86L907.10,1177.70L907.80,1178.18L908.50,1178.12L909.20,1177.76L909.90,1177.96L910.60,1177.65L911.30,1178.04L912.00,1178.01L912.70,1177.64L913.40,1178.04L914.10,1177.63L914.80,1177.68L915.50,1178.14L916.20,1177.91L916.90,1177.65L917.60,1178.19L918.30,1177.71L919.00,1177.76L919.70,1177.77L920.40,1177.87L921.10,1178.20L921.80,1177.64L922.50,1178.20L923.20,1177.75L923.90,1177.79L924.60,1178.06L925.30,1177.82L926.00,1178.00L926.70,1177.77L927.40,1178.24L928.10,1177.65L928.80,1178.01L929.50,1177.74L930.20,1177.96L930.90,1177.73L931.60,1178.07L932.30,1177.91L933.00,1178.25L933.70,1177.95L934.40,1178.22L935.10,1177.70L935.80,1177.82L936.50,1177.99L937.20,1177.62L937.90,1177.64L938.60,1177.64L939.30,1178.21L940.00,1177.80L940.70,1177.79L941.40,1177.87L942.10,1178.26L942.80,1177.66L943.50,1177.98L944.20,1177.88L944.90,1177.73L945.60,1178.09L946.30,1178.25L947.00,1177.66L947.70,1178.09L948.40,1178.24L949.10,1178.18L949.80,1177.61L950.50,1177.78L951.20,1178.13L951.90,1178.17L952.60,1177.68L953.30,1177.83L954.00,1177.88L954.70,1178.18L955.40,1178.00L956.10,1177.64L956.80,1178.27L957.50,1177.99L958.20,1178.23L958.90,1177.61L959.60,1178.20L960.30,1177.64L961.00,1177.71L961.70,1177.79L962.40,1178.24L963.10,1177.81L963.80,1177.94L964.50,1177.94L965.20,1178.17L965.90,1177.93L966.60,1177.74L967.30,1178.18L968.00,1177.69L968.70,1177.99L969.40,1178.09L970.10,1178.11L970.80,1177.96L971.50,1177.84L972.20,1177.89L972.90,1177.68L973.60,1177.93L974.30,1177.93L975.00,1177.62L975.70,1178.13L976.40,1178.26L977.10,1178.05L977.80,1178.06L978.50,1178.19L979.20,1177.99L979.90,1178.25L980.60,1177.66L981.30,1177.95L982.00,1177.69L982.70,1177.81L983.40,1177.79L984.10,1177.77L984.80,1178.07L985.50,1177.79L986.20,1178.13L986.90,1177.90L987.60,1177.88L988.30,1177.76L989.00,1178.16L989.70,1178.04L990.0,1179.20Z" fill="#1c1c1c" stroke="none"/>
<path d="M72.00,1179.20V1173.62M73.18,1179.20V1178.28M73.94,1179.20V1174.86M74.96,1179.20V1176.94M75.94,1179.20V1171.42M76.96,1179.20V1177.54M78.04,1179.20V1177.58M78.95,1179.20V1177.87M79.93,1179.20V1177.97M80.85,1179.20V1177.12M81.60,1179.20V1178.35M82.50,1179.20V1176.76M83.39,1179.20V1178.14M84.52,1179.20V1175.71M85.45,1179.20V1178.02M86.59,1179.20V1176.66M87.42,1179.20V1175.11M88.35,1179.20V1177.93M89.45,1179.20V1172.92M90.21,1179.20V1175.92M91.27,1179.20V1177.81M92.01,1179.20V1177.13M93.10,1179.20V1177.35M94.24,1179.20V1170.98M95.00,1179.20V1177.55M95.83,1179.20V1171.14M96.60,1179.20V1178.15M97.58,1179.20V1178.02M98.68,1179.20V1177.85M99.55,1179.20V1170.45M100.42,1179.20V1177.50M101.33,1179.20V1175.72M102.20,1179.20V1178.37M103.18,1179.20V1178.22M104.19,1179.20V1176.18M105.02,1179.20V1177.55M106.11,1179.20V1178.24M107.03,1179.20V1176.10M107.83,1179.20V1178.26M108.70,1179.20V1177.02M109.61,1179.20V1177.78M110.69,1179.20V1176.15M111.84,1179.20V1177.61M112.80,1179.20V1177.30M113.64,1179.20V1178.00M114.52,1179.20V1177.25M115.49,1179.20V1178.18M116.36,1179.20V1177.30M117.07,1179.20V1177.21M117.82,1179.20V1178.11M118.92,1179.20V1177.63M119.75,1179.20V1178.07M120.63,1179.20V1174.10M121.67,1179.20V1172.45M122.44,1179.20V1178.36M123.27,1179.20V1176.33M124.26,1179.20V1177.86M125.44,1179.20V1177.05M126.18,1179.20V1174.54M127.29,1179.20V1178.06M128.17,1179.20V1176.28M128.93,1179.20V1177.79M130.11,1179.20V1175.57M130.96,1179.20V1178.09M132.14,1179.20V1178.28M133.02,1179.20V1178.20M134.17,1179.20V1178.13M135.18,1179.20V1177.37M135.98,1179.20V1176.40M136.78,1179.20V1178.13M137.72,1179.20V1176.18M138.85,1179.20V1177.79M139.96,1179.20V1178.38M140.74,1179.20V1175.17M141.51,1179.20V1177.18M142.55,1179.20V1178.00M143.64,1179.20V1177.76M144.67,1179.20V1177.93M145.46,1179.20V1177.77M146.35,1179.20V1175.59M147.26,1179.20V1176.43M148.13,1179.20V1168.92M149.28,1179.20V1176.62M150.36,1179.20V1177.36M151.20,1179.20V1178.04M152.06,1179.20V1177.76M152.82,1179.20V1174.12M153.92,1179.20V1175.79M154.70,1179.20V1173.38M155.59,1179.20V1177.88M156.69,1179.20V1176.24M157.57,1179.20V1177.93M158.63,1179.20V1175.77M159.68,1179.20V1176.59M160.75,1179.20V1177.41M161.59,1179.20V1170.83M162.45,1179.20V1178.29M163.62,1179.20V1178.26M164.58,1179.20V1177.41M165.49,1179.20V1177.40M166.64,1179.20V1178.27M167.67,1179.20V1174.82M168.71,1179.20V1175.13M169.43,1179.20V1177.45M170.22,1179.20V1175.75M171.00,1179.20V1175.78M172.07,1179.20V1177.78M172.92,1179.20V1167.08M173.95,1179.20V1177.13M174.89,1179.20V1176.44M176.03,1179.20V1176.99M177.01,1179.20V1176.40M178.17,1179.20V1178.37M179.23,1179.20V1176.05M180.01,1179.20V1176.96M181.11,1179.20V1176.77M182.13,1179.20V1178.34M182.88,1179.20V1177.37M183.72,1179.20V1177.67M184.86,1179.20V1172.02M185.79,1179.20V1177.11M186.66,1179.20V1166.70M187.72,1179.20V1176.26M188.49,1179.20V1177.88M189.41,1179.20V1166.70M190.57,1179.20V1178.09M191.30,1179.20V1178.01M192.26,1179.20V1177.15M193.24,1179.20V1177.29M194.30,1179.20V1174.31M195.24,1179.20V1177.64M195.97,1179.20V1176.20M196.77,1179.20V1171.52M197.89,1179.20V1176.33M198.68,1179.20V1177.29M199.86,1179.20V1178.26M200.74,1179.20V1176.90M201.51,1179.20V1176.13M202.65,1179.20V1177.91M203.45,1179.20V1166.70M204.55,1179.20V1178.32M205.62,1179.20V1166.70M206.38,1179.20V1176.76M207.34,1179.20V1174.55M208.07,1179.20V1174.82M209.05,1179.20V1176.83M210.20,1179.20V1168.13M211.04,1179.20V1176.29M211.95,1179.20V1174.87M212.84,1179.20V1177.33M213.88,1179.20V1177.11M215.03,1179.20V1178.05M215.91,1179.20V1178.14M217.10,1179.20V1175.73M218.19,1179.20V1163.95M219.15,1179.20V1177.87M220.33,1179.20V1172.18M221.45,1179.20V1175.90M222.56,1179.20V1177.35M223.28,1179.20V1174.74M224.07,1179.20V1174.16M224.87,1179.20V1175.88M225.78,1179.20V1178.40M226.83,1179.20V1178.16M227.93,1179.20V1169.01M228.73,1179.20V1178.38M229.72,1179.20V1177.65M230.64,1179.20V1177.11M231.82,1179.20V1178.01M232.86,1179.20V1178.21M233.78,1179.20V1171.29M234.65,1179.20V1177.33M235.55,1179.20V1176.40M236.64,1179.20V1178.06M237.65,1179.20V1175.53M238.41,1179.20V1171.89M239.30,1179.20V1177.75M240.37,1179.20V1177.34M241.41,1179.20V1176.84M242.21,1179.20V1177.36M243.35,1179.20V1163.95M244.22,1179.20V1177.20M245.28,1179.20V1177.05M246.47,1179.20V1176.04M247.39,1179.20V1173.38M248.20,1179.20V1176.39M248.94,1179.20V1177.79M250.01,1179.20V1173.67M251.04,1179.20V1178.40M251.77,1179.20V1177.46M252.73,1179.20V1176.74M253.85,1179.20V1175.86M254.73,1179.20V1176.79M255.57,1179.20V1175.88M256.40,1179.20V1176.56M257.35,1179.20V1178.34M258.35,1179.20V1175.65M259.44,1179.20V1177.58M260.35,1179.20V1175.66M261.50,1179.20V1166.52M262.54,1179.20V1178.15M263.65,1179.20V1173.09M264.51,1179.20V1176.92M265.48,1179.20V1178.37M266.35,1179.20V1178.07M267.50,1179.20V1175.60M268.41,1179.20V1177.84M269.50,1179.20V1171.00M270.27,1179.20V1178.38M271.39,1179.20V1175.46M272.21,1179.20V1175.17M273.08,1179.20V1178.39M273.99,1179.20V1171.40M274.98,1179.20V1163.95M276.13,1179.20V1172.90M277.20,1179.20V1177.97M278.07,1179.20V1170.97M278.99,1179.20V1177.75M279.94,1179.20V1176.39M281.02,1179.20V1177.72M282.08,1179.20V1172.64M282.94,1179.20V1169.44M283.93,1179.20V1175.91M284.68,1179.20V1178.23M285.45,1179.20V1178.16M286.51,1179.20V1176.81M287.56,1179.20V1170.10M288.38,1179.20V1177.02M289.22,1179.20V1177.64M290.24,1179.20V1173.91M291.07,1179.20V1177.03M291.93,1179.20V1176.90M293.07,1179.20V1173.66M294.06,1179.20V1175.44M294.78,1179.20V1162.30M295.55,1179.20V1178.17M296.58,1179.20V1178.13M297.52,1179.20V1178.39M298.42,1179.20V1177.96M299.25,1179.20V1177.86M300.16,1179.20V1177.54M300.88,1179.20V1168.41M301.83,1179.20V1178.39M302.97,1179.20V1177.22M304.07,1179.20V1174.13M305.02,1179.20V1176.81M305.89,1179.20V1173.10M306.90,1179.20V1176.54M307.64,1179.20V1178.31M308.77,1179.20V1173.87M309.84,1179.20V1178.04M310.65,1179.20V1167.59M311.76,1179.20V1175.76M312.60,1179.20V1173.70M313.42,1179.20V1177.47M314.51,1179.20V1178.01M315.36,1179.20V1172.78M316.32,1179.20V1167.83M317.13,1179.20V1176.93M317.96,1179.20V1178.09M318.84,1179.20V1166.43M319.59,1179.20V1177.04M320.55,1179.20V1178.35M321.53,1179.20V1176.63M322.61,1179.20V1176.89M323.58,1179.20V1176.11M324.48,1179.20V1177.34M325.59,1179.20V1162.30M326.56,1179.20V1171.46M327.73,1179.20V1162.30M328.54,1179.20V1176.78M329.36,1179.20V1175.47M330.41,1179.20V1177.11M331.46,1179.20V1171.30M332.65,1179.20V1175.30M333.68,1179.20V1174.64M334.60,1179.20V1177.55M335.54,1179.20V1176.94M336.30,1179.20V1177.13M337.10,1179.20V1177.27M338.05,1179.20V1176.95M338.82,1179.20V1178.30M340.00,1179.20V1177.76M340.86,1179.20V1175.79M341.95,1179.20V1178.39M342.76,1179.20V1177.51M343.66,1179.20V1171.91M344.64,1179.20V1162.30M345.64,1179.20V1175.01M346.37,1179.20V1172.31M347.36,1179.20V1178.02M348.25,1179.20V1176.42M349.39,1179.20V1177.51M350.53,1179.20V1177.92M351.48,1179.20V1170.79M352.29,1179.20V1175.34M353.20,1179.20V1170.00M354.29,1179.20V1177.71M355.17,1179.20V1175.16M356.30,1179.20V1177.15M357.09,1179.20V1177.08M357.88,1179.20V1166.98M359.00,1179.20V1178.09M359.94,1179.20V1178.18M361.09,1179.20V1175.92M362.09,1179.20V1167.55M363.08,1179.20V1178.12M363.87,1179.20V1177.87M364.83,1179.20V1176.72M365.77,1179.20V1177.56M366.73,1179.20V1176.37M367.89,1179.20V1164.34M368.64,1179.20V1177.45M369.47,1179.20V1170.91M370.25,1179.20V1174.52M371.39,1179.20V1177.25M372.31,1179.20V1174.39M373.12,1179.20V1176.60M373.83,1179.20V1176.58M374.90,1179.20V1175.37M375.72,1179.20V1174.36M376.46,1179.20V1178.23M377.35,1179.20V1171.52M378.41,1179.20V1178.33M379.38,1179.20V1177.83M380.30,1179.20V1176.22M381.34,1179.20V1178.15M382.08,1179.20V1176.72M383.25,1179.20V1162.30M384.02,1179.20V1169.77M384.96,1179.20V1162.30M385.73,1179.20V1177.93M386.73,1179.20V1173.02M387.45,1179.20V1178.35M388.28,1179.20V1176.71M389.05,1179.20V1169.74M390.03,1179.20V1176.59M391.03,1179.20V1173.17M391.99,1179.20V1178.17M393.01,1179.20V1178.24M393.84,1179.20V1175.34M394.72,1179.20V1162.30M395.55,1179.20V1173.82M396.44,1179.20V1175.26M397.62,1179.20V1176.44M398.61,1179.20V1177.65M399.66,1179.20V1178.36M400.52,1179.20V1173.37M401.46,1179.20V1176.49M402.29,1179.20V1177.03M403.11,1179.20V1175.61M403.99,1179.20V1176.79M405.13,1179.20V1173.04M405.88,1179.20V1176.48M407.00,1179.20V1176.21M407.92,1179.20V1176.19M408.80,1179.20V1169.90M409.79,1179.20V1178.19M410.63,1179.20V1178.22M411.61,1179.20V1164.21M412.76,1179.20V1177.18M413.61,1179.20V1174.97M414.55,1179.20V1178.40M415.36,1179.20V1176.52M416.30,1179.20V1164.00M417.05,1179.20V1178.23M418.05,1179.20V1176.37M418.78,1179.20V1175.09M419.78,1179.20V1178.31M420.92,1179.20V1176.88M421.97,1179.20V1164.17M422.98,1179.20V1175.23M423.92,1179.20V1175.20M424.70,1179.20V1167.36M425.41,1179.20V1178.04M426.58,1179.20V1173.11M427.34,1179.20V1176.75M428.21,1179.20V1178.09M428.95,1179.20V1172.52M430.09,1179.20V1175.59M431.21,1179.20V1168.61M432.16,1179.20V1177.34M432.96,1179.20V1160.30M434.10,1179.20V1175.43M435.12,1179.20V1172.99M435.97,1179.20V1171.58M436.79,1179.20V1177.65M437.81,1179.20V1178.10M438.99,1179.20V1174.52M439.84,1179.20V1178.01M440.97,1179.20V1171.83M442.02,1179.20V1174.16M443.05,1179.20V1175.17M444.09,1179.20V1177.80M445.21,1179.20V1174.73M446.25,1179.20V1175.43M447.23,1179.20V1178.30M447.96,1179.20V1146.90M448.98,1179.20V1176.25M449.83,1179.20V1157.98M450.83,1179.20V1172.48M451.94,1179.20V1168.62M453.05,1179.20V1177.11M453.94,1179.20V1177.40M454.97,1179.20V1175.46M456.10,1179.20V1178.08M457.14,1179.20V1175.05M457.98,1179.20V1175.25M458.85,1179.20V1146.90M460.03,1179.20V1176.98M460.79,1179.20V1176.45M461.74,1179.20V1146.90M462.62,1179.20V1174.36M463.36,1179.20V1155.10M464.11,1179.20V1146.90M465.00,1179.20V1171.48M465.97,1179.20V1153.10M466.83,1179.20V1178.29M467.85,1179.20V1173.74M468.60,1179.20V1175.20M469.54,1179.20V1173.33M470.55,1179.20V1178.15M471.62,1179.20V1177.71M472.79,1179.20V1171.40M473.95,1179.20V1176.63M475.06,1179.20V1171.83M476.09,1179.20V1178.12M476.95,1179.20V1170.57M477.80,1179.20V1171.26M478.55,1179.20V1177.84M479.71,1179.20V1177.78M480.83,1179.20V1175.36M481.75,1179.20V1175.93M482.59,1179.20V1177.36M483.37,1179.20V1178.18M484.47,1179.20V1177.61M485.62,1179.20V1177.81M486.36,1179.20V1176.93M487.19,1179.20V1176.21M488.11,1179.20V1177.64M489.07,1179.20V1177.08M489.87,1179.20V1178.20M490.75,1179.20V1176.61M491.79,1179.20V1176.59M492.64,1179.20V1177.61M493.61,1179.20V1177.08M494.52,1179.20V1176.68M495.45,1179.20V1175.14M496.47,1179.20V1177.62M497.23,1179.20V1178.18M498.03,1179.20V1176.88M499.18,1179.20V1178.03M499.98,1179.20V1177.78M500.96,1179.20V1177.24M502.00,1179.20V1176.16M503.02,1179.20V1177.59M503.91,1179.20V1174.31M504.92,1179.20V1178.03M506.05,1179.20V1177.75M507.00,1179.20V1177.99M507.78,1179.20V1176.77M508.94,1179.20V1165.60M510.10,1179.20V1175.85M510.88,1179.20V1165.60M511.88,1179.20V1177.05M512.80,1179.20V1178.18M513.64,1179.20V1177.88M514.63,1179.20V1175.48M515.61,1179.20V1177.10M516.42,1179.20V1174.23M517.29,1179.20V1178.28M518.25,1179.20V1176.01M519.05,1179.20V1176.94M519.88,1179.20V1176.99M520.63,1179.20V1176.68M521.39,1179.20V1175.84M522.29,1179.20V1177.26M523.24,1179.20V1178.22M524.23,1179.20V1177.80M525.03,1179.20V1167.54M525.93,1179.20V1174.70M526.73,1179.20V1178.26M527.52,1179.20V1177.23M528.25,1179.20V1177.68M529.25,1179.20V1165.60M530.21,1179.20V1178.35M531.15,1179.20V1175.67M532.26,1179.20V1177.50M533.17,1179.20V1178.09M533.99,1179.20V1176.71M535.03,1179.20V1174.56M536.19,1179.20V1177.00M537.09,1179.20V1169.42M538.17,1179.20V1177.12M539.31,1179.20V1165.60M540.18,1179.20V1171.50M541.29,1179.20V1176.13M542.19,1179.20V1172.05M543.16,1179.20V1175.50M543.88,1179.20V1177.53M545.00,1179.20V1178.03M545.81,1179.20V1177.82M546.85,1179.20V1176.29M547.82,1179.20V1174.25M548.79,1179.20V1177.53M549.83,1179.20V1177.93M550.99,1179.20V1176.40M551.87,1179.20V1178.26M552.84,1179.20V1169.92M553.64,1179.20V1172.87M554.58,1179.20V1175.66M555.45,1179.20V1175.51M556.37,1179.20V1176.96M557.27,1179.20V1177.64M558.21,1179.20V1176.69M559.24,1179.20V1177.45M560.41,1179.20V1177.92M561.58,1179.20V1178.08M562.39,1179.20V1177.74M563.35,1179.20V1178.34M564.30,1179.20V1178.13M565.44,1179.20V1177.58M566.44,1179.20V1178.23M567.46,1179.20V1178.27M568.32,1179.20V1172.94M569.46,1179.20V1177.09M570.27,1179.20V1173.53M571.01,1179.20V1177.64M571.94,1179.20V1170.16M573.01,1179.20V1176.37M574.01,1179.20V1177.74M574.98,1179.20V1176.86M576.09,1179.20V1178.15M577.21,1179.20V1172.50M578.37,1179.20V1178.25M579.18,1179.20V1178.26M579.97,1179.20V1176.45M580.74,1179.20V1177.78M581.68,1179.20V1176.70M582.62,1179.20V1165.60M583.42,1179.20V1168.43M584.40,1179.20V1177.35M585.26,1179.20V1178.05M586.27,1179.20V1176.83M587.25,1179.20V1175.94M588.37,1179.20V1175.57M589.19,1179.20V1176.73M590.25,1179.20V1177.17M591.10,1179.20V1176.45M592.11,1179.20V1175.25M592.98,1179.20V1177.49M594.05,1179.20V1178.29M594.89,1179.20V1177.15M595.70,1179.20V1177.35M596.58,1179.20V1169.91M597.42,1179.20V1177.27M598.58,1179.20V1177.00M599.54,1179.20V1175.67M600.39,1179.20V1168.78M601.13,1179.20V1171.57M601.99,1179.20V1173.43M603.12,1179.20V1178.11M603.95,1179.20V1171.92M604.89,1179.20V1169.11M606.07,1179.20V1165.65M607.13,1179.20V1176.85M608.08,1179.20V1177.41M608.92,1179.20V1170.95M609.96,1179.20V1176.77M610.95,1179.20V1176.86M611.87,1179.20V1173.50M612.81,1179.20V1178.29M613.91,1179.20V1178.27M615.00,1179.20V1176.98M616.16,1179.20V1178.07M617.32,1179.20V1176.83M618.09,1179.20V1178.40M618.85,1179.20V1177.18M620.02,1179.20V1177.61M621.07,1179.20V1178.13M621.81,1179.20V1174.82M622.80,1179.20V1177.58M623.58,1179.20V1177.61M624.56,1179.20V1178.30M625.49,1179.20V1178.39M626.42,1179.20V1178.11M627.19,1179.20V1175.63M628.06,1179.20V1176.84M629.06,1179.20V1177.42M629.90,1179.20V1176.22M630.81,1179.20V1177.64M631.94,1179.20V1177.58M633.12,1179.20V1177.50M634.24,1179.20V1178.17M635.33,1179.20V1175.40M636.07,1179.20V1177.94M637.07,1179.20V1178.05M638.04,1179.20V1176.62M638.88,1179.20V1178.18M639.65,1179.20V1174.61M640.42,1179.20V1177.51M641.55,1179.20V1170.73M642.40,1179.20V1178.35M643.35,1179.20V1178.39M644.29,1179.20V1177.60M645.06,1179.20V1178.12M645.83,1179.20V1178.18M646.96,1179.20V1178.31M648.08,1179.20V1177.66M649.18,1179.20V1178.34M650.34,1179.20V1177.90M651.41,1179.20V1178.37M652.43,1179.20V1178.08M653.47,1179.20V1178.22M654.28,1179.20V1174.30M655.32,1179.20V1177.72M656.45,1179.20V1177.34M657.45,1179.20V1177.04M658.41,1179.20V1178.17M659.23,1179.20V1178.40M660.35,1179.20V1177.51M661.31,1179.20V1176.65M662.24,1179.20V1176.98M663.37,1179.20V1176.95M664.40,1179.20V1178.31M665.26,1179.20V1178.09M666.12,1179.20V1170.00M667.01,1179.20V1175.99M667.79,1179.20V1176.42M668.68,1179.20V1174.20M669.55,1179.20V1178.09M670.46,1179.20V1178.10M671.52,1179.20V1173.91M672.59,1179.20V1178.26M673.31,1179.20V1178.24M674.11,1179.20V1177.95M675.13,1179.20V1178.03M676.17,1179.20V1178.12M677.28,1179.20V1175.59M678.13,1179.20V1177.79M678.91,1179.20V1171.60M679.89,1179.20V1178.36M680.80,1179.20V1175.64M681.79,1179.20V1178.24M682.86,1179.20V1175.05M683.66,1179.20V1178.21M684.63,1179.20V1178.34M685.43,1179.20V1173.35M686.28,1179.20V1175.92M687.05,1179.20V1177.44M687.81,1179.20V1177.31M688.91,1179.20V1178.11M689.67,1179.20V1177.50M690.74,1179.20V1178.24M691.55,1179.20V1174.60M692.34,1179.20V1177.49M693.27,1179.20V1177.81M694.33,1179.20V1177.59M695.06,1179.20V1176.36M695.78,1179.20V1174.75M696.66,1179.20V1176.94M697.81,1179.20V1177.67M698.89,1179.20V1177.93M699.86,1179.20V1178.03M700.76,1179.20V1178.23M701.83,1179.20V1176.88M702.95,1179.20V1178.31M704.01,1179.20V1177.34M704.80,1179.20V1171.92M705.83,1179.20V1178.10M706.81,1179.20V1177.36M707.84,1179.20V1175.58M708.91,1179.20V1178.11M709.90,1179.20V1177.76M710.65,1179.20V1175.96M711.68,1179.20V1178.19M712.76,1179.20V1176.35M713.51,1179.20V1177.36M714.52,1179.20V1177.87M715.43,1179.20V1176.19M716.18,1179.20V1176.97M716.95,1179.20V1173.94M717.83,1179.20V1178.24M718.64,1179.20V1177.31M719.80,1179.20V1176.76M720.72,1179.20V1177.65M721.63,1179.20V1178.38M722.72,1179.20V1178.31M723.69,1179.20V1177.88M724.45,1179.20V1177.61M725.21,1179.20V1177.94M726.39,1179.20V1178.37M727.14,1179.20V1176.80M728.22,1179.20V1178.32M729.11,1179.20V1170.83M730.11,1179.20V1178.19M731.07,1179.20V1177.45M731.82,1179.20V1177.31M732.73,1179.20V1176.99M733.83,1179.20V1177.47M734.88,1179.20V1177.95M735.60,1179.20V1178.25M736.48,1179.20V1177.46M737.60,1179.20V1178.21M738.77,1179.20V1176.49M739.93,1179.20V1177.21M740.66,1179.20V1175.36M741.74,1179.20V1178.29M742.70,1179.20V1176.54M743.50,1179.20V1176.72M744.33,1179.20V1174.97M745.36,1179.20V1177.99M746.30,1179.20V1178.31M747.14,1179.20V1178.02M748.03,1179.20V1174.23M749.16,1179.20V1173.86M750.09,1179.20V1177.84M750.95,1179.20V1177.17M751.97,1179.20V1178.11M752.94,1179.20V1170.32M753.82,1179.20V1172.09M754.78,1179.20V1177.82M755.87,1179.20V1177.07M757.02,1179.20V1176.45M757.99,1179.20V1178.30M758.73,1179.20V1178.00M759.63,1179.20V1178.30M760.37,1179.20V1177.75M761.18,1179.20V1176.37M761.90,1179.20V1175.89M762.85,1179.20V1178.02M763.73,1179.20V1177.88M764.91,1179.20V1177.57M766.01,1179.20V1177.29M766.96,1179.20V1177.10M767.78,1179.20V1178.39M768.70,1179.20V1172.17M769.61,1179.20V1177.92M770.68,1179.20V1177.89M771.81,1179.20V1178.37M772.75,1179.20V1174.33M773.59,1179.20V1177.30M774.74,1179.20V1178.39M775.60,1179.20V1177.08M776.63,1179.20V1174.04M777.73,1179.20V1178.36M778.54,1179.20V1178.31M779.61,1179.20V1177.80M780.45,1179.20V1178.26M781.53,1179.20V1177.12M782.70,1179.20V1178.24M783.51,1179.20V1176.42M784.46,1179.20V1177.36M785.33,1179.20V1176.19M786.06,1179.20V1177.93M787.13,1179.20V1177.27M788.16,1179.20V1172.00M789.16,1179.20V1171.07M790.03,1179.20V1178.18M790.77,1179.20V1173.26M791.80,1179.20V1172.45M792.87,1179.20V1177.77M793.62,1179.20V1177.45M794.39,1179.20V1177.83M795.22,1179.20V1174.22M796.29,1179.20V1177.21M797.22,1179.20V1178.00M798.30,1179.20V1176.89M799.35,1179.20V1178.23M800.39,1179.20V1177.35M801.57,1179.20V1177.51M802.65,1179.20V1177.69M803.79,1179.20V1178.18M804.69,1179.20V1178.11M805.54,1179.20V1178.33M806.59,1179.20V1177.94M807.71,1179.20V1178.39M808.43,1179.20V1178.09M809.25,1179.20V1178.11M809.98,1179.20V1174.79M810.73,1179.20V1177.99M811.70,1179.20V1176.38M812.86,1179.20V1177.14M813.62,1179.20V1177.73M814.77,1179.20V1176.68M815.84,1179.20V1178.21M816.93,1179.20V1178.38M817.91,1179.20V1177.91M818.91,1179.20V1177.89M819.95,1179.20V1177.50M820.91,1179.20V1177.67M821.75,1179.20V1178.27M822.77,1179.20V1178.22M823.73,1179.20V1177.90M824.45,1179.20V1177.86M825.21,1179.20V1174.10M826.14,1179.20V1178.39M827.01,1179.20V1178.00M827.95,1179.20V1178.05M828.99,1179.20V1177.60M830.00,1179.20V1178.30M830.94,1179.20V1176.83M831.82,1179.20V1177.67M832.84,1179.20V1178.39M833.77,1179.20V1178.17M834.66,1179.20V1178.11M835.67,1179.20V1178.38M836.82,1179.20V1178.27M837.81,1179.20V1177.89M838.99,1179.20V1178.35M839.78,1179.20V1178.17M840.82,1179.20V1177.57M841.54,1179.20V1178.35M842.32,1179.20V1178.18M843.37,1179.20V1174.65M844.29,1179.20V1178.00M845.29,1179.20V1176.03M846.07,1179.20V1178.20M847.11,1179.20V1177.85M848.12,1179.20V1178.37M849.21,1179.20V1178.25M850.27,1179.20V1171.98M851.15,1179.20V1177.96M852.33,1179.20V1178.23M853.51,1179.20V1178.19M854.37,1179.20V1176.98M855.31,1179.20V1177.66M856.22,1179.20V1176.62M857.29,1179.20V1177.06M858.44,1179.20V1177.22M859.34,1179.20V1178.40M860.22,1179.20V1178.40M861.08,1179.20V1177.37M861.96,1179.20V1176.72M862.99,1179.20V1178.14M864.10,1179.20V1177.85M865.08,1179.20V1177.77M866.02,1179.20V1177.67M867.08,1179.20V1177.95M867.97,1179.20V1177.97M869.11,1179.20V1175.30M870.01,1179.20V1178.23M871.01,1179.20V1178.39M872.16,1179.20V1178.33M873.14,1179.20V1171.98M874.20,1179.20V1177.86M874.97,1179.20V1176.28M876.02,1179.20V1178.31M876.98,1179.20V1178.23M877.91,1179.20V1174.07M879.08,1179.20V1177.48M880.16,1179.20V1177.87M881.14,1179.20V1177.88M882.18,1179.20V1177.89M883.12,1179.20V1177.27M883.97,1179.20V1178.39M884.93,1179.20V1177.26M886.07,1179.20V1177.86M886.96,1179.20V1176.97M887.85,1179.20V1178.19M888.72,1179.20V1177.82M889.47,1179.20V1173.41M890.44,1179.20V1178.00M891.52,1179.20V1177.60M892.47,1179.20V1178.30M893.59,1179.20V1178.00M894.60,1179.20V1178.32M895.49,1179.20V1178.07M896.46,1179.20V1178.25M897.52,1179.20V1177.91M898.59,1179.20V1178.22M899.70,1179.20V1177.52M900.74,1179.20V1177.52M901.46,1179.20V1174.59M902.36,1179.20V1175.78M903.36,1179.20V1178.39M904.27,1179.20V1177.46M905.04,1179.20V1177.68M905.87,1179.20V1178.39M906.71,1179.20V1177.57M907.51,1179.20V1178.27M908.52,1179.20V1177.92M909.31,1179.20V1178.35M910.36,1179.20V1178.34M911.39,1179.20V1178.33M912.43,1179.20V1178.33M913.17,1179.20V1178.36M914.30,1179.20V1175.76M915.32,1179.20V1178.06M916.34,1179.20V1178.14M917.45,1179.20V1178.26M918.49,1179.20V1177.12M919.40,1179.20V1178.20M920.29,1179.20V1177.80M921.22,1179.20V1178.03M922.30,1179.20V1178.35M923.11,1179.20V1177.26M923.92,1179.20V1178.30M924.79,1179.20V1175.94M925.88,1179.20V1178.21M926.69,1179.20V1177.72M927.44,1179.20V1178.21M928.56,1179.20V1178.26M929.30,1179.20V1177.95M930.39,1179.20V1176.99M931.23,1179.20V1178.08M931.96,1179.20V1175.36M932.91,1179.20V1178.23M933.88,1179.20V1177.83M934.64,1179.20V1177.95M935.73,1179.20V1177.82M936.86,1179.20V1178.25M937.85,1179.20V1177.74M938.90,1179.20V1177.74M939.85,1179.20V1177.54M940.57,1179.20V1177.76M941.36,1179.20V1176.28M942.42,1179.20V1176.92M943.57,1179.20V1178.38M944.36,1179.20V1178.01M945.09,1179.20V1178.34M946.06,1179.20V1178.17M946.77,1179.20V1178.11M947.53,1179.20V1178.38M948.43,1179.20V1178.33M949.22,1179.20V1176.94M950.09,1179.20V1178.32M950.84,1179.20V1177.25M951.78,1179.20V1177.55M952.84,1179.20V1175.79M953.95,1179.20V1178.18M955.07,1179.20V1178.22M955.80,1179.20V1178.31M956.95,1179.20V1178.26M958.13,1179.20V1177.95M958.89,1179.20V1178.22M960.05,1179.20V1177.80M960.89,1179.20V1178.35M961.64,1179.20V1176.69M962.49,1179.20V1177.71M963.67,1179.20V1177.50M964.82,1179.20V1177.88M965.88,1179.20V1177.99M966.92,1179.20V1177.85M967.68,1179.20V1178.37M968.44,1179.20V1177.68M969.63,1179.20V1177.89M970.43,1179.20V1177.79M971.55,1179.20V1177.54M972.27,1179.20V1177.20M973.29,1179.20V1176.61M974.30,1179.20V1177.74M975.46,1179.20V1177.98M976.25,1179.20V1178.01M977.41,1179.20V1178.27M978.36,1179.20V1177.32M979.50,1179.20V1176.99M980.66,1179.20V1176.03M981.63,1179.20V1178.38M982.66,1179.20V1178.26M983.53,1179.20V1177.86M984.64,1179.20V1177.87M985.61,1179.20V1173.74M986.61,1179.20V1178.31M987.35,1179.20V1178.26M988.15,1179.20V1176.86M988.94,1179.20V1175.77M989.97,1179.20V1173.97" stroke="#1c1c1c" stroke-width="1.0" fill="none"/>
<path d="M217.50,1178.70L217.50,1178.40L218.30,1176.53L219.10,1175.27L219.90,1176.04L220.70,1173.79L221.50,1170.53L222.30,1172.39L223.10,1174.61L223.90,1174.31L224.70,1176.46L225.50,1176.80L226.30,1178.20L226.50,1178.70ZM243.10,1178.70L243.10,1178.40L243.90,1177.55L244.70,1175.05L245.50,1176.20L246.30,1173.08L247.10,1171.68L247.90,1174.00L248.70,1172.77L249.50,1174.38L250.30,1175.45L251.10,1177.37L251.90,1178.11L252.10,1178.70ZM290.90,1178.70L290.90,1178.40L291.70,1176.91L292.50,1176.39L293.30,1175.04L294.10,1171.11L294.90,1174.60L295.70,1171.54L296.50,1172.66L297.30,1174.36L298.10,1176.84L298.90,1177.36L299.70,1177.96L299.90,1178.70ZM330.80,1178.70L330.80,1178.40L331.60,1177.32L332.40,1175.82L333.20,1176.09L334.00,1175.17L334.80,1169.49L335.60,1169.52L336.40,1174.33L337.20,1174.77L338.00,1176.60L338.80,1177.00L339.60,1178.05L339.80,1178.70ZM338.40,1178.70L338.40,1178.40L339.20,1177.31L340.00,1175.50L340.80,1173.58L341.60,1173.78L342.40,1175.36L343.20,1174.71L344.00,1173.02L344.80,1176.13L345.60,1175.02L346.40,1177.63L347.20,1178.24L347.40,1178.70ZM344.70,1178.70L344.70,1178.40L345.50,1176.49L346.30,1173.98L347.10,1171.52L347.90,1173.09L348.70,1169.56L349.50,1168.77L350.30,1167.43L351.10,1169.72L351.90,1172.79L352.70,1176.58L353.50,1177.89L353.70,1178.70ZM369.10,1178.70L369.10,1178.40L369.90,1176.96L370.70,1174.81L371.50,1171.40L372.30,1165.99L373.10,1172.70L373.90,1165.35L374.70,1169.81L375.50,1171.38L376.30,1172.13L377.10,1176.80L377.90,1177.83L378.10,1178.70ZM370.20,1178.70L370.20,1178.40L371.00,1177.32L371.80,1176.32L372.60,1176.02L373.40,1176.10L374.20,1172.98L375.00,1172.99L375.80,1174.50L376.60,1174.93L377.40,1175.62L378.20,1177.59L379.00,1178.14L379.20,1178.70ZM373.70,1178.70L373.70,1178.40L374.50,1177.55L375.30,1175.36L376.10,1175.71L376.90,1172.10L377.70,1172.49L378.50,1170.04L379.30,1172.03L380.10,1173.88L380.90,1176.24L381.70,1177.09L382.50,1178.10L382.70,1178.70ZM378.70,1178.70L378.70,1178.40L379.50,1177.07L380.30,1174.39L381.10,1175.24L381.90,1172.49L382.70,1173.63L383.50,1173.20L384.30,1173.48L385.10,1175.74L385.90,1174.92L386.70,1176.38L387.50,1178.07L387.70,1178.70ZM393.70,1178.70L393.70,1178.40L394.50,1177.55L395.30,1176.48L396.10,1176.93L396.90,1175.67L397.70,1176.20L398.50,1175.52L399.30,1173.76L400.10,1176.68L400.90,1176.39L401.70,1177.50L402.50,1178.16L402.70,1178.70ZM400.10,1178.70L400.10,1178.40L400.90,1177.44L401.70,1176.29L402.50,1175.23L403.30,1175.77L404.10,1173.04L404.90,1173.60L405.70,1175.96L406.50,1176.42L407.30,1176.72L408.10,1177.18L408.90,1178.29L409.10,1178.70ZM405.40,1178.70L405.40,1178.40L406.20,1176.14L407.00,1174.17L407.80,1173.10L408.60,1171.53L409.40,1169.58L410.20,1166.10L411.00,1170.61L411.80,1170.80L412.60,1172.46L413.40,1176.94L414.20,1178.14L414.40,1178.70ZM420.40,1178.70L420.40,1178.40L421.20,1177.95L422.00,1176.72L422.80,1176.65L423.60,1176.51L424.40,1176.69L425.20,1175.26L426.00,1175.40L426.80,1177.21L427.60,1177.63L428.40,1177.76L429.20,1178.18L429.40,1178.70ZM431.00,1178.70L431.00,1178.40L431.80,1176.79L432.60,1174.59L433.40,1172.61L434.20,1168.31L435.00,1170.07L435.80,1168.91L436.60,1169.44L437.40,1173.30L438.20,1174.00L439.00,1175.15L439.80,1177.87L440.00,1178.70ZM432.10,1178.70L432.10,1178.40L432.90,1177.91L433.70,1177.17L434.50,1177.12L435.30,1176.35L436.10,1175.35L436.90,1175.77L437.70,1176.70L438.50,1175.85L439.30,1177.65L440.10,1177.40L440.90,1178.31L441.10,1178.70ZM435.90,1178.70L435.90,1178.40L436.70,1177.51L437.50,1176.84L438.30,1175.53L439.10,1173.72L439.90,1174.87L440.70,1175.81L441.50,1175.82L442.30,1174.61L443.10,1176.29L443.90,1177.07L444.70,1178.21L444.90,1178.70ZM450.00,1178.70L450.00,1178.40L450.80,1177.72L451.60,1177.17L452.40,1175.98L453.20,1176.85L454.00,1175.95L454.80,1174.82L455.60,1174.99L456.40,1176.59L457.20,1176.75L458.00,1177.95L458.80,1178.24L459.00,1178.70ZM453.00,1178.70L453.00,1178.40L453.80,1177.67L454.60,1177.41L455.40,1177.11L456.20,1176.49L457.00,1174.67L457.80,1174.51L458.60,1174.75L459.40,1176.57L460.20,1177.60L461.00,1177.40L461.80,1178.28L462.00,1178.70ZM454.30,1178.70L454.30,1178.40L455.10,1177.72L455.90,1177.09L456.70,1177.26L457.50,1176.36L458.30,1174.12L459.10,1174.91L459.90,1174.38L460.70,1175.49L461.50,1176.79L462.30,1177.13L463.10,1178.31L463.30,1178.70ZM455.50,1178.70L455.50,1178.40L456.30,1177.21L457.10,1177.09L457.90,1173.71L458.70,1175.35L459.50,1172.19L460.30,1173.69L461.10,1174.06L461.90,1174.78L462.70,1176.33L463.50,1177.42L464.30,1178.07L464.50,1178.70ZM456.50,1178.70L456.50,1178.40L457.30,1177.15L458.10,1172.29L458.90,1174.49L459.70,1172.24L460.50,1170.11L461.30,1168.81L462.10,1169.56L462.90,1168.93L463.70,1175.49L464.50,1175.59L465.30,1177.81L465.50,1178.70ZM457.60,1178.70L457.60,1178.40L458.40,1176.59L459.20,1174.42L460.00,1169.75L460.80,1167.76L461.60,1168.10L462.40,1171.95L463.20,1170.70L464.00,1169.49L464.80,1173.97L465.60,1176.05L466.40,1177.80L466.60,1178.70ZM458.70,1178.70L458.70,1178.40L459.50,1176.65L460.30,1174.78L461.10,1175.51L461.90,1172.75L462.70,1168.09L463.50,1172.18L464.30,1171.68L465.10,1174.15L465.90,1174.77L466.70,1176.68L467.50,1178.07L467.70,1178.70ZM459.70,1178.70L459.70,1178.40L460.50,1177.49L461.30,1176.13L462.10,1176.46L462.90,1175.43L463.70,1175.06L464.50,1172.94L465.30,1175.55L466.10,1175.47L466.90,1177.21L467.70,1177.40L468.50,1178.25L468.70,1178.70ZM477.30,1178.70L477.30,1178.40L478.10,1176.75L478.90,1172.97L479.70,1172.36L480.50,1171.99L481.30,1168.48L482.10,1164.35L482.90,1168.86L483.70,1170.33L484.50,1173.87L485.30,1175.77L486.10,1178.09L486.30,1178.70ZM478.40,1178.70L478.40,1178.40L479.20,1177.06L480.00,1175.70L480.80,1175.53L481.60,1172.48L482.40,1172.34L483.20,1173.27L484.00,1171.00L484.80,1173.56L485.60,1175.29L486.40,1176.44L487.20,1178.05L487.40,1178.70ZM502.90,1178.70L502.90,1178.40L503.70,1177.50L504.50,1176.66L505.30,1176.22L506.10,1176.06L506.90,1175.28L507.70,1176.56L508.50,1174.75L509.30,1175.73L510.10,1176.87L510.90,1177.65L511.70,1178.20L511.90,1178.70ZM529.60,1178.70L529.60,1178.40L530.40,1177.79L531.20,1177.38L532.00,1176.17L532.80,1176.09L533.60,1174.69L534.40,1173.52L535.20,1175.79L536.00,1177.03L536.80,1177.60L537.60,1177.29L538.40,1178.24L538.60,1178.70ZM540.20,1178.70L540.20,1178.40L541.00,1177.25L541.80,1175.81L542.60,1175.13L543.40,1166.80L544.20,1172.48L545.00,1169.27L545.80,1169.71L546.60,1171.09L547.40,1174.94L548.20,1175.41L549.00,1177.80L549.20,1178.70ZM564.50,1178.70L564.50,1178.40L565.30,1177.41L566.10,1175.79L566.90,1175.39L567.70,1173.23L568.50,1172.53L569.30,1173.73L570.10,1169.46L570.90,1174.27L571.70,1173.89L572.50,1175.76L573.30,1177.88L573.50,1178.70ZM603.20,1178.70L603.20,1178.40L604.00,1176.12L604.80,1172.78L605.60,1171.30L606.40,1169.16L607.20,1168.65L608.00,1163.95L608.80,1169.19L609.60,1172.55L610.40,1173.69L611.20,1175.85L612.00,1178.03L612.20,1178.70Z" fill="#1c1c1c" stroke="none"/>
<path d="M90.00,1179.20V1167.90M91.00,1179.20V1173.40M97.90,1179.20V1170.90M107.60,1179.20V1143.90M108.60,1179.20V1172.40M124.20,1179.20V1168.90M146.00,1179.20V1170.40M148.00,1179.20V1168.40M149.20,1179.20V1164.90M150.20,1179.20V1169.40M152.00,1179.20V1171.90M160.00,1179.20V1140.90M161.00,1179.20V1164.40M162.00,1179.20V1170.90M168.20,1179.20V1022.40M169.20,1179.20V1138.40M170.20,1179.20V1168.40M176.00,1179.20V1171.40M186.00,1179.20V1171.90M212.10,1179.20V1164.90M213.10,1179.20V1172.40M222.00,1179.20V1109.90M223.00,1179.20V1160.40M224.00,1179.20V1161.40M226.50,1179.20V1168.40M228.00,1179.20V1162.40M230.00,1179.20V1165.40M232.00,1179.20V1166.40M234.50,1179.20V1168.40M236.00,1179.20V1167.40M238.00,1179.20V1159.40M240.00,1179.20V1170.40M247.60,1179.20V1116.90M248.60,1179.20V1167.40M254.00,1179.20V1163.40M256.00,1179.20V1157.40M262.00,1179.20V1168.40M264.00,1179.20V1166.40M271.50,1179.20V1159.40M274.00,1179.20V1171.40M281.00,1179.20V1165.40M283.80,1179.20V1156.40M284.80,1179.20V1169.40M290.00,1179.20V1167.40M295.40,1179.20V1108.90M296.40,1179.20V1163.40M300.00,1179.20V1170.40M305.00,1179.20V1167.40M309.00,1179.20V1161.40M311.00,1179.20V1167.40M314.00,1179.20V1158.40M318.00,1179.20V1168.40M322.00,1179.20V1159.40M325.00,1179.20V1166.40M329.00,1179.20V1167.40M331.00,1179.20V1161.40M333.00,1179.20V1163.40M335.30,1179.20V1107.90M336.30,1179.20V1155.40M338.00,1179.20V1165.40M340.00,1179.20V1162.40M342.90,1179.20V1121.90M343.90,1179.20V1154.40M346.00,1179.20V1165.40M349.20,1179.20V1021.90M350.20,1179.20V1156.40M351.50,1179.20V1168.40M356.00,1179.20V1167.40M360.00,1179.20V1168.40M363.00,1179.20V1158.40M366.00,1179.20V1168.40M369.00,1179.20V1169.40M373.60,1179.20V678.40M374.70,1179.20V1133.40M375.80,1179.20V1160.90M378.20,1179.20V1121.40M379.30,1179.20V1151.40M381.00,1179.20V1164.40M383.20,1179.20V1102.90M384.30,1179.20V1161.40M387.00,1179.20V1166.40M390.00,1179.20V1167.40M393.00,1179.20V1158.40M395.00,1179.20V1166.40M398.20,1179.20V1135.90M399.20,1179.20V1164.40M402.00,1179.20V1167.40M404.60,1179.20V1140.40M405.60,1179.20V1166.40M409.90,1179.20V1077.40M411.00,1179.20V1160.40M414.00,1179.20V1167.40M417.00,1179.20V1164.40M420.00,1179.20V1166.40M422.00,1179.20V1163.40M424.90,1179.20V1144.90M426.00,1179.20V1165.40M429.00,1179.20V1166.40M432.00,1179.20V1163.40M433.50,1179.20V1155.40M435.50,1179.20V993.40M436.60,1179.20V1148.40M437.70,1179.20V1153.40M439.00,1179.20V1151.40M440.40,1179.20V1133.90M441.50,1179.20V1150.40M443.00,1179.20V1156.40M445.00,1179.20V1153.40M447.00,1179.20V1151.40M449.00,1179.20V1155.40M451.00,1179.20V1152.40M453.00,1179.20V1157.40M454.50,1179.20V1148.40M456.00,1179.20V1153.40M457.50,1179.20V1146.40M458.80,1179.20V1142.40M460.00,1179.20V1118.40M461.00,1179.20V993.40M462.10,1179.20V1043.40M463.20,1179.20V1098.40M464.20,1179.20V1138.40M465.30,1179.20V1158.40M468.00,1179.20V1155.40M470.00,1179.20V1168.40M481.80,1179.20V1079.90M482.90,1179.20V1116.90M484.00,1179.20V1163.40M487.00,1179.20V1170.40M490.00,1179.20V1165.40M492.00,1179.20V1167.40M496.00,1179.20V1164.40M498.00,1179.20V1168.40M503.00,1179.20V1169.40M507.40,1179.20V1145.90M508.50,1179.20V1162.40M512.00,1179.20V1169.40M516.00,1179.20V1168.40M530.00,1179.20V1168.40M533.00,1179.20V1163.40M534.10,1179.20V1143.40M535.20,1179.20V1160.40M536.50,1179.20V1157.40M539.00,1179.20V1170.40M544.70,1179.20V1000.90M545.80,1179.20V1166.40M548.00,1179.20V1170.40M552.00,1179.20V1170.40M556.00,1179.20V1169.40M559.00,1179.20V1161.40M560.50,1179.20V1167.40M563.00,1179.20V1168.40M566.00,1179.20V1166.40M569.00,1179.20V1093.90M570.10,1179.20V1158.40M571.50,1179.20V1163.40M573.00,1179.20V1165.40M576.00,1179.20V1163.40M580.00,1179.20V1170.40M585.00,1179.20V1171.40M589.00,1179.20V1169.40M596.40,1179.20V1160.40M597.50,1179.20V1154.40M598.60,1179.20V1163.40M601.00,1179.20V1170.40M605.00,1179.20V1168.40M607.70,1179.20V1045.40M608.80,1179.20V1165.40M610.00,1179.20V1170.40M615.30,1179.20V1169.90M618.00,1179.20V1172.40M623.00,1179.20V1171.90M630.00,1179.20V1172.40M640.00,1179.20V1171.40M648.00,1179.20V1171.90M655.00,1179.20V1172.90M663.00,1179.20V1173.40M675.00,1179.20V1171.90M685.80,1179.20V1154.90M686.90,1179.20V1171.40M695.80,1179.20V1053.90M696.90,1179.20V1165.40M698.00,1179.20V1171.40M704.00,1179.20V1173.40M710.60,1179.20V1162.40M711.70,1179.20V1166.40M712.80,1179.20V1171.40M719.00,1179.20V1170.40M721.20,1179.20V1131.40M722.30,1179.20V1164.40M735.00,1179.20V1173.90M744.00,1179.20V1173.90M757.00,1179.20V1172.40M759.00,1179.20V1170.90M763.80,1179.20V1149.40M764.90,1179.20V1136.40M766.00,1179.20V1168.40M773.40,1179.20V1074.90M774.50,1179.20V1095.40M775.60,1179.20V1150.40M776.80,1179.20V1169.40M782.00,1179.20V1109.40M783.10,1179.20V1140.40M784.20,1179.20V1153.40M785.30,1179.20V1170.40M790.00,1179.20V1173.90M800.00,1179.20V1174.40M812.00,1179.20V1174.40M823.00,1179.20V1171.40M824.80,1179.20V1166.40M825.90,1179.20V1170.40M827.00,1179.20V1173.90M835.40,1179.20V1122.40M836.50,1179.20V1153.40M837.60,1179.20V1172.40M842.50,1179.20V1168.40M843.60,1179.20V1172.40M851.60,1179.20V1170.40M852.70,1179.20V1162.40M853.80,1179.20V1169.40M872.00,1179.20V1174.40M885.00,1179.20V1172.90M893.00,1179.20V1173.40M894.90,1179.20V1168.90M896.00,1179.20V1170.90M904.20,1179.20V1119.90M905.30,1179.20V1129.90M906.40,1179.20V1166.40M907.50,1179.20V1173.40M915.00,1179.20V1174.90M926.00,1179.20V1172.90M927.00,1179.20V1174.90M935.00,1179.20V1156.40M936.10,1179.20V1172.40M944.00,1179.20V1174.90M967.00,1179.20V1175.40M975.00,1179.20V1175.90" stroke="#1c1c1c" stroke-width="1.2" fill="none"/>
<text xml:space="preserve" x="357.00" y="651.70" font-size="10" fill="#3a3aa8" stroke="#3a3aa8" stroke-width="0" text-anchor="start" letter-spacing="0" font-weight="normal"  textLength="33" lengthAdjust="spacingAndGlyphs">L: 1.98</text>
<text xml:space="preserve" x="357.00" y="663.00" font-size="10" fill="#3a3aa8" stroke="#3a3aa8" stroke-width="0" text-anchor="start" letter-spacing="0" font-weight="normal"  textLength="9.5" lengthAdjust="spacingAndGlyphs">0]</text>
<text xml:space="preserve" x="14.00" y="650.00" font-size="10" fill="#3a3aa8" stroke="#3a3aa8" stroke-width="0.18" text-anchor="start" letter-spacing="0" font-weight="normal" >H</text>
<text xml:space="preserve" x="14.50" y="662.00" font-size="10" fill="#555" stroke="#555" stroke-width="0.18" text-anchor="start" letter-spacing="0" font-weight="normal" >T</text>
<text xml:space="preserve" x="373.00" y="675.20" font-size="10.8" fill="#2a2a2a" stroke="#2a2a2a" stroke-width="0.12" text-anchor="middle" letter-spacing="0" font-weight="normal"  textLength="30.8" lengthAdjust="spacingAndGlyphs">853.5</text>
<text xml:space="preserve" x="168.00" y="1018.75" font-size="10.8" fill="#2a2a2a" stroke="#2a2a2a" stroke-width="0.12" text-anchor="middle" letter-spacing="0" font-weight="normal"  textLength="30.8" lengthAdjust="spacingAndGlyphs">473.4</text>
<text xml:space="preserve" x="221.25" y="1106.40" font-size="10.8" fill="#2a2a2a" stroke="#2a2a2a" stroke-width="0.12" text-anchor="middle" letter-spacing="0" font-weight="normal"  textLength="30.8" lengthAdjust="spacingAndGlyphs">572.4</text>
<text xml:space="preserve" x="107.25" y="1140.00" font-size="10.8" fill="#2a2a2a" stroke="#2a2a2a" stroke-width="0.12" text-anchor="middle" letter-spacing="0" font-weight="normal"  textLength="30.8" lengthAdjust="spacingAndGlyphs">360.4</text>
<text xml:space="preserve" x="86.50" y="1165.50" font-size="10.8" fill="#2a2a2a" stroke="#2a2a2a" stroke-width="0.12" text-anchor="middle" letter-spacing="0" font-weight="normal"  textLength="30.8" lengthAdjust="spacingAndGlyphs">328.1</text>
<text xml:space="preserve" x="147.00" y="1138.00" font-size="10.8" fill="#2a2a2a" stroke="#2a2a2a" stroke-width="0.12" text-anchor="middle" letter-spacing="0" font-weight="normal"  textLength="30.8" lengthAdjust="spacingAndGlyphs">457.3</text>
<text xml:space="preserve" x="187.25" y="1136.25" font-size="10.8" fill="#2a2a2a" stroke="#2a2a2a" stroke-width="0.12" text-anchor="middle" letter-spacing="0" font-weight="normal"  textLength="30.8" lengthAdjust="spacingAndGlyphs">474.3</text>
<text xml:space="preserve" x="136.90" y="1161.25" font-size="10.8" fill="#2a2a2a" stroke="#2a2a2a" stroke-width="0.12" text-anchor="middle" letter-spacing="0" font-weight="normal"  textLength="30.8" lengthAdjust="spacingAndGlyphs">438.2</text>
<text xml:space="preserve" x="199.75" y="1162.00" font-size="10.8" fill="#2a2a2a" stroke="#2a2a2a" stroke-width="0.12" text-anchor="middle" letter-spacing="0" font-weight="normal"  textLength="30.8" lengthAdjust="spacingAndGlyphs">555.5</text>
<text xml:space="preserve" x="285.70" y="1106.70" font-size="10.8" fill="#2a2a2a" stroke="#2a2a2a" stroke-width="0.12" text-anchor="middle" letter-spacing="0" font-weight="normal"  textLength="30.8" lengthAdjust="spacingAndGlyphs">709.5</text>
<text xml:space="preserve" x="325.90" y="1105.90" font-size="10.8" fill="#2a2a2a" stroke="#2a2a2a" stroke-width="0.12" text-anchor="middle" letter-spacing="0" font-weight="normal"  textLength="30.8" lengthAdjust="spacingAndGlyphs">783.3</text>
<text xml:space="preserve" x="348.70" y="1019.60" font-size="10.8" fill="#2a2a2a" stroke="#2a2a2a" stroke-width="0.12" text-anchor="middle" letter-spacing="0" font-weight="normal"  textLength="30.8" lengthAdjust="spacingAndGlyphs">807.7</text>
<text xml:space="preserve" x="392.50" y="992.50" font-size="10.8" fill="#2a2a2a" stroke="#2a2a2a" stroke-width="0.12" text-anchor="middle" letter-spacing="0" font-weight="normal"  textLength="30.8" lengthAdjust="spacingAndGlyphs">854.5</text>
<text xml:space="preserve" x="409.60" y="1073.50" font-size="10.8" fill="#2a2a2a" stroke="#2a2a2a" stroke-width="0.12" text-anchor="middle" letter-spacing="0" font-weight="normal"  textLength="30.8" lengthAdjust="spacingAndGlyphs">921.6</text>
<text xml:space="preserve" x="435.20" y="989.50" font-size="10.8" fill="#2a2a2a" stroke="#2a2a2a" stroke-width="0.12" text-anchor="middle" letter-spacing="0" font-weight="normal"  textLength="30.8" lengthAdjust="spacingAndGlyphs">968.5</text>
<text xml:space="preserve" x="274.20" y="1152.40" font-size="10.8" fill="#2a2a2a" stroke="#2a2a2a" stroke-width="0.12" text-anchor="middle" letter-spacing="0" font-weight="normal"  textLength="30.8" lengthAdjust="spacingAndGlyphs">688.2</text>
<text xml:space="preserve" x="314.80" y="1148.30" font-size="10.8" fill="#2a2a2a" stroke="#2a2a2a" stroke-width="0.12" text-anchor="middle" letter-spacing="0" font-weight="normal"  textLength="30.8" lengthAdjust="spacingAndGlyphs">710.5</text>
<text xml:space="preserve" x="480.10" y="991.70" font-size="10.8" fill="#2a2a2a" stroke="#2a2a2a" stroke-width="0.12" text-anchor="middle" letter-spacing="0" font-weight="normal"  textLength="37.8" lengthAdjust="spacingAndGlyphs">1017.7</text>
<text xml:space="preserve" x="544.60" y="998.60" font-size="10.8" fill="#2a2a2a" stroke="#2a2a2a" stroke-width="0.12" text-anchor="middle" letter-spacing="0" font-weight="normal"  textLength="37.8" lengthAdjust="spacingAndGlyphs">1170.6</text>
<text xml:space="preserve" x="484.80" y="1076.20" font-size="10.8" fill="#2a2a2a" stroke="#2a2a2a" stroke-width="0.12" text-anchor="middle" letter-spacing="0" font-weight="normal"  textLength="37.8" lengthAdjust="spacingAndGlyphs">1055.5</text>
<text xml:space="preserve" x="569.20" y="1092.00" font-size="10.8" fill="#2a2a2a" stroke="#2a2a2a" stroke-width="0.12" text-anchor="middle" letter-spacing="0" font-weight="normal"  textLength="37.8" lengthAdjust="spacingAndGlyphs">1217.3</text>
<text xml:space="preserve" x="518.20" y="1140.70" font-size="10.8" fill="#2a2a2a" stroke="#2a2a2a" stroke-width="0.12" text-anchor="middle" letter-spacing="0" font-weight="normal"  textLength="37.8" lengthAdjust="spacingAndGlyphs">1152.5</text>
<text xml:space="preserve" x="607.40" y="1041.70" font-size="10.8" fill="#2a2a2a" stroke="#2a2a2a" stroke-width="0.12" text-anchor="middle" letter-spacing="0" font-weight="normal"  textLength="37.8" lengthAdjust="spacingAndGlyphs">1287.6</text>
<text xml:space="preserve" x="634.30" y="1165.60" font-size="10.8" fill="#2a2a2a" stroke="#2a2a2a" stroke-width="0.12" text-anchor="middle" letter-spacing="0" font-weight="normal"  textLength="37.8" lengthAdjust="spacingAndGlyphs">1302.5</text>
<text xml:space="preserve" x="669.60" y="1151.60" font-size="10.8" fill="#2a2a2a" stroke="#2a2a2a" stroke-width="0.12" text-anchor="middle" letter-spacing="0" font-weight="normal"  textLength="37.8" lengthAdjust="spacingAndGlyphs">1432.7</text>
<text xml:space="preserve" x="695.20" y="1051.40" font-size="10.8" fill="#2a2a2a" stroke="#2a2a2a" stroke-width="0.12" text-anchor="middle" letter-spacing="0" font-weight="normal"  textLength="37.8" lengthAdjust="spacingAndGlyphs">1450.6</text>
<text xml:space="preserve" x="720.80" y="1127.50" font-size="10.8" fill="#2a2a2a" stroke="#2a2a2a" stroke-width="0.12" text-anchor="middle" letter-spacing="0" font-weight="normal"  textLength="37.8" lengthAdjust="spacingAndGlyphs">1498.6</text>
<text xml:space="preserve" x="773.50" y="1071.70" font-size="10.8" fill="#2a2a2a" stroke="#2a2a2a" stroke-width="0.12" text-anchor="middle" letter-spacing="0" font-weight="normal"  textLength="37.8" lengthAdjust="spacingAndGlyphs">1597.6</text>
<text xml:space="preserve" x="797.70" y="1106.70" font-size="10.8" fill="#2a2a2a" stroke="#2a2a2a" stroke-width="0.12" text-anchor="middle" letter-spacing="0" font-weight="normal"  textLength="37.8" lengthAdjust="spacingAndGlyphs">1613.7</text>
<text xml:space="preserve" x="835.20" y="1119.90" font-size="10.8" fill="#2a2a2a" stroke="#2a2a2a" stroke-width="0.12" text-anchor="middle" letter-spacing="0" font-weight="normal"  textLength="37.8" lengthAdjust="spacingAndGlyphs">1710.6</text>
<text xml:space="preserve" x="861.40" y="1160.00" font-size="10.8" fill="#2a2a2a" stroke="#2a2a2a" stroke-width="0.12" text-anchor="middle" letter-spacing="0" font-weight="normal"  textLength="37.8" lengthAdjust="spacingAndGlyphs">1742.8</text>
<text xml:space="preserve" x="809.70" y="1162.50" font-size="10.8" fill="#2a2a2a" stroke="#2a2a2a" stroke-width="0.12" text-anchor="middle" letter-spacing="0" font-weight="normal"  textLength="37.8" lengthAdjust="spacingAndGlyphs">1692.6</text>
<text xml:space="preserve" x="904.00" y="1115.75" font-size="10.8" fill="#2a2a2a" stroke="#2a2a2a" stroke-width="0.12" text-anchor="middle" letter-spacing="0" font-weight="normal"  textLength="37.8" lengthAdjust="spacingAndGlyphs">1838.7</text>
<text xml:space="preserve" x="934.75" y="1152.50" font-size="10.8" fill="#2a2a2a" stroke="#2a2a2a" stroke-width="0.12" text-anchor="middle" letter-spacing="0" font-weight="normal"  textLength="37.8" lengthAdjust="spacingAndGlyphs">1895.8</text>
<text xml:space="preserve" x="967.40" y="1172.50" font-size="10.8" fill="#2a2a2a" stroke="#2a2a2a" stroke-width="0.12" text-anchor="middle" letter-spacing="0" font-weight="normal"  textLength="37.8" lengthAdjust="spacingAndGlyphs">1956.3</text>
<path d="M148.0,1139.5 Q154.0,1139.5 160.0,1141.2" stroke="#55aa55" stroke-width="1" fill="none"/>
<path d="M170.0,1139.5 Q178.5,1139.5 187.0,1138.0" stroke="#55aa55" stroke-width="1" fill="none"/>
<path d="M137.0,1162.5 Q143.1,1162.5 149.2,1164.5" stroke="#55aa55" stroke-width="1" fill="none"/>
<path d="M200.0,1163.2 Q206.2,1163.2 212.5,1165.5" stroke="#55aa55" stroke-width="1" fill="none"/>
<path d="M285.0,1107.9 Q290.2,1107.9 295.4,1109.5" stroke="#55aa55" stroke-width="1" fill="none"/>
<path d="M325.6,1107.2 Q330.5,1107.2 335.3,1108.7" stroke="#55aa55" stroke-width="1" fill="none"/>
<path d="M373.9,995.5 Q383.4,995.5 392.9,993.2" stroke="#55aa55" stroke-width="1" fill="none"/>
<path d="M274.4,1153.5 Q279.1,1153.5 283.8,1156.3" stroke="#55aa55" stroke-width="1" fill="none"/>
<path d="M295.4,1150.9 Q305.0,1150.9 314.7,1149.5" stroke="#55aa55" stroke-width="1" fill="none"/>
<path d="M461.0,994.3 Q470.2,994.3 479.5,993.0" stroke="#55aa55" stroke-width="1" fill="none"/>
<path d="M518.8,1142.0 Q526.5,1142.0 534.1,1144.3" stroke="#55aa55" stroke-width="1" fill="none"/>
<path d="M615.3,1168.6 Q623.5,1168.6 631.8,1166.9" stroke="#55aa55" stroke-width="1" fill="none"/>
<path d="M669.8,1153.0 Q677.6,1153.0 685.5,1155.4" stroke="#55aa55" stroke-width="1" fill="none"/>
<path d="M782.1,1109.7 Q790.4,1109.7 798.6,1107.7" stroke="#55aa55" stroke-width="1" fill="none"/>
<path d="M852.7,1163.0 Q856.8,1163.0 860.8,1161.5" stroke="#55aa55" stroke-width="1" fill="none"/>
<path d="M809.5,1164.0 Q817.1,1164.0 824.8,1166.3" stroke="#55aa55" stroke-width="1" fill="none"/>
<path d="M87.0,1166.5 Q88.5,1166.5 90.0,1168.5" stroke="#55aa55" stroke-width="1" fill="none"/>
<text x="296.90" y="709.10" font-size="18.5" fill="#36a9e0" text-anchor="start">Y</text>
<text x="309.80" y="714.20" font-size="13" fill="#36a9e0" text-anchor="start" letter-spacing="0.6">8</text>
<text x="160.00" y="1002.00" font-size="18.5" fill="#36a9e0" text-anchor="start">Y</text>
<text x="172.50" y="1007.00" font-size="13" fill="#36a9e0" text-anchor="start" letter-spacing="0.6">4</text>
<text x="211.60" y="1086.60" font-size="18.5" fill="#36a9e0" text-anchor="start">Y</text>
<text x="224.50" y="1091.40" font-size="13" fill="#36a9e0" text-anchor="start" letter-spacing="0.6">5</text>
<text x="238.00" y="1111.20" font-size="18.5" fill="#e5812f" text-anchor="start">B</text>
<text x="250.60" y="1116.00" font-size="13" fill="#e5812f" text-anchor="start" letter-spacing="0.6">5</text>
<text x="144.50" y="1117.50" font-size="18.5" fill="#e5812f" text-anchor="start">B</text>
<text x="157.00" y="1122.00" font-size="13" fill="#e5812f" text-anchor="start" letter-spacing="0.6">4</text>
<text x="100.75" y="1125.00" font-size="18.5" fill="#36a9e0" text-anchor="start">Y</text>
<text x="113.00" y="1130.00" font-size="13" fill="#36a9e0" text-anchor="start" letter-spacing="0.6">3</text>
<text x="75.50" y="1148.75" font-size="18.5" fill="#e5812f" text-anchor="start">B</text>
<text x="88.00" y="1153.25" font-size="13" fill="#e5812f" text-anchor="start" letter-spacing="0.6">3</text>
<text x="280.70" y="1086.90" font-size="18.5" fill="#36a9e0" text-anchor="start">Y</text>
<text x="292.60" y="1091.50" font-size="13" fill="#36a9e0" text-anchor="start" letter-spacing="0.6">6</text>
<text x="314.70" y="1086.90" font-size="18.5" fill="#e5812f" text-anchor="start">B</text>
<text x="327.40" y="1091.50" font-size="13" fill="#e5812f" text-anchor="start" letter-spacing="0.6">6</text>
<text x="349.20" y="1078.80" font-size="18.5" fill="#36a9e0" text-anchor="start">Y</text>
<text x="361.20" y="1083.90" font-size="13" fill="#36a9e0" text-anchor="start" letter-spacing="0.6">7</text>
<text x="391.60" y="1125.00" font-size="18.5" fill="#e5812f" text-anchor="start">B</text>
<text x="404.30" y="1129.50" font-size="13" fill="#e5812f" text-anchor="start" letter-spacing="0.6">7</text>
<text x="425.90" y="970.70" font-size="18.5" fill="#36a9e0" text-anchor="start">Y</text>
<text x="438.10" y="975.00" font-size="13" fill="#36a9e0" text-anchor="start" letter-spacing="0.6">9</text>
<text x="536.60" y="978.50" font-size="18.5" fill="#36a9e0" text-anchor="start">Y</text>
<text x="549.30" y="983.60" font-size="13" fill="#36a9e0" text-anchor="start" letter-spacing="0.6">11</text>
<text x="477.00" y="1056.40" font-size="18.5" fill="#36a9e0" text-anchor="start">Y</text>
<text x="489.60" y="1060.80" font-size="13" fill="#36a9e0" text-anchor="start" letter-spacing="0.6">10</text>
<text x="562.70" y="1072.40" font-size="18.5" fill="#e5812f" text-anchor="start">B</text>
<text x="575.40" y="1076.80" font-size="13" fill="#e5812f" text-anchor="start" letter-spacing="0.6">10</text>
<text x="494.00" y="1117.40" font-size="18.5" fill="#e5812f" text-anchor="start">B</text>
<text x="506.60" y="1121.90" font-size="13" fill="#e5812f" text-anchor="start" letter-spacing="0.6">9</text>
<text x="579.70" y="1141.00" font-size="18.5" fill="#e5812f" text-anchor="start">B</text>
<text x="592.40" y="1145.30" font-size="13" fill="#e5812f" text-anchor="start" letter-spacing="0.6">11</text>
<text x="596.80" y="1025.50" font-size="18.5" fill="#36a9e0" text-anchor="start">Y</text>
<text x="609.40" y="1030.30" font-size="13" fill="#36a9e0" text-anchor="start" letter-spacing="0.6">12</text>
<text x="681.90" y="1033.10" font-size="18.5" fill="#36a9e0" text-anchor="start">Y</text>
<text x="694.60" y="1037.40" font-size="13" fill="#36a9e0" text-anchor="start" letter-spacing="0.6">13</text>
<text x="708.50" y="1102.60" font-size="18.5" fill="#e5812f" text-anchor="start">B</text>
<text x="721.20" y="1107.20" font-size="13" fill="#e5812f" text-anchor="start" letter-spacing="0.6">13</text>
<text x="759.30" y="1048.30" font-size="18.5" fill="#e5812f" text-anchor="start">B</text>
<text x="772.00" y="1053.10" font-size="13" fill="#e5812f" text-anchor="start" letter-spacing="0.6">14</text>
<text x="810.60" y="1055.90" font-size="18.5" fill="#36a9e0" text-anchor="start">Y</text>
<text x="822.70" y="1060.80" font-size="13" fill="#36a9e0" text-anchor="start" letter-spacing="0.6">14</text>
<text x="827.80" y="1094.50" font-size="18.5" fill="#e5812f" text-anchor="start">B</text>
<text x="840.50" y="1099.10" font-size="13" fill="#e5812f" text-anchor="start" letter-spacing="0.6">15</text>
<text x="852.70" y="1132.60" font-size="18.5" fill="#36a9e0" text-anchor="start">Y</text>
<text x="865.40" y="1137.20" font-size="13" fill="#36a9e0" text-anchor="start" letter-spacing="0.6">15</text>
<text x="896.25" y="1094.50" font-size="18.5" fill="#e5812f" text-anchor="start">B</text>
<text x="908.75" y="1099.25" font-size="13" fill="#e5812f" text-anchor="start" letter-spacing="0.6">16</text>
<text x="930.50" y="1133.00" font-size="18.5" fill="#e5812f" text-anchor="start">B</text>
<text x="943.00" y="1138.00" font-size="13" fill="#e5812f" text-anchor="start" letter-spacing="0.6">17</text>
<path d="M320.3,700.2 L370.3,700.2 M358.6,694.2 L370.3,700.2 L358.6,706.2" stroke="#ee1c25" stroke-width="3.0" fill="none" stroke-linecap="round" stroke-linejoin="miter"/>
<path d="M362.4,1085.6 L345.9,1122.4 M344.7,1111.0 L345.9,1122.4 L357.4,1114.8" stroke="#ee1c25" stroke-width="3.0" fill="none" stroke-linecap="round" stroke-linejoin="miter"/>
<path d="M815.9,1062.0 L791.5,1099.1 M791.0,1086.9 L791.5,1099.1 L802.4,1093.2" stroke="#ee1c25" stroke-width="3.0" fill="none" stroke-linecap="round" stroke-linejoin="miter"/>
<path d="M860.3,1138.9 L851.2,1152.9 M850.7,1141.5 L851.2,1152.9 L862.1,1147.8" stroke="#ee1c25" stroke-width="3.0" fill="none" stroke-linecap="round" stroke-linejoin="miter"/>
</svg>
<div id="w">
<div class="box" style="left:50.5px;top:6.5px;width:117px;height:47.5px;font-size:27px;line-height:45px;letter-spacing:1.4px;text-indent:1.4px">CD166</div>
<div class="box" style="left:19.5px;top:614px;width:336px;height:48.5px;font-size:27px;line-height:46px;letter-spacing:1.2px;text-indent:1.2px">Zinc-α-2-glycoprotein</div>
<div class="big" style="left:91.7px;top:78px;width:100px">(a)</div>
<div class="big" style="left:130.5px;top:678.5px;width:100px">(b)</div>
<div class="tbl" style="left:375.8px;top:4.2px;width:634.2px;height:283.6px"></div>
<div class="hdr" style="left:378.6px;top:7px;width:628.9px;height:21.5px"></div>
<div class="hc" style="left:378.6px;top:7px;width:23.0px;height:21.5px;text-align:center">B</div>
<div class="hc" style="left:410.1px;top:7px;width:58.69999999999999px;height:21.5px">B Ions</div>
<div class="hs" style="left:400.6px;top:9px;height:17.5px"></div>
<div class="hc" style="left:476.8px;top:7px;width:59.099999999999966px;height:21.5px">B+2H</div>
<div class="hs" style="left:467.3px;top:9px;height:17.5px"></div>
<div class="hc" style="left:543.9px;top:7px;width:58.60000000000002px;height:21.5px">B-NH3</div>
<div class="hs" style="left:534.4px;top:9px;height:17.5px"></div>
<div class="hc" style="left:610.5px;top:7px;width:59.700000000000045px;height:21.5px">B-H2O</div>
<div class="hs" style="left:601px;top:9px;height:17.5px"></div>
<div class="hc" style="left:678.2px;top:7px;width:37.299999999999955px;height:21.5px">AA</div>
<div class="hs" style="left:668.7px;top:9px;height:17.5px"></div>
<div class="hc" style="left:723.5px;top:7px;width:58.700000000000045px;height:21.5px">Y Ions</div>
<div class="hs" style="left:714px;top:9px;height:17.5px"></div>
<div class="hc" style="left:790.2px;top:7px;width:59.0px;height:21.5px">Y+2H</div>
<div class="hs" style="left:780.7px;top:9px;height:17.5px"></div>
<div class="hc" style="left:857.2px;top:7px;width:59.69999999999993px;height:21.5px">Y-NH3</div>
<div class="hs" style="left:847.7px;top:9px;height:17.5px"></div>
<div class="hc" style="left:924.9px;top:7px;width:60.60000000000002px;height:21.5px">Y-H2O</div>
<div class="hs" style="left:915.4px;top:9px;height:17.5px"></div>
<div class="hc" style="left:985px;top:7px;width:22.5px;height:21.5px;text-align:center">Y</div>
<div class="hs" style="left:984px;top:9px;height:17.5px"></div>
<div class="gl" style="left:378.6px;top:28.00px;width:628.9px;height:1px"></div>
<div class="gl" style="left:378.6px;top:45.07px;width:628.9px;height:1px"></div>
<div class="gl" style="left:378.6px;top:62.14px;width:628.9px;height:1px"></div>
<div class="gl" style="left:378.6px;top:79.21px;width:628.9px;height:1px"></div>
<div class="gl" style="left:378.6px;top:96.28px;width:628.9px;height:1px"></div>
<div class="gl" style="left:378.6px;top:113.35px;width:628.9px;height:1px"></div>
<div class="gl" style="left:378.6px;top:130.42px;width:628.9px;height:1px"></div>
<div class="gl" style="left:378.6px;top:147.49px;width:628.9px;height:1px"></div>
<div class="gl" style="left:378.6px;top:164.56px;width:628.9px;height:1px"></div>
<div class="gl" style="left:378.6px;top:181.63px;width:628.9px;height:1px"></div>
<div class="gl" style="left:378.6px;top:198.70px;width:628.9px;height:1px"></div>
<div class="gl" style="left:378.6px;top:215.77px;width:628.9px;height:1px"></div>
<div class="gl" style="left:378.6px;top:232.84px;width:628.9px;height:1px"></div>
<div class="gl" style="left:378.6px;top:249.91px;width:628.9px;height:1px"></div>
<div class="gl" style="left:378.6px;top:266.98px;width:628.9px;height:1px"></div>
<div class="gl" style="left:378.6px;top:284.05px;width:628.9px;height:1px"></div>
<div class="gl" style="left:401.10px;top:28.5px;width:1px;height:256.05px"></div>
<div class="gl" style="left:467.80px;top:28.5px;width:1px;height:256.05px"></div>
<div class="gl" style="left:534.90px;top:28.5px;width:1px;height:256.05px"></div>
<div class="gl" style="left:601.50px;top:28.5px;width:1px;height:256.05px"></div>
<div class="gl" style="left:669.20px;top:28.5px;width:1px;height:256.05px"></div>
<div class="gl" style="left:714.50px;top:28.5px;width:1px;height:256.05px"></div>
<div class="gl" style="left:781.20px;top:28.5px;width:1px;height:256.05px"></div>
<div class="gl" style="left:848.20px;top:28.5px;width:1px;height:256.05px"></div>
<div class="gl" style="left:915.90px;top:28.5px;width:1px;height:256.05px"></div>
<div class="gl" style="left:984.50px;top:28.5px;width:1px;height:256.05px"></div>
<div class="ic" style="left:383.10px;top:28.50px;width:23.0px;height:17.07px;line-height:19.47px">1</div>
<div class="dc" style="left:401.60px;top:28.50px;width:66.70px;height:17.07px;line-height:19.47px">114.1</div>
<div class="dc" style="left:669.70px;top:28.50px;width:45.30px;height:17.07px;line-height:19.47px">L</div>
<div class="dc" style="left:715.00px;top:28.50px;width:66.70px;height:17.07px;line-height:19.47px">1,697.9</div>
<div class="dc" style="left:781.70px;top:28.50px;width:67.00px;height:17.07px;line-height:19.47px">849.4</div>
<div class="dc" style="left:848.70px;top:28.50px;width:67.70px;height:17.07px;line-height:19.47px">1,680.8</div>
<div class="dc" style="left:916.40px;top:28.50px;width:68.60px;height:17.07px;line-height:19.47px">1,679.8</div>
<div class="ic" style="left:988.50px;top:28.50px;width:22.5px;height:17.07px;line-height:19.47px">15</div>
<div class="ic" style="left:383.10px;top:45.57px;width:23.0px;height:17.07px;line-height:19.47px">2</div>
<div class="dc" style="left:401.60px;top:45.57px;width:66.70px;height:17.07px;line-height:19.47px">228.1</div>
<div class="dc" style="left:535.40px;top:45.57px;width:66.60px;height:17.07px;line-height:19.47px">211.1</div>
<div class="dc" style="left:669.70px;top:45.57px;width:45.30px;height:17.07px;line-height:19.47px">N</div>
<div class="dc" style="left:715.00px;top:45.57px;width:66.70px;height:17.07px;line-height:19.47px">1,584.8</div>
<div class="hl" style="left:787.20px;top:49.37px;width:55.50px;height:10.8px;background:#8cc0f2"></div>
<div class="dc" style="left:781.70px;top:45.57px;width:67.00px;height:17.07px;line-height:19.47px">792.9</div>
<div class="dc" style="left:848.70px;top:45.57px;width:67.70px;height:17.07px;line-height:19.47px">1,567.7</div>
<div class="dc" style="left:916.40px;top:45.57px;width:68.60px;height:17.07px;line-height:19.47px">1,566.8</div>
<div class="ic" style="left:988.50px;top:45.57px;width:22.5px;height:17.07px;line-height:19.47px">14</div>
<div class="ic" style="left:383.10px;top:62.64px;width:23.0px;height:17.07px;line-height:19.47px">3</div>
<div class="hl" style="left:407.10px;top:66.44px;width:55.20px;height:10.8px;background:#fb8262"></div>
<div class="dc" style="left:401.60px;top:62.64px;width:66.70px;height:17.07px;line-height:19.47px">341.2</div>
<div class="dc" style="left:535.40px;top:62.64px;width:66.60px;height:17.07px;line-height:19.47px">324.2</div>
<div class="dc" style="left:669.70px;top:62.64px;width:45.30px;height:17.07px;line-height:19.47px">L</div>
<div class="hl" style="left:720.50px;top:66.44px;width:55.20px;height:10.8px;background:#8cc0f2"></div>
<div class="dc" style="left:715.00px;top:62.64px;width:66.70px;height:17.07px;line-height:19.47px">1,470.7</div>
<div class="hl" style="left:787.20px;top:66.44px;width:55.50px;height:10.8px;background:#8cc0f2"></div>
<div class="dc" style="left:781.70px;top:62.64px;width:67.00px;height:17.07px;line-height:19.47px">735.9</div>
<div class="dc" style="left:848.70px;top:62.64px;width:67.70px;height:17.07px;line-height:19.47px">1,453.7</div>
<div class="dc" style="left:916.40px;top:62.64px;width:68.60px;height:17.07px;line-height:19.47px">1,452.7</div>
<div class="ic" style="left:988.50px;top:62.64px;width:22.5px;height:17.07px;line-height:19.47px">13</div>
<div class="ic" style="left:383.10px;top:79.71px;width:23.0px;height:17.07px;line-height:19.47px">4</div>
<div class="hl" style="left:407.10px;top:83.51px;width:55.20px;height:10.8px;background:#fb8262"></div>
<div class="dc" style="left:401.60px;top:79.71px;width:66.70px;height:17.07px;line-height:19.47px">428.3</div>
<div class="dc" style="left:535.40px;top:79.71px;width:66.60px;height:17.07px;line-height:19.47px">411.2</div>
<div class="dc" style="left:602.00px;top:79.71px;width:67.70px;height:17.07px;line-height:19.47px">410.2</div>
<div class="dc" style="left:669.70px;top:79.71px;width:45.30px;height:17.07px;line-height:19.47px">S</div>
<div class="hl" style="left:720.50px;top:83.51px;width:55.20px;height:10.8px;background:#8cc0f2"></div>
<div class="dc" style="left:715.00px;top:79.71px;width:66.70px;height:17.07px;line-height:19.47px">1,357.6</div>
<div class="hl" style="left:787.20px;top:83.51px;width:55.50px;height:10.8px;background:#8cc0f2"></div>
<div class="dc" style="left:781.70px;top:79.71px;width:67.00px;height:17.07px;line-height:19.47px">679.3</div>
<div class="dc" style="left:848.70px;top:79.71px;width:67.70px;height:17.07px;line-height:19.47px">1,340.6</div>
<div class="dc" style="left:916.40px;top:79.71px;width:68.60px;height:17.07px;line-height:19.47px">1,339.6</div>
<div class="ic" style="left:988.50px;top:79.71px;width:22.5px;height:17.07px;line-height:19.47px">12</div>
<div class="ic" style="left:383.10px;top:96.78px;width:23.0px;height:17.07px;line-height:19.47px">5</div>
<div class="hl" style="left:407.10px;top:100.58px;width:55.20px;height:10.8px;background:#fb8262"></div>
<div class="dc" style="left:401.60px;top:96.78px;width:66.70px;height:17.07px;line-height:19.47px">557.3</div>
<div class="hl" style="left:540.90px;top:100.58px;width:55.10px;height:10.8px;background:#90ee90"></div>
<div class="dc" style="left:535.40px;top:96.78px;width:66.60px;height:17.07px;line-height:19.47px">540.3</div>
<div class="hl" style="left:607.50px;top:100.58px;width:56.20px;height:10.8px;background:#90ee90"></div>
<div class="dc" style="left:602.00px;top:96.78px;width:67.70px;height:17.07px;line-height:19.47px">539.3</div>
<div class="dc" style="left:669.70px;top:96.78px;width:45.30px;height:17.07px;line-height:19.47px">E</div>
<div class="hl" style="left:720.50px;top:100.58px;width:55.20px;height:10.8px;background:#8cc0f2"></div>
<div class="dc" style="left:715.00px;top:96.78px;width:66.70px;height:17.07px;line-height:19.47px">1,270.6</div>
<div class="dc" style="left:781.70px;top:96.78px;width:67.00px;height:17.07px;line-height:19.47px">635.8</div>
<div class="dc" style="left:848.70px;top:96.78px;width:67.70px;height:17.07px;line-height:19.47px">1,253.6</div>
<div class="dc" style="left:916.40px;top:96.78px;width:68.60px;height:17.07px;line-height:19.47px">1,252.6</div>
<div class="ic" style="left:988.50px;top:96.78px;width:22.5px;height:17.07px;line-height:19.47px">11</div>
<div class="ic" style="left:383.10px;top:113.85px;width:23.0px;height:17.07px;line-height:19.47px">6</div>
<div class="hl" style="left:407.10px;top:117.65px;width:55.20px;height:10.8px;background:#fb8262"></div>
<div class="dc" style="left:401.60px;top:113.85px;width:66.70px;height:17.07px;line-height:19.47px">674.3</div>
<div class="dc" style="left:468.30px;top:113.85px;width:67.10px;height:17.07px;line-height:19.47px">337.7</div>
<div class="dc" style="left:535.40px;top:113.85px;width:66.60px;height:17.07px;line-height:19.47px">657.3</div>
<div class="hl" style="left:607.50px;top:117.65px;width:56.20px;height:10.8px;background:#90ee90"></div>
<div class="dc" style="left:602.00px;top:113.85px;width:67.70px;height:17.07px;line-height:19.47px">656.3</div>
<div class="dc" style="left:669.70px;top:113.85px;width:45.30px;height:17.07px;line-height:19.47px">N+3</div>
<div class="hl" style="left:720.50px;top:117.65px;width:55.20px;height:10.8px;background:#8cc0f2"></div>
<div class="dc" style="left:715.00px;top:113.85px;width:66.70px;height:17.07px;line-height:19.47px">1,141.6</div>
<div class="dc" style="left:781.70px;top:113.85px;width:67.00px;height:17.07px;line-height:19.47px">571.3</div>
<div class="dc" style="left:848.70px;top:113.85px;width:67.70px;height:17.07px;line-height:19.47px">1,124.5</div>
<div class="dc" style="left:916.40px;top:113.85px;width:68.60px;height:17.07px;line-height:19.47px">1,123.6</div>
<div class="ic" style="left:988.50px;top:113.85px;width:22.5px;height:17.07px;line-height:19.47px">10</div>
<div class="ic" style="left:383.10px;top:130.92px;width:23.0px;height:17.07px;line-height:19.47px">7</div>
<div class="hl" style="left:407.10px;top:134.72px;width:55.20px;height:10.8px;background:#fb8262"></div>
<div class="dc" style="left:401.60px;top:130.92px;width:66.70px;height:17.07px;line-height:19.47px">837.4</div>
<div class="dc" style="left:468.30px;top:130.92px;width:67.10px;height:17.07px;line-height:19.47px">419.2</div>
<div class="dc" style="left:535.40px;top:130.92px;width:66.60px;height:17.07px;line-height:19.47px">820.4</div>
<div class="hl" style="left:607.50px;top:134.72px;width:56.20px;height:10.8px;background:#90ee90"></div>
<div class="dc" style="left:602.00px;top:130.92px;width:67.70px;height:17.07px;line-height:19.47px">819.4</div>
<div class="dc" style="left:669.70px;top:130.92px;width:45.30px;height:17.07px;line-height:19.47px">Y</div>
<div class="hl" style="left:720.50px;top:134.72px;width:55.20px;height:10.8px;background:#8cc0f2"></div>
<div class="dc" style="left:715.00px;top:130.92px;width:66.70px;height:17.07px;line-height:19.47px">1,024.5</div>
<div class="dc" style="left:781.70px;top:130.92px;width:67.00px;height:17.07px;line-height:19.47px">512.8</div>
<div class="dc" style="left:848.70px;top:130.92px;width:67.70px;height:17.07px;line-height:19.47px">1,007.5</div>
<div class="hl" style="left:921.90px;top:134.72px;width:57.10px;height:10.8px;background:#90ee90"></div>
<div class="dc" style="left:916.40px;top:130.92px;width:68.60px;height:17.07px;line-height:19.47px">1,006.5</div>
<div class="ic" style="left:988.50px;top:130.92px;width:22.5px;height:17.07px;line-height:19.47px">9</div>
<div class="ic" style="left:383.10px;top:147.99px;width:23.0px;height:17.07px;line-height:19.47px">8</div>
<div class="hl" style="left:407.10px;top:151.79px;width:55.20px;height:10.8px;background:#fb8262"></div>
<div class="dc" style="left:401.60px;top:147.99px;width:66.70px;height:17.07px;line-height:19.47px">938.4</div>
<div class="dc" style="left:468.30px;top:147.99px;width:67.10px;height:17.07px;line-height:19.47px">469.7</div>
<div class="dc" style="left:535.40px;top:147.99px;width:66.60px;height:17.07px;line-height:19.47px">921.4</div>
<div class="hl" style="left:607.50px;top:151.79px;width:56.20px;height:10.8px;background:#90ee90"></div>
<div class="dc" style="left:602.00px;top:147.99px;width:67.70px;height:17.07px;line-height:19.47px">920.4</div>
<div class="dc" style="left:669.70px;top:147.99px;width:45.30px;height:17.07px;line-height:19.47px">T</div>
<div class="hl" style="left:720.50px;top:151.79px;width:55.20px;height:10.8px;background:#8cc0f2"></div>
<div class="dc" style="left:715.00px;top:147.99px;width:66.70px;height:17.07px;line-height:19.47px">861.5</div>
<div class="dc" style="left:781.70px;top:147.99px;width:67.00px;height:17.07px;line-height:19.47px">431.2</div>
<div class="dc" style="left:848.70px;top:147.99px;width:67.70px;height:17.07px;line-height:19.47px">844.5</div>
<div class="dc" style="left:916.40px;top:147.99px;width:68.60px;height:17.07px;line-height:19.47px">843.5</div>
<div class="ic" style="left:988.50px;top:147.99px;width:22.5px;height:17.07px;line-height:19.47px">8</div>
<div class="ic" style="left:383.10px;top:165.06px;width:23.0px;height:17.07px;line-height:19.47px">9</div>
<div class="hl" style="left:407.10px;top:168.86px;width:55.20px;height:10.8px;background:#fb8262"></div>
<div class="dc" style="left:401.60px;top:165.06px;width:66.70px;height:17.07px;line-height:19.47px">1,051.5</div>
<div class="dc" style="left:468.30px;top:165.06px;width:67.10px;height:17.07px;line-height:19.47px">526.3</div>
<div class="dc" style="left:535.40px;top:165.06px;width:66.60px;height:17.07px;line-height:19.47px">1,034.5</div>
<div class="hl" style="left:607.50px;top:168.86px;width:56.20px;height:10.8px;background:#90ee90"></div>
<div class="dc" style="left:602.00px;top:165.06px;width:67.70px;height:17.07px;line-height:19.47px">1,033.5</div>
<div class="dc" style="left:669.70px;top:165.06px;width:45.30px;height:17.07px;line-height:19.47px">L</div>
<div class="hl" style="left:720.50px;top:168.86px;width:55.20px;height:10.8px;background:#8cc0f2"></div>
<div class="dc" style="left:715.00px;top:165.06px;width:66.70px;height:17.07px;line-height:19.47px">760.4</div>
<div class="dc" style="left:781.70px;top:165.06px;width:67.00px;height:17.07px;line-height:19.47px">380.7</div>
<div class="hl" style="left:854.20px;top:168.86px;width:56.20px;height:10.8px;background:#90ee90"></div>
<div class="dc" style="left:848.70px;top:165.06px;width:67.70px;height:17.07px;line-height:19.47px">743.4</div>
<div class="hl" style="left:921.90px;top:168.86px;width:57.10px;height:10.8px;background:#90ee90"></div>
<div class="dc" style="left:916.40px;top:165.06px;width:68.60px;height:17.07px;line-height:19.47px">742.4</div>
<div class="ic" style="left:988.50px;top:165.06px;width:22.5px;height:17.07px;line-height:19.47px">7</div>
<div class="ic" style="left:383.10px;top:182.13px;width:23.0px;height:17.07px;line-height:19.47px">10</div>
<div class="hl" style="left:407.10px;top:185.93px;width:55.20px;height:10.8px;background:#fb8262"></div>
<div class="dc" style="left:401.60px;top:182.13px;width:66.70px;height:17.07px;line-height:19.47px">1,138.6</div>
<div class="dc" style="left:468.30px;top:182.13px;width:67.10px;height:17.07px;line-height:19.47px">569.8</div>
<div class="dc" style="left:535.40px;top:182.13px;width:66.60px;height:17.07px;line-height:19.47px">1,121.5</div>
<div class="hl" style="left:607.50px;top:185.93px;width:56.20px;height:10.8px;background:#90ee90"></div>
<div class="dc" style="left:602.00px;top:182.13px;width:67.70px;height:17.07px;line-height:19.47px">1,120.5</div>
<div class="dc" style="left:669.70px;top:182.13px;width:45.30px;height:17.07px;line-height:19.47px">S</div>
<div class="hl" style="left:720.50px;top:185.93px;width:55.20px;height:10.8px;background:#8cc0f2"></div>
<div class="dc" style="left:715.00px;top:182.13px;width:66.70px;height:17.07px;line-height:19.47px">647.3</div>
<div class="dc" style="left:781.70px;top:182.13px;width:67.00px;height:17.07px;line-height:19.47px">324.2</div>
<div class="dc" style="left:848.70px;top:182.13px;width:67.70px;height:17.07px;line-height:19.47px">630.3</div>
<div class="hl" style="left:921.90px;top:185.93px;width:57.10px;height:10.8px;background:#90ee90"></div>
<div class="dc" style="left:916.40px;top:182.13px;width:68.60px;height:17.07px;line-height:19.47px">629.3</div>
<div class="ic" style="left:988.50px;top:182.13px;width:22.5px;height:17.07px;line-height:19.47px">6</div>
<div class="ic" style="left:383.10px;top:199.20px;width:23.0px;height:17.07px;line-height:19.47px">11</div>
<div class="hl" style="left:407.10px;top:203.00px;width:55.20px;height:10.8px;background:#fb8262"></div>
<div class="dc" style="left:401.60px;top:199.20px;width:66.70px;height:17.07px;line-height:19.47px">1,251.6</div>
<div class="hl" style="left:473.80px;top:203.00px;width:55.60px;height:10.8px;background:#fb8262"></div>
<div class="dc" style="left:468.30px;top:199.20px;width:67.10px;height:17.07px;line-height:19.47px">626.3</div>
<div class="dc" style="left:535.40px;top:199.20px;width:66.60px;height:17.07px;line-height:19.47px">1,234.6</div>
<div class="hl" style="left:607.50px;top:203.00px;width:56.20px;height:10.8px;background:#90ee90"></div>
<div class="dc" style="left:602.00px;top:199.20px;width:67.70px;height:17.07px;line-height:19.47px">1,233.6</div>
<div class="dc" style="left:669.70px;top:199.20px;width:45.30px;height:17.07px;line-height:19.47px">I</div>
<div class="hl" style="left:720.50px;top:203.00px;width:55.20px;height:10.8px;background:#8cc0f2"></div>
<div class="dc" style="left:715.00px;top:199.20px;width:66.70px;height:17.07px;line-height:19.47px">560.3</div>
<div class="hl" style="left:854.20px;top:203.00px;width:56.20px;height:10.8px;background:#90ee90"></div>
<div class="dc" style="left:848.70px;top:199.20px;width:67.70px;height:17.07px;line-height:19.47px">543.3</div>
<div class="dc" style="left:916.40px;top:199.20px;width:68.60px;height:17.07px;line-height:19.47px">542.3</div>
<div class="ic" style="left:988.50px;top:199.20px;width:22.5px;height:17.07px;line-height:19.47px">5</div>
<div class="ic" style="left:383.10px;top:216.27px;width:23.0px;height:17.07px;line-height:19.47px">12</div>
<div class="hl" style="left:407.10px;top:220.07px;width:55.20px;height:10.8px;background:#fb8262"></div>
<div class="dc" style="left:401.60px;top:216.27px;width:66.70px;height:17.07px;line-height:19.47px">1,338.7</div>
<div class="dc" style="left:468.30px;top:216.27px;width:67.10px;height:17.07px;line-height:19.47px">669.8</div>
<div class="hl" style="left:540.90px;top:220.07px;width:55.10px;height:10.8px;background:#90ee90"></div>
<div class="dc" style="left:535.40px;top:216.27px;width:66.60px;height:17.07px;line-height:19.47px">1,321.6</div>
<div class="hl" style="left:607.50px;top:220.07px;width:56.20px;height:10.8px;background:#90ee90"></div>
<div class="dc" style="left:602.00px;top:216.27px;width:67.70px;height:17.07px;line-height:19.47px">1,320.7</div>
<div class="dc" style="left:669.70px;top:216.27px;width:45.30px;height:17.07px;line-height:19.47px">S</div>
<div class="hl" style="left:720.50px;top:220.07px;width:55.20px;height:10.8px;background:#8cc0f2"></div>
<div class="dc" style="left:715.00px;top:216.27px;width:66.70px;height:17.07px;line-height:19.47px">447.2</div>
<div class="hl" style="left:854.20px;top:220.07px;width:56.20px;height:10.8px;background:#90ee90"></div>
<div class="dc" style="left:848.70px;top:216.27px;width:67.70px;height:17.07px;line-height:19.47px">430.2</div>
<div class="hl" style="left:921.90px;top:220.07px;width:57.10px;height:10.8px;background:#90ee90"></div>
<div class="dc" style="left:916.40px;top:216.27px;width:68.60px;height:17.07px;line-height:19.47px">429.2</div>
<div class="ic" style="left:988.50px;top:216.27px;width:22.5px;height:17.07px;line-height:19.47px">4</div>
<div class="ic" style="left:383.10px;top:233.34px;width:23.0px;height:17.07px;line-height:19.47px">13</div>
<div class="hl" style="left:407.10px;top:237.14px;width:55.20px;height:10.8px;background:#fb8262"></div>
<div class="dc" style="left:401.60px;top:233.34px;width:66.70px;height:17.07px;line-height:19.47px">1,452.7</div>
<div class="hl" style="left:473.80px;top:237.14px;width:55.60px;height:10.8px;background:#fb8262"></div>
<div class="dc" style="left:468.30px;top:233.34px;width:67.10px;height:17.07px;line-height:19.47px">726.9</div>
<div class="dc" style="left:535.40px;top:233.34px;width:66.60px;height:17.07px;line-height:19.47px">1,435.7</div>
<div class="hl" style="left:607.50px;top:237.14px;width:56.20px;height:10.8px;background:#90ee90"></div>
<div class="dc" style="left:602.00px;top:233.34px;width:67.70px;height:17.07px;line-height:19.47px">1,434.7</div>
<div class="dc" style="left:669.70px;top:233.34px;width:45.30px;height:17.07px;line-height:19.47px">N</div>
<div class="hl" style="left:720.50px;top:237.14px;width:55.20px;height:10.8px;background:#8cc0f2"></div>
<div class="dc" style="left:715.00px;top:233.34px;width:66.70px;height:17.07px;line-height:19.47px">360.2</div>
<div class="dc" style="left:848.70px;top:233.34px;width:67.70px;height:17.07px;line-height:19.47px">343.2</div>
<div class="ic" style="left:988.50px;top:233.34px;width:22.5px;height:17.07px;line-height:19.47px">3</div>
<div class="ic" style="left:383.10px;top:250.41px;width:23.0px;height:17.07px;line-height:19.47px">14</div>
<div class="hl" style="left:407.10px;top:254.21px;width:55.20px;height:10.8px;background:#fb8262"></div>
<div class="dc" style="left:401.60px;top:250.41px;width:66.70px;height:17.07px;line-height:19.47px">1,523.7</div>
<div class="dc" style="left:468.30px;top:250.41px;width:67.10px;height:17.07px;line-height:19.47px">762.4</div>
<div class="hl" style="left:540.90px;top:254.21px;width:55.10px;height:10.8px;background:#90ee90"></div>
<div class="dc" style="left:535.40px;top:250.41px;width:66.60px;height:17.07px;line-height:19.47px">1,506.7</div>
<div class="hl" style="left:607.50px;top:254.21px;width:56.20px;height:10.8px;background:#90ee90"></div>
<div class="dc" style="left:602.00px;top:250.41px;width:67.70px;height:17.07px;line-height:19.47px">1,505.7</div>
<div class="dc" style="left:669.70px;top:250.41px;width:45.30px;height:17.07px;line-height:19.47px">A</div>
<div class="hl" style="left:720.50px;top:254.21px;width:55.20px;height:10.8px;background:#8cc0f2"></div>
<div class="dc" style="left:715.00px;top:250.41px;width:66.70px;height:17.07px;line-height:19.47px">246.2</div>
<div class="dc" style="left:848.70px;top:250.41px;width:67.70px;height:17.07px;line-height:19.47px">229.1</div>
<div class="ic" style="left:988.50px;top:250.41px;width:22.5px;height:17.07px;line-height:19.47px">2</div>
<div class="ic" style="left:383.10px;top:267.48px;width:23.0px;height:17.07px;line-height:19.47px">15</div>
<div class="hl" style="left:407.10px;top:271.28px;width:55.20px;height:10.8px;background:#fb8262"></div>
<div class="dc" style="left:401.60px;top:267.48px;width:66.70px;height:17.07px;line-height:19.47px">1,697.9</div>
<div class="dc" style="left:468.30px;top:267.48px;width:67.10px;height:17.07px;line-height:19.47px">849.4</div>
<div class="dc" style="left:535.40px;top:267.48px;width:66.60px;height:17.07px;line-height:19.47px">1,680.8</div>
<div class="dc" style="left:602.00px;top:267.48px;width:67.70px;height:17.07px;line-height:19.47px">1,679.8</div>
<div class="dc" style="left:669.70px;top:267.48px;width:45.30px;height:17.07px;line-height:19.47px">R</div>
<div class="dc" style="left:715.00px;top:267.48px;width:66.70px;height:17.07px;line-height:19.47px">175.1</div>
<div class="dc" style="left:848.70px;top:267.48px;width:67.70px;height:17.07px;line-height:19.47px">158.1</div>
<div class="ic" style="left:988.50px;top:267.48px;width:22.5px;height:17.07px;line-height:19.47px">1</div>
<div class="tbl" style="left:394.2px;top:612px;width:604.3px;height:329.79999999999995px"></div>
<div class="hdr" style="left:397px;top:614.8px;width:598.3px;height:20.800000000000068px"></div>
<div class="hc" style="left:397px;top:614.8px;width:21px;height:20.800000000000068px;text-align:center">B</div>
<div class="hc" style="left:426.5px;top:614.8px;width:55.5px;height:20.800000000000068px">B Ions</div>
<div class="hs" style="left:417px;top:616.8px;height:16.800000000000068px"></div>
<div class="hc" style="left:490.0px;top:614.8px;width:55.799999999999955px;height:20.800000000000068px">B+2H</div>
<div class="hs" style="left:480.5px;top:616.8px;height:16.800000000000068px"></div>
<div class="hc" style="left:553.8px;top:614.8px;width:56.200000000000045px;height:20.800000000000068px">B-NH3</div>
<div class="hs" style="left:544.3px;top:616.8px;height:16.800000000000068px"></div>
<div class="hc" style="left:618.0px;top:614.8px;width:55.799999999999955px;height:20.800000000000068px">B-H2O</div>
<div class="hs" style="left:608.5px;top:616.8px;height:16.800000000000068px"></div>
<div class="hc" style="left:681.8px;top:614.8px;width:35.30000000000007px;height:20.800000000000068px">AA</div>
<div class="hs" style="left:672.3px;top:616.8px;height:16.800000000000068px"></div>
<div class="hc" style="left:725.1px;top:614.8px;width:55.799999999999955px;height:20.800000000000068px">Y Ions</div>
<div class="hs" style="left:715.6px;top:616.8px;height:16.800000000000068px"></div>
<div class="hc" style="left:788.9px;top:614.8px;width:56.10000000000002px;height:20.800000000000068px">Y+2H</div>
<div class="hs" style="left:779.4px;top:616.8px;height:16.800000000000068px"></div>
<div class="hc" style="left:853.0px;top:614.8px;width:55.799999999999955px;height:20.800000000000068px">Y-NH3</div>
<div class="hs" style="left:843.5px;top:616.8px;height:16.800000000000068px"></div>
<div class="hc" style="left:916.8px;top:614.8px;width:56.5px;height:20.800000000000068px">Y-H2O</div>
<div class="hs" style="left:907.3px;top:616.8px;height:16.800000000000068px"></div>
<div class="hc" style="left:972.8px;top:614.8px;width:22.5px;height:20.800000000000068px;text-align:center">Y</div>
<div class="hs" style="left:971.8px;top:616.8px;height:16.800000000000068px"></div>
<div class="gl" style="left:397px;top:635.10px;width:598.3px;height:1px"></div>
<div class="gl" style="left:397px;top:651.94px;width:598.3px;height:1px"></div>
<div class="gl" style="left:397px;top:668.78px;width:598.3px;height:1px"></div>
<div class="gl" style="left:397px;top:685.62px;width:598.3px;height:1px"></div>
<div class="gl" style="left:397px;top:702.46px;width:598.3px;height:1px"></div>
<div class="gl" style="left:397px;top:719.30px;width:598.3px;height:1px"></div>
<div class="gl" style="left:397px;top:736.14px;width:598.3px;height:1px"></div>
<div class="gl" style="left:397px;top:752.98px;width:598.3px;height:1px"></div>
<div class="gl" style="left:397px;top:769.82px;width:598.3px;height:1px"></div>
<div class="gl" style="left:397px;top:786.66px;width:598.3px;height:1px"></div>
<div class="gl" style="left:397px;top:803.50px;width:598.3px;height:1px"></div>
<div class="gl" style="left:397px;top:820.34px;width:598.3px;height:1px"></div>
<div class="gl" style="left:397px;top:837.18px;width:598.3px;height:1px"></div>
<div class="gl" style="left:397px;top:854.02px;width:598.3px;height:1px"></div>
<div class="gl" style="left:397px;top:870.86px;width:598.3px;height:1px"></div>
<div class="gl" style="left:397px;top:887.70px;width:598.3px;height:1px"></div>
<div class="gl" style="left:397px;top:904.54px;width:598.3px;height:1px"></div>
<div class="gl" style="left:397px;top:921.38px;width:598.3px;height:1px"></div>
<div class="gl" style="left:397px;top:938.22px;width:598.3px;height:1px"></div>
<div class="gl" style="left:417.50px;top:635.6px;width:1px;height:303.12px"></div>
<div class="gl" style="left:481.00px;top:635.6px;width:1px;height:303.12px"></div>
<div class="gl" style="left:544.80px;top:635.6px;width:1px;height:303.12px"></div>
<div class="gl" style="left:609.00px;top:635.6px;width:1px;height:303.12px"></div>
<div class="gl" style="left:672.80px;top:635.6px;width:1px;height:303.12px"></div>
<div class="gl" style="left:716.10px;top:635.6px;width:1px;height:303.12px"></div>
<div class="gl" style="left:779.90px;top:635.6px;width:1px;height:303.12px"></div>
<div class="gl" style="left:844.00px;top:635.6px;width:1px;height:303.12px"></div>
<div class="gl" style="left:907.80px;top:635.6px;width:1px;height:303.12px"></div>
<div class="gl" style="left:972.30px;top:635.6px;width:1px;height:303.12px"></div>
<div class="ic" style="left:401.50px;top:635.60px;width:21px;height:16.84px;line-height:19.24px">1</div>
<div class="dc" style="left:418.00px;top:635.60px;width:63.50px;height:16.84px;line-height:19.24px">116.0</div>
<div class="dc" style="left:609.50px;top:635.60px;width:63.80px;height:16.84px;line-height:19.24px">98.0</div>
<div class="dc" style="left:673.30px;top:635.60px;width:43.30px;height:16.84px;line-height:19.24px">D</div>
<div class="dc" style="left:716.60px;top:635.60px;width:63.80px;height:16.84px;line-height:19.24px">2,069.9</div>
<div class="dc" style="left:780.40px;top:635.60px;width:64.10px;height:16.84px;line-height:19.24px">1,035.5</div>
<div class="dc" style="left:844.50px;top:635.60px;width:63.80px;height:16.84px;line-height:19.24px">2,052.9</div>
<div class="dc" style="left:908.30px;top:635.60px;width:64.50px;height:16.84px;line-height:19.24px">2,051.9</div>
<div class="ic" style="left:976.30px;top:635.60px;width:22.5px;height:16.84px;line-height:19.24px">18</div>
<div class="ic" style="left:401.50px;top:652.44px;width:21px;height:16.84px;line-height:19.24px">2</div>
<div class="dc" style="left:418.00px;top:652.44px;width:63.50px;height:16.84px;line-height:19.24px">229.1</div>
<div class="dc" style="left:609.50px;top:652.44px;width:63.80px;height:16.84px;line-height:19.24px">211.1</div>
<div class="dc" style="left:673.30px;top:652.44px;width:43.30px;height:16.84px;line-height:19.24px">I</div>
<div class="dc" style="left:716.60px;top:652.44px;width:63.80px;height:16.84px;line-height:19.24px">1,954.9</div>
<div class="hl" style="left:785.90px;top:656.24px;width:52.60px;height:10.8px;background:#8cc0f2"></div>
<div class="dc" style="left:780.40px;top:652.44px;width:64.10px;height:16.84px;line-height:19.24px">978.0</div>
<div class="dc" style="left:844.50px;top:652.44px;width:63.80px;height:16.84px;line-height:19.24px">1,937.9</div>
<div class="dc" style="left:908.30px;top:652.44px;width:64.50px;height:16.84px;line-height:19.24px">1,936.9</div>
<div class="ic" style="left:976.30px;top:652.44px;width:22.5px;height:16.84px;line-height:19.24px">17</div>
<div class="ic" style="left:401.50px;top:669.28px;width:21px;height:16.84px;line-height:19.24px">3</div>
<div class="hl" style="left:423.50px;top:673.08px;width:52.00px;height:10.8px;background:#fb8262"></div>
<div class="dc" style="left:418.00px;top:669.28px;width:63.50px;height:16.84px;line-height:19.24px">328.2</div>
<div class="dc" style="left:609.50px;top:669.28px;width:63.80px;height:16.84px;line-height:19.24px">310.2</div>
<div class="dc" style="left:673.30px;top:669.28px;width:43.30px;height:16.84px;line-height:19.24px">V</div>
<div class="dc" style="left:716.60px;top:669.28px;width:63.80px;height:16.84px;line-height:19.24px">1,841.8</div>
<div class="hl" style="left:785.90px;top:673.08px;width:52.60px;height:10.8px;background:#8cc0f2"></div>
<div class="dc" style="left:780.40px;top:669.28px;width:64.10px;height:16.84px;line-height:19.24px">921.4</div>
<div class="dc" style="left:844.50px;top:669.28px;width:63.80px;height:16.84px;line-height:19.24px">1,824.8</div>
<div class="dc" style="left:908.30px;top:669.28px;width:64.50px;height:16.84px;line-height:19.24px">1,823.8</div>
<div class="ic" style="left:976.30px;top:669.28px;width:22.5px;height:16.84px;line-height:19.24px">16</div>
<div class="ic" style="left:401.50px;top:686.12px;width:21px;height:16.84px;line-height:19.24px">4</div>
<div class="hl" style="left:423.50px;top:689.92px;width:52.00px;height:10.8px;background:#fb8262"></div>
<div class="dc" style="left:418.00px;top:686.12px;width:63.50px;height:16.84px;line-height:19.24px">457.2</div>
<div class="hl" style="left:615.00px;top:689.92px;width:52.30px;height:10.8px;background:#90ee90"></div>
<div class="dc" style="left:609.50px;top:686.12px;width:63.80px;height:16.84px;line-height:19.24px">439.2</div>
<div class="dc" style="left:673.30px;top:686.12px;width:43.30px;height:16.84px;line-height:19.24px">E</div>
<div class="hl" style="left:722.10px;top:689.92px;width:52.30px;height:10.8px;background:#8cc0f2"></div>
<div class="dc" style="left:716.60px;top:686.12px;width:63.80px;height:16.84px;line-height:19.24px">1,742.8</div>
<div class="hl" style="left:785.90px;top:689.92px;width:52.60px;height:10.8px;background:#8cc0f2"></div>
<div class="dc" style="left:780.40px;top:686.12px;width:64.10px;height:16.84px;line-height:19.24px">871.9</div>
<div class="dc" style="left:844.50px;top:686.12px;width:63.80px;height:16.84px;line-height:19.24px">1,725.7</div>
<div class="hl" style="left:913.80px;top:689.92px;width:53.00px;height:10.8px;background:#90ee90"></div>
<div class="dc" style="left:908.30px;top:686.12px;width:64.50px;height:16.84px;line-height:19.24px">1,724.7</div>
<div class="ic" style="left:976.30px;top:686.12px;width:22.5px;height:16.84px;line-height:19.24px">15</div>
<div class="ic" style="left:401.50px;top:702.96px;width:21px;height:16.84px;line-height:19.24px">5</div>
<div class="hl" style="left:423.50px;top:706.76px;width:52.00px;height:10.8px;background:#fb8262"></div>
<div class="dc" style="left:418.00px;top:702.96px;width:63.50px;height:16.84px;line-height:19.24px">620.3</div>
<div class="hl" style="left:615.00px;top:706.76px;width:52.30px;height:10.8px;background:#90ee90"></div>
<div class="dc" style="left:609.50px;top:702.96px;width:63.80px;height:16.84px;line-height:19.24px">602.3</div>
<div class="dc" style="left:673.30px;top:702.96px;width:43.30px;height:16.84px;line-height:19.24px">Y</div>
<div class="hl" style="left:722.10px;top:706.76px;width:52.30px;height:10.8px;background:#8cc0f2"></div>
<div class="dc" style="left:716.60px;top:702.96px;width:63.80px;height:16.84px;line-height:19.24px">1,613.7</div>
<div class="hl" style="left:785.90px;top:706.76px;width:52.60px;height:10.8px;background:#8cc0f2"></div>
<div class="dc" style="left:780.40px;top:702.96px;width:64.10px;height:16.84px;line-height:19.24px">807.4</div>
<div class="dc" style="left:844.50px;top:702.96px;width:63.80px;height:16.84px;line-height:19.24px">1,596.7</div>
<div class="hl" style="left:913.80px;top:706.76px;width:53.00px;height:10.8px;background:#90ee90"></div>
<div class="dc" style="left:908.30px;top:702.96px;width:64.50px;height:16.84px;line-height:19.24px">1,595.7</div>
<div class="ic" style="left:976.30px;top:702.96px;width:22.5px;height:16.84px;line-height:19.24px">14</div>
<div class="ic" style="left:401.50px;top:719.80px;width:21px;height:16.84px;line-height:19.24px">6</div>
<div class="hl" style="left:423.50px;top:723.60px;width:52.00px;height:10.8px;background:#fb8262"></div>
<div class="dc" style="left:418.00px;top:719.80px;width:63.50px;height:16.84px;line-height:19.24px">783.4</div>
<div class="hl" style="left:487.00px;top:723.60px;width:52.30px;height:10.8px;background:#fb8262"></div>
<div class="dc" style="left:481.50px;top:719.80px;width:63.80px;height:16.84px;line-height:19.24px">392.2</div>
<div class="hl" style="left:615.00px;top:723.60px;width:52.30px;height:10.8px;background:#90ee90"></div>
<div class="dc" style="left:609.50px;top:719.80px;width:63.80px;height:16.84px;line-height:19.24px">765.3</div>
<div class="dc" style="left:673.30px;top:719.80px;width:43.30px;height:16.84px;line-height:19.24px">Y</div>
<div class="hl" style="left:722.10px;top:723.60px;width:52.30px;height:10.8px;background:#8cc0f2"></div>
<div class="dc" style="left:716.60px;top:719.80px;width:63.80px;height:16.84px;line-height:19.24px">1,450.6</div>
<div class="hl" style="left:785.90px;top:723.60px;width:52.60px;height:10.8px;background:#8cc0f2"></div>
<div class="dc" style="left:780.40px;top:719.80px;width:64.10px;height:16.84px;line-height:19.24px">725.8</div>
<div class="dc" style="left:844.50px;top:719.80px;width:63.80px;height:16.84px;line-height:19.24px">1,433.6</div>
<div class="hl" style="left:913.80px;top:723.60px;width:53.00px;height:10.8px;background:#90ee90"></div>
<div class="dc" style="left:908.30px;top:719.80px;width:64.50px;height:16.84px;line-height:19.24px">1,432.6</div>
<div class="ic" style="left:976.30px;top:719.80px;width:22.5px;height:16.84px;line-height:19.24px">13</div>
<div class="ic" style="left:401.50px;top:736.64px;width:21px;height:16.84px;line-height:19.24px">7</div>
<div class="hl" style="left:423.50px;top:740.44px;width:52.00px;height:10.8px;background:#fb8262"></div>
<div class="dc" style="left:418.00px;top:736.64px;width:63.50px;height:16.84px;line-height:19.24px">900.4</div>
<div class="dc" style="left:481.50px;top:736.64px;width:63.80px;height:16.84px;line-height:19.24px">450.7</div>
<div class="dc" style="left:545.30px;top:736.64px;width:64.20px;height:16.84px;line-height:19.24px">883.4</div>
<div class="hl" style="left:615.00px;top:740.44px;width:52.30px;height:10.8px;background:#90ee90"></div>
<div class="dc" style="left:609.50px;top:736.64px;width:63.80px;height:16.84px;line-height:19.24px">882.4</div>
<div class="dc" style="left:673.30px;top:736.64px;width:43.30px;height:16.84px;line-height:19.24px">N+3</div>
<div class="hl" style="left:722.10px;top:740.44px;width:52.30px;height:10.8px;background:#8cc0f2"></div>
<div class="dc" style="left:716.60px;top:736.64px;width:63.80px;height:16.84px;line-height:19.24px">1,287.6</div>
<div class="dc" style="left:780.40px;top:736.64px;width:64.10px;height:16.84px;line-height:19.24px">644.3</div>
<div class="dc" style="left:844.50px;top:736.64px;width:63.80px;height:16.84px;line-height:19.24px">1,270.6</div>
<div class="hl" style="left:913.80px;top:740.44px;width:53.00px;height:10.8px;background:#90ee90"></div>
<div class="dc" style="left:908.30px;top:736.64px;width:64.50px;height:16.84px;line-height:19.24px">1,269.6</div>
<div class="ic" style="left:976.30px;top:736.64px;width:22.5px;height:16.84px;line-height:19.24px">12</div>
<div class="ic" style="left:401.50px;top:753.48px;width:21px;height:16.84px;line-height:19.24px">8</div>
<div class="hl" style="left:423.50px;top:757.28px;width:52.00px;height:10.8px;background:#fb8262"></div>
<div class="dc" style="left:418.00px;top:753.48px;width:63.50px;height:16.84px;line-height:19.24px">1,015.4</div>
<div class="dc" style="left:481.50px;top:753.48px;width:63.80px;height:16.84px;line-height:19.24px">508.2</div>
<div class="dc" style="left:545.30px;top:753.48px;width:64.20px;height:16.84px;line-height:19.24px">998.4</div>
<div class="hl" style="left:615.00px;top:757.28px;width:52.30px;height:10.8px;background:#90ee90"></div>
<div class="dc" style="left:609.50px;top:753.48px;width:63.80px;height:16.84px;line-height:19.24px">997.4</div>
<div class="dc" style="left:673.30px;top:753.48px;width:43.30px;height:16.84px;line-height:19.24px">D</div>
<div class="hl" style="left:722.10px;top:757.28px;width:52.30px;height:10.8px;background:#8cc0f2"></div>
<div class="dc" style="left:716.60px;top:753.48px;width:63.80px;height:16.84px;line-height:19.24px">1,170.5</div>
<div class="hl" style="left:785.90px;top:757.28px;width:52.60px;height:10.8px;background:#8cc0f2"></div>
<div class="dc" style="left:780.40px;top:753.48px;width:64.10px;height:16.84px;line-height:19.24px">585.8</div>
<div class="hl" style="left:850.00px;top:757.28px;width:52.30px;height:10.8px;background:#90ee90"></div>
<div class="dc" style="left:844.50px;top:753.48px;width:63.80px;height:16.84px;line-height:19.24px">1,153.5</div>
<div class="hl" style="left:913.80px;top:757.28px;width:53.00px;height:10.8px;background:#90ee90"></div>
<div class="dc" style="left:908.30px;top:753.48px;width:64.50px;height:16.84px;line-height:19.24px">1,152.5</div>
<div class="ic" style="left:976.30px;top:753.48px;width:22.5px;height:16.84px;line-height:19.24px">11</div>
<div class="ic" style="left:401.50px;top:770.32px;width:21px;height:16.84px;line-height:19.24px">9</div>
<div class="hl" style="left:423.50px;top:774.12px;width:52.00px;height:10.8px;background:#fb8262"></div>
<div class="dc" style="left:418.00px;top:770.32px;width:63.50px;height:16.84px;line-height:19.24px">1,102.4</div>
<div class="dc" style="left:481.50px;top:770.32px;width:63.80px;height:16.84px;line-height:19.24px">551.7</div>
<div class="dc" style="left:545.30px;top:770.32px;width:64.20px;height:16.84px;line-height:19.24px">1,085.4</div>
<div class="hl" style="left:615.00px;top:774.12px;width:52.30px;height:10.8px;background:#90ee90"></div>
<div class="dc" style="left:609.50px;top:770.32px;width:63.80px;height:16.84px;line-height:19.24px">1,084.4</div>
<div class="dc" style="left:673.30px;top:770.32px;width:43.30px;height:16.84px;line-height:19.24px">S</div>
<div class="hl" style="left:722.10px;top:774.12px;width:52.30px;height:10.8px;background:#8cc0f2"></div>
<div class="dc" style="left:716.60px;top:770.32px;width:63.80px;height:16.84px;line-height:19.24px">1,055.5</div>
<div class="dc" style="left:780.40px;top:770.32px;width:64.10px;height:16.84px;line-height:19.24px">528.3</div>
<div class="dc" style="left:844.50px;top:770.32px;width:63.80px;height:16.84px;line-height:19.24px">1,038.5</div>
<div class="dc" style="left:908.30px;top:770.32px;width:64.50px;height:16.84px;line-height:19.24px">1,037.5</div>
<div class="ic" style="left:976.30px;top:770.32px;width:22.5px;height:16.84px;line-height:19.24px">10</div>
<div class="ic" style="left:401.50px;top:787.16px;width:21px;height:16.84px;line-height:19.24px">10</div>
<div class="hl" style="left:423.50px;top:790.96px;width:52.00px;height:10.8px;background:#fb8262"></div>
<div class="dc" style="left:418.00px;top:787.16px;width:63.50px;height:16.84px;line-height:19.24px">1,217.5</div>
<div class="dc" style="left:481.50px;top:787.16px;width:63.80px;height:16.84px;line-height:19.24px">609.2</div>
<div class="dc" style="left:545.30px;top:787.16px;width:64.20px;height:16.84px;line-height:19.24px">1,200.4</div>
<div class="hl" style="left:615.00px;top:790.96px;width:52.30px;height:10.8px;background:#90ee90"></div>
<div class="dc" style="left:609.50px;top:787.16px;width:63.80px;height:16.84px;line-height:19.24px">1,199.5</div>
<div class="dc" style="left:673.30px;top:787.16px;width:43.30px;height:16.84px;line-height:19.24px">N+1</div>
<div class="hl" style="left:722.10px;top:790.96px;width:52.30px;height:10.8px;background:#8cc0f2"></div>
<div class="dc" style="left:716.60px;top:787.16px;width:63.80px;height:16.84px;line-height:19.24px">968.5</div>
<div class="hl" style="left:785.90px;top:790.96px;width:52.60px;height:10.8px;background:#8cc0f2"></div>
<div class="dc" style="left:780.40px;top:787.16px;width:64.10px;height:16.84px;line-height:19.24px">484.7</div>
<div class="dc" style="left:844.50px;top:787.16px;width:63.80px;height:16.84px;line-height:19.24px">951.5</div>
<div class="hl" style="left:913.80px;top:790.96px;width:53.00px;height:10.8px;background:#90ee90"></div>
<div class="dc" style="left:908.30px;top:787.16px;width:64.50px;height:16.84px;line-height:19.24px">950.5</div>
<div class="ic" style="left:976.30px;top:787.16px;width:22.5px;height:16.84px;line-height:19.24px">9</div>
<div class="ic" style="left:401.50px;top:804.00px;width:21px;height:16.84px;line-height:19.24px">11</div>
<div class="hl" style="left:423.50px;top:807.80px;width:52.00px;height:10.8px;background:#fb8262"></div>
<div class="dc" style="left:418.00px;top:804.00px;width:63.50px;height:16.84px;line-height:19.24px">1,274.5</div>
<div class="dc" style="left:481.50px;top:804.00px;width:63.80px;height:16.84px;line-height:19.24px">637.8</div>
<div class="dc" style="left:545.30px;top:804.00px;width:64.20px;height:16.84px;line-height:19.24px">1,257.5</div>
<div class="dc" style="left:609.50px;top:804.00px;width:63.80px;height:16.84px;line-height:19.24px">1,256.5</div>
<div class="dc" style="left:673.30px;top:804.00px;width:43.30px;height:16.84px;line-height:19.24px">G</div>
<div class="hl" style="left:722.10px;top:807.80px;width:52.30px;height:10.8px;background:#8cc0f2"></div>
<div class="dc" style="left:716.60px;top:804.00px;width:63.80px;height:16.84px;line-height:19.24px">853.5</div>
<div class="dc" style="left:780.40px;top:804.00px;width:64.10px;height:16.84px;line-height:19.24px">427.2</div>
<div class="hl" style="left:850.00px;top:807.80px;width:52.30px;height:10.8px;background:#90ee90"></div>
<div class="dc" style="left:844.50px;top:804.00px;width:63.80px;height:16.84px;line-height:19.24px">836.4</div>
<div class="hl" style="left:913.80px;top:807.80px;width:53.00px;height:10.8px;background:#90ee90"></div>
<div class="dc" style="left:908.30px;top:804.00px;width:64.50px;height:16.84px;line-height:19.24px">835.5</div>
<div class="ic" style="left:976.30px;top:804.00px;width:22.5px;height:16.84px;line-height:19.24px">8</div>
<div class="ic" style="left:401.50px;top:820.84px;width:21px;height:16.84px;line-height:19.24px">12</div>
<div class="hl" style="left:423.50px;top:824.64px;width:52.00px;height:10.8px;background:#fb8262"></div>
<div class="dc" style="left:418.00px;top:820.84px;width:63.50px;height:16.84px;line-height:19.24px">1,361.5</div>
<div class="dc" style="left:481.50px;top:820.84px;width:63.80px;height:16.84px;line-height:19.24px">681.3</div>
<div class="dc" style="left:545.30px;top:820.84px;width:64.20px;height:16.84px;line-height:19.24px">1,344.5</div>
<div class="hl" style="left:615.00px;top:824.64px;width:52.30px;height:10.8px;background:#90ee90"></div>
<div class="dc" style="left:609.50px;top:820.84px;width:63.80px;height:16.84px;line-height:19.24px">1,343.5</div>
<div class="dc" style="left:673.30px;top:820.84px;width:43.30px;height:16.84px;line-height:19.24px">S</div>
<div class="hl" style="left:722.10px;top:824.64px;width:52.30px;height:10.8px;background:#8cc0f2"></div>
<div class="dc" style="left:716.60px;top:820.84px;width:63.80px;height:16.84px;line-height:19.24px">796.4</div>
<div class="dc" style="left:780.40px;top:820.84px;width:64.10px;height:16.84px;line-height:19.24px">398.7</div>
<div class="dc" style="left:844.50px;top:820.84px;width:63.80px;height:16.84px;line-height:19.24px">779.4</div>
<div class="hl" style="left:913.80px;top:824.64px;width:53.00px;height:10.8px;background:#90ee90"></div>
<div class="dc" style="left:908.30px;top:820.84px;width:64.50px;height:16.84px;line-height:19.24px">778.4</div>
<div class="ic" style="left:976.30px;top:820.84px;width:22.5px;height:16.84px;line-height:19.24px">7</div>
<div class="ic" style="left:401.50px;top:837.68px;width:21px;height:16.84px;line-height:19.24px">13</div>
<div class="hl" style="left:423.50px;top:841.48px;width:52.00px;height:10.8px;background:#fb8262"></div>
<div class="dc" style="left:418.00px;top:837.68px;width:63.50px;height:16.84px;line-height:19.24px">1,498.6</div>
<div class="dc" style="left:481.50px;top:837.68px;width:63.80px;height:16.84px;line-height:19.24px">749.8</div>
<div class="dc" style="left:545.30px;top:837.68px;width:64.20px;height:16.84px;line-height:19.24px">1,481.6</div>
<div class="hl" style="left:615.00px;top:841.48px;width:52.30px;height:10.8px;background:#90ee90"></div>
<div class="dc" style="left:609.50px;top:837.68px;width:63.80px;height:16.84px;line-height:19.24px">1,480.6</div>
<div class="dc" style="left:673.30px;top:837.68px;width:43.30px;height:16.84px;line-height:19.24px">H</div>
<div class="hl" style="left:722.10px;top:841.48px;width:52.30px;height:10.8px;background:#8cc0f2"></div>
<div class="dc" style="left:716.60px;top:837.68px;width:63.80px;height:16.84px;line-height:19.24px">709.4</div>
<div class="dc" style="left:780.40px;top:837.68px;width:64.10px;height:16.84px;line-height:19.24px">355.2</div>
<div class="dc" style="left:844.50px;top:837.68px;width:63.80px;height:16.84px;line-height:19.24px">692.4</div>
<div class="ic" style="left:976.30px;top:837.68px;width:22.5px;height:16.84px;line-height:19.24px">6</div>
<div class="ic" style="left:401.50px;top:854.52px;width:21px;height:16.84px;line-height:19.24px">14</div>
<div class="hl" style="left:423.50px;top:858.32px;width:52.00px;height:10.8px;background:#fb8262"></div>
<div class="dc" style="left:418.00px;top:854.52px;width:63.50px;height:16.84px;line-height:19.24px">1,597.7</div>
<div class="hl" style="left:487.00px;top:858.32px;width:52.30px;height:10.8px;background:#fb8262"></div>
<div class="dc" style="left:481.50px;top:854.52px;width:63.80px;height:16.84px;line-height:19.24px">799.3</div>
<div class="dc" style="left:545.30px;top:854.52px;width:64.20px;height:16.84px;line-height:19.24px">1,580.6</div>
<div class="hl" style="left:615.00px;top:858.32px;width:52.30px;height:10.8px;background:#90ee90"></div>
<div class="dc" style="left:609.50px;top:854.52px;width:63.80px;height:16.84px;line-height:19.24px">1,579.6</div>
<div class="dc" style="left:673.30px;top:854.52px;width:43.30px;height:16.84px;line-height:19.24px">V</div>
<div class="hl" style="left:722.10px;top:858.32px;width:52.30px;height:10.8px;background:#8cc0f2"></div>
<div class="dc" style="left:716.60px;top:854.52px;width:63.80px;height:16.84px;line-height:19.24px">572.4</div>
<div class="hl" style="left:850.00px;top:858.32px;width:52.30px;height:10.8px;background:#90ee90"></div>
<div class="dc" style="left:844.50px;top:854.52px;width:63.80px;height:16.84px;line-height:19.24px">555.3</div>
<div class="ic" style="left:976.30px;top:854.52px;width:22.5px;height:16.84px;line-height:19.24px">5</div>
<div class="ic" style="left:401.50px;top:871.36px;width:21px;height:16.84px;line-height:19.24px">15</div>
<div class="hl" style="left:423.50px;top:875.16px;width:52.00px;height:10.8px;background:#fb8262"></div>
<div class="dc" style="left:418.00px;top:871.36px;width:63.50px;height:16.84px;line-height:19.24px">1,710.7</div>
<div class="dc" style="left:481.50px;top:871.36px;width:63.80px;height:16.84px;line-height:19.24px">855.9</div>
<div class="dc" style="left:545.30px;top:871.36px;width:64.20px;height:16.84px;line-height:19.24px">1,693.7</div>
<div class="hl" style="left:615.00px;top:875.16px;width:52.30px;height:10.8px;background:#90ee90"></div>
<div class="dc" style="left:609.50px;top:871.36px;width:63.80px;height:16.84px;line-height:19.24px">1,692.7</div>
<div class="dc" style="left:673.30px;top:871.36px;width:43.30px;height:16.84px;line-height:19.24px">L</div>
<div class="hl" style="left:722.10px;top:875.16px;width:52.30px;height:10.8px;background:#8cc0f2"></div>
<div class="dc" style="left:716.60px;top:871.36px;width:63.80px;height:16.84px;line-height:19.24px">473.3</div>
<div class="dc" style="left:844.50px;top:871.36px;width:63.80px;height:16.84px;line-height:19.24px">456.3</div>
<div class="ic" style="left:976.30px;top:871.36px;width:22.5px;height:16.84px;line-height:19.24px">4</div>
<div class="ic" style="left:401.50px;top:888.20px;width:21px;height:16.84px;line-height:19.24px">16</div>
<div class="hl" style="left:423.50px;top:892.00px;width:52.00px;height:10.8px;background:#fb8262"></div>
<div class="dc" style="left:418.00px;top:888.20px;width:63.50px;height:16.84px;line-height:19.24px">1,838.8</div>
<div class="hl" style="left:487.00px;top:892.00px;width:52.30px;height:10.8px;background:#fb8262"></div>
<div class="dc" style="left:481.50px;top:888.20px;width:63.80px;height:16.84px;line-height:19.24px">919.9</div>
<div class="dc" style="left:545.30px;top:888.20px;width:64.20px;height:16.84px;line-height:19.24px">1,821.8</div>
<div class="hl" style="left:615.00px;top:892.00px;width:52.30px;height:10.8px;background:#90ee90"></div>
<div class="dc" style="left:609.50px;top:888.20px;width:63.80px;height:16.84px;line-height:19.24px">1,820.8</div>
<div class="dc" style="left:673.30px;top:888.20px;width:43.30px;height:16.84px;line-height:19.24px">Q</div>
<div class="hl" style="left:722.10px;top:892.00px;width:52.30px;height:10.8px;background:#8cc0f2"></div>
<div class="dc" style="left:716.60px;top:888.20px;width:63.80px;height:16.84px;line-height:19.24px">360.2</div>
<div class="hl" style="left:850.00px;top:892.00px;width:52.30px;height:10.8px;background:#90ee90"></div>
<div class="dc" style="left:844.50px;top:888.20px;width:63.80px;height:16.84px;line-height:19.24px">343.2</div>
<div class="ic" style="left:976.30px;top:888.20px;width:22.5px;height:16.84px;line-height:19.24px">3</div>
<div class="ic" style="left:401.50px;top:905.04px;width:21px;height:16.84px;line-height:19.24px">17</div>
<div class="hl" style="left:423.50px;top:908.84px;width:52.00px;height:10.8px;background:#fb8262"></div>
<div class="dc" style="left:418.00px;top:905.04px;width:63.50px;height:16.84px;line-height:19.24px">1,895.8</div>
<div class="hl" style="left:487.00px;top:908.84px;width:52.30px;height:10.8px;background:#fb8262"></div>
<div class="dc" style="left:481.50px;top:905.04px;width:63.80px;height:16.84px;line-height:19.24px">948.4</div>
<div class="dc" style="left:545.30px;top:905.04px;width:64.20px;height:16.84px;line-height:19.24px">1,878.8</div>
<div class="dc" style="left:609.50px;top:905.04px;width:63.80px;height:16.84px;line-height:19.24px">1,877.8</div>
<div class="dc" style="left:673.30px;top:905.04px;width:43.30px;height:16.84px;line-height:19.24px">G</div>
<div class="dc" style="left:716.60px;top:905.04px;width:63.80px;height:16.84px;line-height:19.24px">232.1</div>
<div class="dc" style="left:844.50px;top:905.04px;width:63.80px;height:16.84px;line-height:19.24px">215.1</div>
<div class="ic" style="left:976.30px;top:905.04px;width:22.5px;height:16.84px;line-height:19.24px">2</div>
<div class="ic" style="left:401.50px;top:921.88px;width:21px;height:16.84px;line-height:19.24px">18</div>
<div class="eb" style="left:422.50px;top:922.28px;width:52.50px;height:16.44px">2051.9</div>
<div class="dc" style="left:481.50px;top:921.88px;width:63.80px;height:16.84px;line-height:19.24px">1,035.5</div>
<div class="dc" style="left:545.30px;top:921.88px;width:64.20px;height:16.84px;line-height:19.24px">2,052.9</div>
<div class="dc" style="left:609.50px;top:921.88px;width:63.80px;height:16.84px;line-height:19.24px">2,051.9</div>
<div class="dc" style="left:673.30px;top:921.88px;width:43.30px;height:16.84px;line-height:19.24px">R</div>
<div class="dc" style="left:716.60px;top:921.88px;width:63.80px;height:16.84px;line-height:19.24px">175.1</div>
<div class="dc" style="left:844.50px;top:921.88px;width:63.80px;height:16.84px;line-height:19.24px">158.1</div>
<div class="ic" style="left:976.30px;top:921.88px;width:22.5px;height:16.84px;line-height:19.24px">1</div>
</div>
</body></html>
